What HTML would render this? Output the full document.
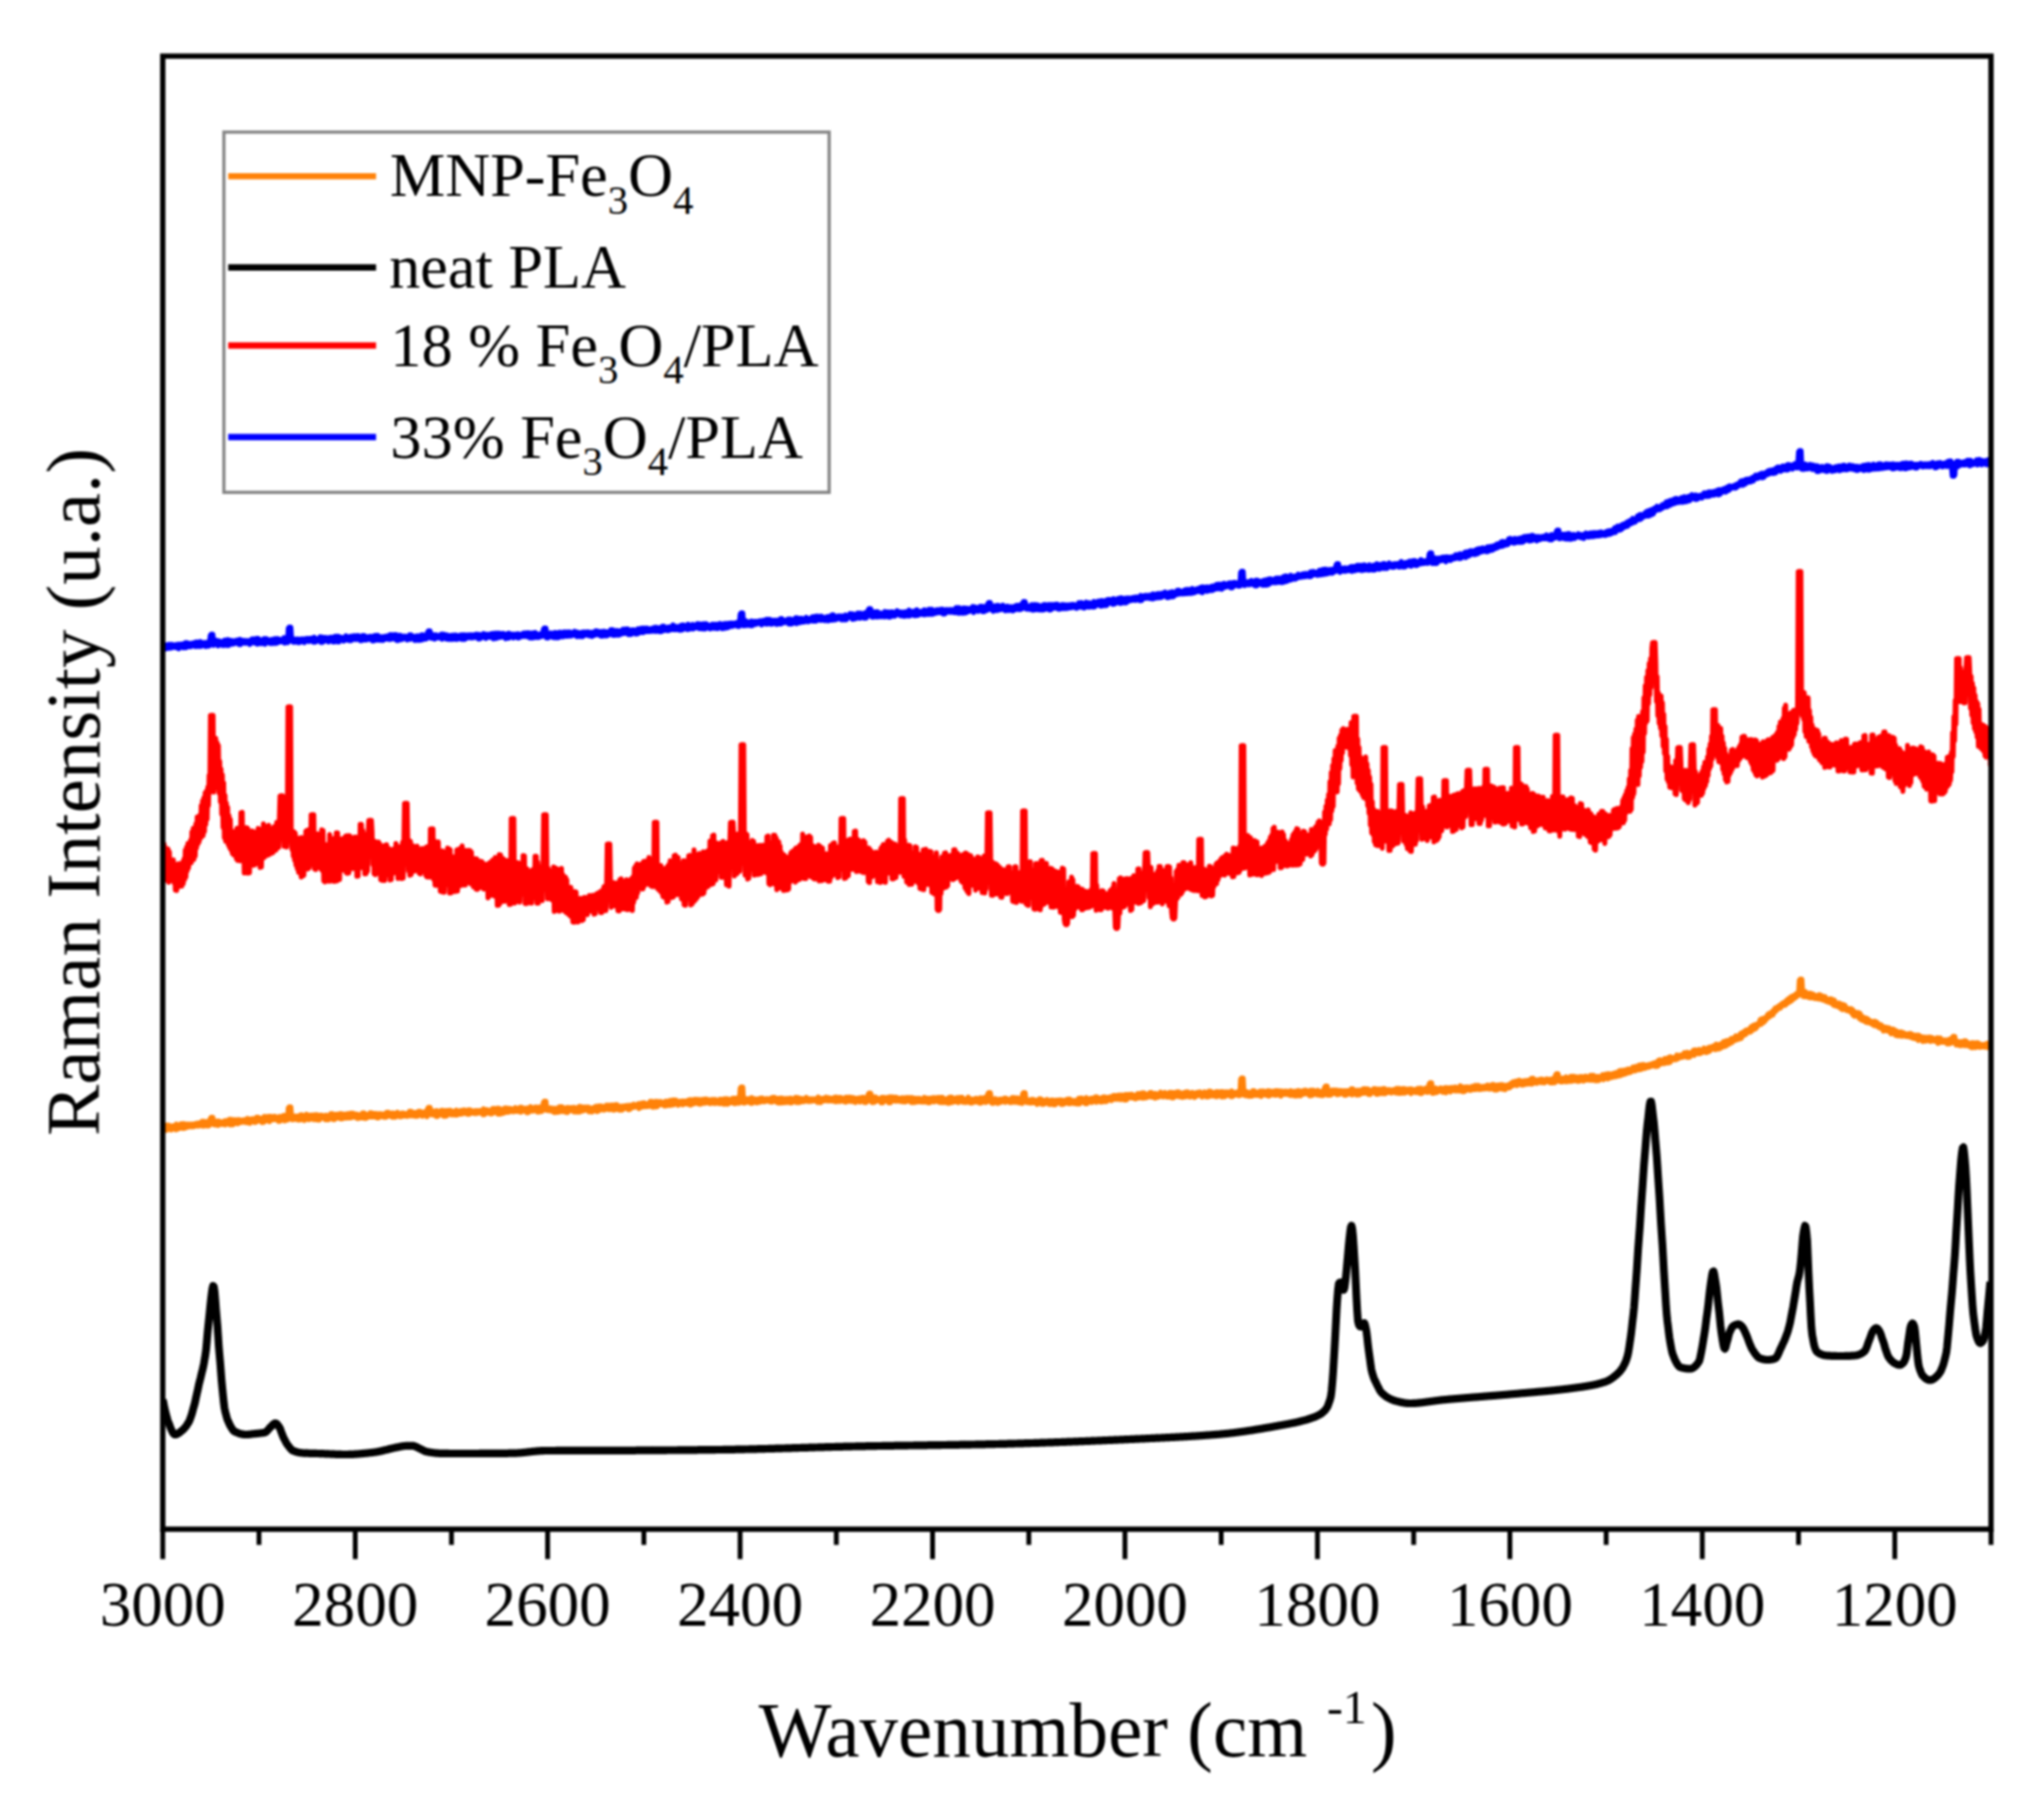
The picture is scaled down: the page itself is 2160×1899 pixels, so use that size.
<!DOCTYPE html>
<html lang="en">
<head>
<meta charset="utf-8">
<title>Raman spectra</title>
<style>
html,body{margin:0;padding:0;background:#fff;}
body{width:2160px;height:1899px;overflow:hidden;}
svg{display:block;font-family:"Liberation Serif",serif;fill:#000;}
.soft{filter:blur(1.1px);}
.curve{fill:none;stroke-linejoin:round;stroke-linecap:butt;}
.axis line{stroke:#000;stroke-width:5.1;}
.ticklab text{font-size:66.6px;}
.leg text{font-size:65.8px;}
.sub{font-size:43px;}
</style>
</head>
<body>
<svg width="2160" height="1899" viewBox="0 0 2160 1899">
<rect x="0" y="0" width="2160" height="1899" fill="#fff"/>
<g class="soft">
<!-- curves -->
<clipPath id="plot"><rect x="171.0" y="59.3" width="1934.0" height="1556.7"/></clipPath>
<g clip-path="url(#plot)">
<polyline class="curve" stroke="#0000ff" stroke-width="5.6" points="172.0,681.4 172.8,686.0 173.6,681.2 174.4,685.8 175.2,681.7 176.0,685.3 176.8,681.5 177.6,684.9 178.4,681.0 179.2,684.8 180.0,681.3 180.8,684.7 181.6,681.1 182.4,684.1 183.2,681.8 184.0,683.9 184.8,681.7 185.6,684.1 186.4,681.3 187.2,683.9 188.0,681.1 188.8,685.5 189.6,680.9 190.4,683.2 191.2,681.1 192.0,683.0 192.8,680.6 193.6,684.4 194.4,680.5 195.2,684.2 196.0,679.4 196.8,684.3 197.6,679.3 198.4,683.1 199.2,680.7 200.0,683.0 200.8,680.2 201.6,683.3 202.4,680.0 203.2,682.3 204.0,679.5 204.8,682.2 205.6,679.3 206.4,683.1 207.2,678.7 208.0,683.0 208.8,678.6 209.6,683.0 210.4,678.5 211.2,682.9 212.0,678.2 212.8,682.8 213.6,679.5 214.4,682.0 215.2,679.4 216.0,681.9 216.8,679.1 217.6,683.1 218.4,679.0 219.2,682.7 220.0,678.7 220.8,682.6 221.6,678.6 222.4,671.5 223.2,670.5 224.0,671.5 224.8,670.5 225.6,681.9 226.4,677.2 227.2,680.8 228.0,676.5 228.8,680.7 229.6,677.3 230.4,682.4 231.2,677.2 232.0,681.4 232.8,678.5 233.6,681.4 234.4,678.0 235.2,682.0 236.0,677.9 236.8,681.9 237.6,676.6 238.4,680.3 239.2,676.5 240.0,682.0 240.8,676.1 241.6,682.0 242.4,676.9 243.2,679.8 244.0,676.9 244.8,680.6 245.6,677.4 246.4,680.5 247.2,677.3 248.0,679.6 248.8,677.3 249.6,679.6 250.4,676.5 251.2,679.6 252.0,676.5 252.8,680.9 253.6,675.8 254.4,680.9 255.2,677.1 256.0,679.3 256.8,677.0 257.6,679.2 258.4,677.2 259.2,679.7 260.0,677.2 260.8,679.3 261.6,677.4 262.4,679.2 263.2,677.2 264.0,680.8 264.8,677.1 265.6,679.0 266.4,675.4 267.2,678.9 268.0,675.3 268.8,679.3 269.6,675.9 270.4,679.3 271.2,674.8 272.0,680.6 272.8,674.8 273.6,680.0 274.4,676.9 275.2,680.0 276.0,676.3 276.8,680.0 277.6,676.3 278.4,679.9 279.2,675.1 280.0,680.7 280.8,675.1 281.6,678.4 282.4,675.4 283.2,678.3 284.0,676.6 284.8,679.6 285.6,676.6 286.4,679.8 287.2,675.9 288.0,679.8 288.8,675.9 289.6,679.7 290.4,675.2 291.2,679.7 292.0,675.1 292.8,679.5 293.6,675.0 294.4,678.1 295.2,675.6 296.0,678.1 296.8,676.1 297.6,678.0 298.4,676.1 299.2,678.0 300.0,674.1 300.8,679.5 301.6,674.0 302.4,679.0 303.2,675.3 304.0,679.0 304.8,664.0 305.6,663.0 306.4,664.0 307.2,663.0 308.0,675.0 308.8,677.6 309.6,675.0 310.4,678.6 311.2,675.9 312.0,678.5 312.8,675.5 313.6,677.6 314.4,675.5 315.2,679.0 316.0,675.7 316.8,678.9 317.6,675.5 318.4,677.9 319.2,675.4 320.0,677.8 320.8,675.3 321.6,678.9 322.4,675.3 323.2,677.2 324.0,674.8 324.8,677.2 325.6,674.9 326.4,677.9 327.2,674.9 328.0,677.1 328.8,674.7 329.6,677.0 330.4,674.7 331.2,678.5 332.0,673.5 332.8,678.5 333.6,675.1 334.4,677.8 335.2,675.1 336.0,677.0 336.8,674.9 337.6,677.0 338.4,673.2 339.2,678.8 340.0,673.2 340.8,678.7 341.6,673.9 342.4,677.8 343.2,673.8 344.0,676.9 344.8,674.0 345.6,676.9 346.4,674.3 347.2,678.2 348.0,674.2 348.8,676.9 349.6,673.6 350.4,676.8 351.2,673.5 352.0,678.2 352.8,674.2 353.6,678.2 354.4,672.5 355.2,676.5 356.0,672.5 356.8,678.2 357.6,672.5 358.4,678.1 359.2,673.7 360.0,675.9 360.8,673.7 361.6,675.9 362.4,674.2 363.2,677.3 364.0,674.1 364.8,676.2 365.6,672.1 366.4,676.1 367.2,673.5 368.0,676.4 368.8,673.5 369.6,676.8 370.4,672.6 371.2,676.8 372.0,672.6 372.8,675.5 373.6,672.0 374.4,675.5 375.2,672.1 376.0,675.7 376.8,672.1 377.6,675.5 378.4,671.8 379.2,675.4 380.0,672.8 380.8,676.8 381.6,672.8 382.4,676.8 383.2,671.8 384.0,675.5 384.8,671.8 385.6,676.1 386.4,672.7 387.2,676.1 388.0,673.1 388.8,675.7 389.6,673.1 390.4,675.4 391.2,672.6 392.0,675.4 392.8,672.6 393.6,677.1 394.4,672.9 395.2,677.1 396.0,671.8 396.8,675.9 397.6,671.7 398.4,676.3 399.2,671.5 400.0,676.2 400.8,673.1 401.6,676.4 402.4,673.1 403.2,676.3 404.0,673.0 404.8,676.6 405.6,673.0 406.4,675.2 407.2,672.5 408.0,675.2 408.8,672.3 409.6,674.9 410.4,672.3 411.2,675.6 412.0,671.0 412.8,675.6 413.6,670.9 414.4,674.9 415.2,671.0 416.0,674.9 416.8,670.9 417.6,674.7 418.4,670.8 419.2,676.7 420.0,671.5 420.8,676.7 421.6,671.6 422.4,675.8 423.2,671.6 424.0,675.8 424.8,672.5 425.6,675.3 426.4,672.5 427.2,674.7 428.0,672.3 428.8,674.7 429.6,672.9 430.4,676.1 431.2,672.9 432.0,675.5 432.8,671.0 433.6,675.4 434.4,671.0 435.2,674.6 436.0,672.3 436.8,674.6 437.6,672.7 438.4,676.6 439.2,672.6 440.0,676.5 440.8,672.2 441.6,676.5 442.4,672.2 443.2,676.4 444.0,672.1 444.8,676.3 445.6,671.1 446.4,676.0 447.2,671.1 448.0,675.2 448.8,672.6 449.6,675.2 450.4,672.2 451.2,674.6 452.0,668.0 452.8,667.0 453.6,668.0 454.4,667.0 455.2,670.5 456.0,674.3 456.8,670.6 457.6,674.2 458.4,671.2 459.2,675.2 460.0,671.1 460.8,674.0 461.6,671.3 462.4,674.0 463.2,672.0 464.0,673.9 464.8,672.0 465.6,673.9 466.4,670.3 467.2,675.3 468.0,670.3 468.8,674.4 469.6,670.6 470.4,674.4 471.2,671.2 472.0,675.2 472.8,671.2 473.6,675.4 474.4,671.9 475.2,675.4 476.0,671.9 476.8,675.5 477.6,671.7 478.4,675.5 479.2,671.4 480.0,674.8 480.8,671.3 481.6,675.4 482.4,671.4 483.2,675.4 484.0,671.9 484.8,674.9 485.6,671.8 486.4,674.8 487.2,671.2 488.0,675.5 488.8,671.1 489.6,675.4 490.4,671.0 491.2,675.4 492.0,671.3 492.8,673.4 493.6,671.3 494.4,673.8 495.2,671.1 496.0,673.7 496.8,671.0 497.6,674.0 498.4,671.1 499.2,673.9 500.0,671.0 500.8,673.6 501.6,671.0 502.4,673.4 503.2,670.3 504.0,673.4 504.8,670.6 505.6,675.1 506.4,670.6 507.2,675.0 508.0,671.2 508.8,673.1 509.6,671.2 510.4,673.3 511.2,669.7 512.0,673.2 512.8,670.4 513.6,674.6 514.4,670.4 515.2,673.3 516.0,670.5 516.8,673.2 517.6,670.5 518.4,673.3 519.2,669.8 520.0,673.2 520.8,669.6 521.6,675.0 522.4,669.6 523.2,674.4 524.0,669.3 524.8,674.4 525.6,669.4 526.4,673.5 527.2,669.3 528.0,673.5 528.8,669.7 529.6,672.8 530.4,669.7 531.2,673.0 532.0,669.5 532.8,673.0 533.6,670.8 534.4,674.8 535.2,670.7 536.0,674.2 536.8,669.5 537.6,674.2 538.4,669.4 539.2,672.5 540.0,670.5 540.8,672.5 541.6,670.4 542.4,673.9 543.2,670.4 544.0,673.0 544.8,670.6 545.6,673.0 546.4,670.0 547.2,673.8 548.0,670.0 548.8,673.8 549.6,670.7 550.4,672.7 551.2,670.6 552.0,672.4 552.8,669.3 553.6,672.4 554.4,669.0 555.2,672.2 556.0,669.0 556.8,672.6 557.6,668.9 558.4,672.6 559.2,668.9 560.0,674.0 560.8,670.3 561.6,674.0 562.4,669.2 563.2,674.0 564.0,669.1 564.8,673.4 565.6,668.6 566.4,673.4 567.2,670.3 568.0,673.5 568.8,670.3 569.6,673.5 570.4,670.0 571.2,672.2 572.0,670.0 572.8,672.4 573.6,669.8 574.4,665.0 575.2,664.0 576.0,665.0 576.8,664.0 577.6,674.0 578.4,669.9 579.2,674.0 580.0,669.9 580.8,672.5 581.6,669.0 582.4,672.4 583.2,669.4 584.0,673.3 584.8,669.4 585.6,673.7 586.4,668.6 587.2,673.6 588.0,668.9 588.8,673.8 589.6,668.9 590.4,673.7 591.2,668.4 592.0,671.9 592.8,668.4 593.6,672.7 594.4,669.4 595.2,672.7 596.0,668.2 596.8,672.0 597.6,668.2 598.4,672.1 599.2,668.1 600.0,672.1 600.8,668.0 601.6,672.0 602.4,668.0 603.2,672.0 604.0,669.4 604.8,671.5 605.6,669.4 606.4,671.0 607.2,667.3 608.0,671.0 608.8,668.2 609.6,672.6 610.4,668.2 611.2,672.5 612.0,668.8 612.8,672.3 613.6,668.8 614.4,672.6 615.2,668.4 616.0,672.6 616.8,668.1 617.6,670.9 618.4,668.1 619.2,671.0 620.0,668.0 620.8,670.9 621.6,667.9 622.4,671.7 623.2,668.5 624.0,671.6 624.8,668.4 625.6,672.5 626.4,668.3 627.2,671.2 628.0,668.1 628.8,671.1 629.6,666.9 630.4,670.5 631.2,666.9 632.0,670.4 632.8,667.7 633.6,671.2 634.4,667.6 635.2,672.1 636.0,668.3 636.8,672.1 637.6,667.4 638.4,671.7 639.2,667.4 640.0,671.8 640.8,667.8 641.6,671.7 642.4,667.8 643.2,670.3 644.0,668.0 644.8,670.3 645.6,665.7 646.4,669.9 647.2,665.6 648.0,671.3 648.8,667.3 649.6,671.2 650.4,666.6 651.2,670.9 652.0,666.5 652.8,670.8 653.6,666.9 654.4,670.9 655.2,666.8 656.0,669.6 656.8,667.3 657.6,669.6 658.4,665.2 659.2,669.2 660.0,665.1 660.8,669.1 661.6,664.9 662.4,669.0 663.2,664.8 664.0,670.4 664.8,666.6 665.6,670.3 666.4,666.0 667.2,670.3 668.0,665.9 668.8,668.8 669.6,665.8 670.4,668.6 671.2,666.1 672.0,669.8 672.8,666.0 673.6,669.7 674.4,664.7 675.2,668.3 676.0,664.6 676.8,668.3 677.6,664.1 678.4,668.1 679.2,664.1 680.0,668.3 680.8,663.9 681.6,667.4 682.4,664.0 683.2,667.2 684.0,663.9 684.8,667.2 685.6,665.1 686.4,667.1 687.2,664.7 688.0,666.9 688.8,664.5 689.6,666.8 690.4,663.8 691.2,666.7 692.0,663.2 692.8,667.1 693.6,663.0 694.4,667.0 695.2,663.7 696.0,666.0 696.8,663.5 697.6,667.4 698.4,663.2 699.2,667.2 700.0,662.1 700.8,665.6 701.6,661.9 702.4,666.1 703.2,663.6 704.0,665.9 704.8,663.4 705.6,666.3 706.4,662.9 707.2,666.1 708.0,662.7 708.8,664.8 709.6,662.5 710.4,665.2 711.2,660.6 712.0,665.1 712.8,662.4 713.6,665.3 714.4,662.2 715.2,665.2 716.0,662.4 716.8,665.0 717.6,662.3 718.4,665.8 719.2,661.4 720.0,665.7 720.8,660.7 721.6,665.3 722.4,660.6 723.2,663.6 724.0,661.6 724.8,663.5 725.6,661.5 726.4,665.1 727.2,659.8 728.0,665.0 728.8,661.3 729.6,664.2 730.4,661.2 731.2,664.4 732.0,660.0 732.8,664.4 733.6,661.1 734.4,663.1 735.2,661.1 736.0,663.1 736.8,659.3 737.6,663.7 738.4,659.3 739.2,664.2 740.0,660.9 740.8,664.2 741.6,659.6 742.4,664.5 743.2,659.6 744.0,664.4 744.8,659.3 745.6,664.4 746.4,659.2 747.2,663.0 748.0,660.6 748.8,662.9 749.6,660.9 750.4,664.4 751.2,660.9 752.0,663.7 752.8,659.8 753.6,663.6 754.4,660.0 755.2,663.8 756.0,659.9 756.8,663.8 757.6,659.9 758.4,664.2 759.2,659.8 760.0,663.0 760.8,659.0 761.6,662.9 762.4,659.7 763.2,664.2 764.0,659.6 764.8,663.9 765.6,659.3 766.4,663.7 767.2,659.2 768.0,663.3 768.8,659.0 769.6,663.1 770.4,658.8 771.2,661.8 772.0,658.6 772.8,661.9 773.6,658.5 774.4,661.7 775.2,658.8 776.0,660.7 776.8,658.6 777.6,660.5 778.4,658.1 779.2,661.7 780.0,657.9 780.8,661.9 781.6,657.8 782.4,649.0 783.2,648.0 784.0,649.0 784.8,648.0 785.6,661.1 786.4,656.2 787.2,661.0 788.0,656.1 788.8,660.8 789.6,657.6 790.4,660.7 791.2,657.3 792.0,659.2 792.8,657.2 793.6,661.1 794.4,656.4 795.2,661.1 796.0,656.9 796.8,659.8 797.6,656.8 798.4,659.7 799.2,656.9 800.0,659.2 800.8,656.8 801.6,658.7 802.4,656.4 803.2,658.7 804.0,656.1 804.8,660.2 805.6,656.0 806.4,659.1 807.2,655.5 808.0,659.0 808.8,655.4 809.6,659.3 810.4,654.5 811.2,659.3 812.0,654.8 812.8,658.5 813.6,654.7 814.4,659.4 815.2,655.8 816.0,659.3 816.8,655.7 817.6,658.7 818.4,655.6 819.2,658.7 820.0,655.6 820.8,659.7 821.6,655.6 822.4,659.2 823.2,655.9 824.0,659.1 824.8,654.0 825.6,659.2 826.4,653.9 827.2,658.0 828.0,655.9 828.8,657.9 829.6,655.8 830.4,657.5 831.2,655.5 832.0,657.4 832.8,654.4 833.6,659.2 834.4,654.3 835.2,659.3 836.0,654.4 836.8,659.2 837.6,655.0 838.4,658.3 839.2,654.9 840.0,658.2 840.8,653.1 841.6,658.9 842.4,653.0 843.2,658.1 844.0,654.3 844.8,658.0 845.6,653.7 846.4,657.6 847.2,653.6 848.0,657.1 848.8,654.6 849.6,657.0 850.4,654.5 851.2,656.7 852.0,652.5 852.8,656.6 853.6,654.2 854.4,656.8 855.2,654.1 856.0,656.0 856.8,653.4 857.6,655.9 858.4,652.0 859.2,656.2 860.0,651.8 860.8,656.1 861.6,651.5 862.4,656.2 863.2,651.4 864.0,655.1 864.8,651.4 865.6,655.0 866.4,651.5 867.2,655.5 868.0,651.3 868.8,655.1 869.6,652.7 870.4,655.0 871.2,652.5 872.0,655.7 872.8,652.7 873.6,655.5 874.4,651.8 875.2,655.9 876.0,651.6 876.8,655.2 877.6,652.3 878.4,655.1 879.2,650.0 880.0,655.1 880.8,649.9 881.6,654.9 882.4,651.9 883.2,654.7 884.0,651.8 884.8,653.7 885.6,651.1 886.4,653.6 887.2,651.2 888.0,653.7 888.8,651.1 889.6,654.8 890.4,651.2 891.2,654.6 892.0,651.1 892.8,654.8 893.6,650.0 894.4,654.7 895.2,650.8 896.0,652.6 896.8,650.6 897.6,652.3 898.4,648.6 899.2,652.1 900.0,649.1 900.8,654.2 901.6,648.9 902.4,654.1 903.2,649.6 904.0,653.7 904.8,649.5 905.6,652.9 906.4,648.2 907.2,652.7 908.0,648.2 908.8,653.2 909.6,648.1 910.4,652.5 911.2,649.1 912.0,652.4 912.8,649.0 913.6,653.1 914.4,647.6 915.2,653.0 916.0,647.3 916.8,651.3 917.6,644.5 918.4,643.5 919.2,644.5 920.0,643.5 920.8,648.5 921.6,652.0 922.4,648.4 923.2,651.9 924.0,646.9 924.8,650.8 925.6,646.8 926.4,651.8 927.2,646.6 928.0,651.8 928.8,648.0 929.6,650.6 930.4,648.0 931.2,651.6 932.0,648.4 932.8,651.5 933.6,648.3 934.4,651.7 935.2,646.4 936.0,651.6 936.8,646.9 937.6,650.5 938.4,646.8 939.2,652.0 940.0,647.7 940.8,651.9 941.6,646.9 942.4,650.8 943.2,646.8 944.0,650.8 944.8,647.4 945.6,651.0 946.4,647.3 947.2,649.4 948.0,645.6 948.8,649.3 949.6,647.1 950.4,649.3 951.2,647.0 952.0,650.6 952.8,647.2 953.6,650.5 954.4,647.1 955.2,651.1 956.0,647.3 956.8,651.0 957.6,646.7 958.4,650.1 959.2,646.6 960.0,650.8 960.8,644.9 961.6,650.7 962.4,646.7 963.2,648.7 964.0,646.7 964.8,648.6 965.6,646.1 966.4,650.4 967.2,646.0 968.0,650.3 968.8,644.5 969.6,650.3 970.4,646.7 971.2,649.5 972.0,646.6 972.8,648.9 973.6,646.1 974.4,648.8 975.2,646.0 976.0,649.5 976.8,644.6 977.6,649.4 978.4,646.2 979.2,648.2 980.0,646.1 980.8,649.1 981.6,644.0 982.4,649.0 983.2,644.2 984.0,649.0 984.8,644.1 985.6,648.9 986.4,645.7 987.2,648.4 988.0,645.6 988.8,647.7 989.6,644.5 990.4,647.6 991.2,644.5 992.0,647.1 992.8,644.4 993.6,647.3 994.4,644.0 995.2,647.2 996.0,643.9 996.8,648.7 997.6,644.7 998.4,648.6 999.2,644.5 1000.0,647.0 1000.8,644.4 1001.6,646.7 1002.4,644.6 1003.2,646.6 1004.0,644.4 1004.8,646.8 1005.6,644.3 1006.4,646.7 1007.2,644.4 1008.0,647.2 1008.8,644.3 1009.6,647.3 1010.4,642.4 1011.2,647.2 1012.0,642.4 1012.8,647.9 1013.6,642.3 1014.4,647.7 1015.2,643.6 1016.0,647.6 1016.8,643.5 1017.6,647.8 1018.4,642.6 1019.2,647.7 1020.0,643.0 1020.8,647.4 1021.6,642.9 1022.4,646.2 1023.2,643.3 1024.0,646.1 1024.8,643.0 1025.6,645.4 1026.4,642.9 1027.2,645.3 1028.0,641.2 1028.8,647.2 1029.6,641.2 1030.4,645.2 1031.2,642.7 1032.0,645.2 1032.8,642.1 1033.6,646.0 1034.4,642.0 1035.2,645.1 1036.0,640.9 1036.8,645.0 1037.6,640.8 1038.4,646.3 1039.2,642.4 1040.0,646.2 1040.8,641.0 1041.6,644.6 1042.4,641.0 1043.2,645.0 1044.0,638.0 1044.8,637.0 1045.6,638.0 1046.4,637.0 1047.2,641.0 1048.0,644.4 1048.8,640.7 1049.6,645.9 1050.4,640.6 1051.2,645.1 1052.0,640.4 1052.8,645.1 1053.6,640.0 1054.4,645.0 1055.2,639.9 1056.0,644.2 1056.8,640.6 1057.6,644.1 1058.4,640.5 1059.2,643.8 1060.0,639.7 1060.8,643.7 1061.6,641.4 1062.4,645.3 1063.2,641.4 1064.0,645.0 1064.8,640.7 1065.6,644.9 1066.4,641.4 1067.2,644.8 1068.0,641.3 1068.8,644.7 1069.6,641.5 1070.4,645.4 1071.2,641.4 1072.0,644.1 1072.8,640.6 1073.6,644.1 1074.4,639.9 1075.2,643.2 1076.0,639.8 1076.8,644.1 1077.6,639.6 1078.4,644.1 1079.2,639.6 1080.0,643.3 1080.8,637.0 1081.6,636.0 1082.4,637.0 1083.2,636.0 1084.0,639.0 1084.8,643.6 1085.6,640.7 1086.4,643.5 1087.2,640.6 1088.0,643.8 1088.8,640.6 1089.6,643.7 1090.4,639.2 1091.2,644.7 1092.0,639.2 1092.8,644.4 1093.6,639.0 1094.4,644.3 1095.2,639.4 1096.0,643.3 1096.8,639.4 1097.6,644.3 1098.4,640.4 1099.2,644.3 1100.0,640.4 1100.8,644.4 1101.6,640.1 1102.4,644.4 1103.2,639.1 1104.0,644.1 1104.8,639.1 1105.6,643.5 1106.4,640.3 1107.2,643.5 1108.0,639.1 1108.8,644.4 1109.6,639.1 1110.4,644.4 1111.2,639.1 1112.0,643.3 1112.8,639.1 1113.6,642.5 1114.4,639.9 1115.2,642.5 1116.0,638.7 1116.8,642.7 1117.6,638.7 1118.4,643.6 1119.2,640.0 1120.0,643.6 1120.8,640.0 1121.6,642.9 1122.4,639.0 1123.2,642.8 1124.0,639.3 1124.8,642.9 1125.6,639.3 1126.4,642.8 1127.2,639.9 1128.0,642.8 1128.8,639.4 1129.6,642.3 1130.4,639.3 1131.2,642.2 1132.0,639.0 1132.8,641.9 1133.6,638.9 1134.4,641.7 1135.2,639.0 1136.0,641.6 1136.8,639.7 1137.6,642.7 1138.4,639.5 1139.2,641.7 1140.0,637.2 1140.8,641.5 1141.6,637.0 1142.4,641.6 1143.2,636.9 1144.0,641.4 1144.8,638.9 1145.6,642.5 1146.4,638.7 1147.2,641.5 1148.0,636.4 1148.8,641.2 1149.6,637.3 1150.4,641.5 1151.2,637.1 1152.0,641.3 1152.8,637.7 1153.6,641.0 1154.4,637.5 1155.2,641.4 1156.0,635.7 1156.8,641.2 1157.6,636.5 1158.4,638.9 1159.2,636.3 1160.0,639.3 1160.8,635.4 1161.6,639.1 1162.4,635.3 1163.2,640.4 1164.0,634.7 1164.8,640.2 1165.6,635.3 1166.4,638.7 1167.2,635.1 1168.0,639.8 1168.8,635.9 1169.6,639.6 1170.4,633.9 1171.2,637.5 1172.0,633.7 1172.8,637.2 1173.6,633.8 1174.4,636.8 1175.2,633.6 1176.0,638.5 1176.8,632.8 1177.6,638.3 1178.4,634.2 1179.2,636.8 1180.0,634.0 1180.8,636.9 1181.6,632.5 1182.4,636.6 1183.2,632.3 1184.0,637.6 1184.8,631.8 1185.6,637.3 1186.4,632.9 1187.2,635.3 1188.0,632.7 1188.8,637.0 1189.6,632.4 1190.4,636.8 1191.2,632.3 1192.0,635.1 1192.8,632.1 1193.6,634.8 1194.4,632.4 1195.2,634.3 1196.0,632.2 1196.8,634.1 1197.6,631.7 1198.4,633.9 1199.2,631.3 1200.0,634.3 1200.8,631.0 1201.6,633.9 1202.4,631.3 1203.2,633.7 1204.0,631.1 1204.8,634.6 1205.6,629.4 1206.4,634.4 1207.2,630.0 1208.0,632.3 1208.8,629.8 1209.6,632.1 1210.4,629.3 1211.2,631.9 1212.0,629.7 1212.8,631.9 1213.6,629.5 1214.4,631.7 1215.2,629.2 1216.0,632.5 1216.8,629.0 1217.6,632.7 1218.4,627.8 1219.2,632.6 1220.0,628.3 1220.8,631.6 1221.6,628.1 1222.4,631.7 1223.2,627.6 1224.0,631.5 1224.8,627.4 1225.6,631.4 1226.4,627.6 1227.2,631.2 1228.0,627.1 1228.8,629.7 1229.6,626.9 1230.4,629.9 1231.2,625.8 1232.0,629.7 1232.8,627.2 1233.6,631.4 1234.4,627.0 1235.2,631.2 1236.0,626.2 1236.8,629.2 1237.6,626.0 1238.4,630.6 1239.2,625.4 1240.0,630.4 1240.8,626.5 1241.6,629.0 1242.4,626.3 1243.2,628.2 1244.0,624.0 1244.8,628.0 1245.6,623.8 1246.4,627.5 1247.2,624.8 1248.0,627.3 1248.8,625.2 1249.6,627.4 1250.4,625.0 1251.2,627.4 1252.0,623.5 1252.8,627.2 1253.6,623.2 1254.4,627.2 1255.2,623.0 1256.0,627.0 1256.8,623.2 1257.6,626.8 1258.4,623.0 1259.2,626.8 1260.0,622.0 1260.8,626.6 1261.6,623.7 1262.4,626.2 1263.2,623.5 1264.0,625.1 1264.8,622.4 1265.6,624.9 1266.4,622.1 1267.2,625.0 1268.0,621.3 1268.8,624.7 1269.6,620.5 1270.4,626.3 1271.2,620.3 1272.0,623.8 1272.8,620.8 1273.6,623.6 1274.4,620.6 1275.2,624.8 1276.0,620.4 1276.8,624.5 1277.6,620.6 1278.4,623.6 1279.2,620.3 1280.0,623.9 1280.8,619.6 1281.6,623.7 1282.4,619.4 1283.2,622.5 1284.0,619.1 1284.8,622.3 1285.6,617.9 1286.4,622.0 1287.2,617.6 1288.0,622.1 1288.8,617.6 1289.6,621.8 1290.4,617.6 1291.2,622.6 1292.0,617.3 1292.8,620.9 1293.6,616.6 1294.4,620.6 1295.2,618.3 1296.0,620.0 1296.8,618.1 1297.6,619.7 1298.4,616.3 1299.2,619.4 1300.0,616.0 1300.8,621.1 1301.6,616.6 1302.4,620.9 1303.2,615.7 1304.0,619.2 1304.8,615.5 1305.6,618.7 1306.4,616.4 1307.2,618.5 1308.0,616.2 1308.8,619.3 1309.6,615.6 1310.4,619.2 1311.2,605.0 1312.0,604.0 1312.8,605.0 1313.6,604.0 1314.4,616.0 1315.2,618.7 1316.0,615.4 1316.8,617.6 1317.6,615.3 1318.4,617.5 1319.2,614.8 1320.0,617.9 1320.8,614.7 1321.6,617.5 1322.4,613.6 1323.2,617.4 1324.0,614.9 1324.8,616.9 1325.6,614.9 1326.4,619.0 1327.2,613.4 1328.0,618.9 1328.8,613.3 1329.6,617.5 1330.4,614.6 1331.2,617.4 1332.0,614.4 1332.8,616.6 1333.6,614.3 1334.4,618.3 1335.2,613.6 1336.0,618.1 1336.8,613.2 1337.6,618.3 1338.4,613.0 1339.2,618.1 1340.0,612.3 1340.8,617.5 1341.6,612.1 1342.4,615.9 1343.2,611.9 1344.0,615.7 1344.8,613.2 1345.6,615.3 1346.4,612.9 1347.2,615.7 1348.0,611.4 1348.8,615.4 1349.6,611.1 1350.4,615.3 1351.2,611.1 1352.0,615.0 1352.8,611.4 1353.6,615.5 1354.4,611.1 1355.2,615.4 1356.0,609.8 1356.8,615.1 1357.6,609.1 1358.4,614.6 1359.2,608.8 1360.0,614.3 1360.8,609.7 1361.6,612.6 1362.4,609.4 1363.2,612.9 1364.0,608.0 1364.8,612.6 1365.6,609.6 1366.4,611.3 1367.2,609.3 1368.0,611.9 1368.8,608.9 1369.6,611.6 1370.4,608.6 1371.2,610.4 1372.0,606.9 1372.8,610.1 1373.6,607.8 1374.4,609.8 1375.2,607.5 1376.0,609.6 1376.8,606.5 1377.6,609.3 1378.4,606.5 1379.2,609.3 1380.0,606.2 1380.8,609.0 1381.6,606.6 1382.4,608.8 1383.2,606.3 1384.0,609.4 1384.8,604.6 1385.6,609.1 1386.4,604.4 1387.2,607.5 1388.0,604.1 1388.8,607.2 1389.6,605.2 1390.4,607.0 1391.2,604.9 1392.0,607.9 1392.8,604.4 1393.6,607.6 1394.4,602.8 1395.2,607.4 1396.0,602.6 1396.8,607.2 1397.6,602.0 1398.4,607.0 1399.2,601.8 1400.0,606.7 1400.8,601.6 1401.6,606.5 1402.4,602.3 1403.2,606.1 1404.0,602.1 1404.8,605.6 1405.6,602.2 1406.4,605.4 1407.2,601.8 1408.0,605.6 1408.8,601.6 1409.6,604.0 1410.4,601.9 1411.2,603.8 1412.0,597.0 1412.8,596.0 1413.6,597.0 1414.4,596.0 1415.2,601.3 1416.0,604.7 1416.8,601.1 1417.6,603.2 1418.4,601.0 1419.2,603.0 1420.0,600.4 1420.8,603.6 1421.6,600.3 1422.4,603.5 1423.2,600.7 1424.0,602.7 1424.8,600.6 1425.6,602.9 1426.4,599.6 1427.2,602.8 1428.0,598.9 1428.8,603.7 1429.6,598.8 1430.4,603.1 1431.2,598.8 1432.0,603.0 1432.8,598.6 1433.6,602.3 1434.4,597.6 1435.2,602.2 1436.0,597.7 1436.8,601.7 1437.6,597.6 1438.4,602.8 1439.2,598.2 1440.0,602.7 1440.8,597.3 1441.6,602.2 1442.4,597.2 1443.2,602.1 1444.0,598.3 1444.8,601.4 1445.6,598.1 1446.4,602.4 1447.2,597.1 1448.0,602.3 1448.8,598.2 1449.6,601.6 1450.4,598.1 1451.2,602.3 1452.0,597.4 1452.8,602.2 1453.6,597.3 1454.4,601.2 1455.2,595.9 1456.0,601.0 1456.8,596.8 1457.6,601.5 1458.4,596.7 1459.2,600.5 1460.0,596.8 1460.8,600.3 1461.6,595.9 1462.4,600.6 1463.2,595.7 1464.0,600.4 1464.8,596.7 1465.6,600.6 1466.4,596.6 1467.2,598.7 1468.0,595.1 1468.8,598.6 1469.6,596.8 1470.4,599.2 1471.2,596.6 1472.0,599.3 1472.8,596.1 1473.6,599.2 1474.4,595.9 1475.2,597.9 1476.0,595.9 1476.8,597.7 1477.6,595.6 1478.4,599.2 1479.2,595.4 1480.0,598.8 1480.8,593.5 1481.6,598.7 1482.4,595.5 1483.2,599.1 1484.0,595.3 1484.8,599.0 1485.6,594.7 1486.4,597.3 1487.2,594.6 1488.0,597.4 1488.8,593.7 1489.6,597.2 1490.4,593.2 1491.2,598.3 1492.0,593.1 1492.8,596.8 1493.6,592.7 1494.4,596.6 1495.2,592.5 1496.0,597.5 1496.8,593.4 1497.6,597.3 1498.4,593.5 1499.2,596.1 1500.0,593.3 1500.8,595.7 1501.6,591.6 1502.4,595.6 1503.2,593.1 1504.0,595.2 1504.8,593.0 1505.6,595.1 1506.4,592.9 1507.2,594.7 1508.0,592.7 1508.8,595.0 1509.6,592.2 1510.4,585.5 1511.2,584.5 1512.0,585.5 1512.8,584.5 1513.6,595.4 1514.4,589.8 1515.2,595.2 1516.0,589.6 1516.8,595.4 1517.6,590.0 1518.4,595.2 1519.2,590.2 1520.0,592.9 1520.8,589.9 1521.6,592.6 1522.4,589.8 1523.2,592.3 1524.0,589.1 1524.8,592.0 1525.6,588.9 1526.4,591.8 1527.2,588.8 1528.0,593.6 1528.8,588.6 1529.6,591.4 1530.4,589.0 1531.2,591.1 1532.0,589.2 1532.8,592.2 1533.6,588.9 1534.4,591.0 1535.2,588.4 1536.0,590.6 1536.8,588.1 1537.6,590.1 1538.4,586.4 1539.2,589.8 1540.0,586.4 1540.8,589.5 1541.6,586.1 1542.4,590.2 1543.2,585.3 1544.0,589.8 1544.8,586.6 1545.6,588.0 1546.4,586.2 1547.2,587.6 1548.0,583.8 1548.8,589.1 1549.6,583.4 1550.4,587.9 1551.2,584.3 1552.0,587.5 1552.8,582.5 1553.6,586.3 1554.4,582.0 1555.2,585.8 1556.0,582.5 1556.8,585.4 1557.6,582.1 1558.4,586.0 1559.2,581.7 1560.0,585.5 1560.8,580.6 1561.6,585.0 1562.4,580.1 1563.2,583.8 1564.0,580.2 1564.8,583.3 1565.6,579.6 1566.4,582.9 1567.2,579.2 1568.0,582.5 1568.8,579.9 1569.6,582.3 1570.4,579.4 1571.2,583.0 1572.0,578.0 1572.8,582.6 1573.6,578.1 1574.4,581.1 1575.2,577.7 1576.0,581.5 1576.8,577.7 1577.6,581.0 1578.4,577.2 1579.2,579.9 1580.0,576.6 1580.8,579.4 1581.6,575.4 1582.4,578.7 1583.2,574.8 1584.0,577.9 1584.8,574.7 1585.6,577.3 1586.4,572.9 1587.2,577.2 1588.0,572.3 1588.8,576.7 1589.6,573.2 1590.4,575.6 1591.2,572.7 1592.0,575.7 1592.8,572.3 1593.6,575.2 1594.4,569.5 1595.2,573.4 1596.0,569.0 1596.8,573.2 1597.6,570.4 1598.4,572.8 1599.2,570.0 1600.0,573.8 1600.8,569.2 1601.6,573.5 1602.4,569.6 1603.2,572.0 1604.0,569.3 1604.8,573.0 1605.6,569.1 1606.4,572.8 1607.2,568.6 1608.0,572.9 1608.8,568.4 1609.6,572.7 1610.4,567.2 1611.2,571.6 1612.0,567.1 1612.8,570.4 1613.6,568.6 1614.4,570.3 1615.2,566.7 1616.0,571.6 1616.8,566.5 1617.6,571.3 1618.4,566.0 1619.2,571.1 1620.0,565.9 1620.8,570.1 1621.6,566.9 1622.4,570.0 1623.2,567.3 1624.0,571.4 1624.8,567.2 1625.6,570.3 1626.4,567.4 1627.2,570.2 1628.0,567.4 1628.8,569.2 1629.6,567.3 1630.4,569.1 1631.2,566.9 1632.0,569.1 1632.8,566.8 1633.6,569.2 1634.4,565.4 1635.2,569.1 1636.0,567.2 1636.8,569.9 1637.6,567.1 1638.4,570.4 1639.2,565.3 1640.0,570.3 1640.8,565.2 1641.6,568.6 1642.4,565.4 1643.2,568.5 1644.0,566.7 1644.8,561.5 1645.6,560.5 1646.4,561.5 1647.2,560.5 1648.0,569.3 1648.8,564.8 1649.6,568.7 1650.4,564.7 1651.2,568.6 1652.0,564.8 1652.8,568.6 1653.6,564.7 1654.4,569.5 1655.2,565.5 1656.0,569.4 1656.8,564.1 1657.6,569.6 1658.4,564.0 1659.2,569.7 1660.0,565.5 1660.8,569.6 1661.6,565.4 1662.4,569.0 1663.2,564.9 1664.0,568.9 1664.8,565.5 1665.6,567.2 1666.4,565.4 1667.2,567.3 1668.0,564.2 1668.8,567.2 1669.6,565.3 1670.4,568.1 1671.2,565.2 1672.0,568.0 1672.8,565.0 1673.6,568.9 1674.4,564.9 1675.2,566.8 1676.0,563.4 1676.8,566.7 1677.6,564.0 1678.4,567.5 1679.2,563.9 1680.0,567.1 1680.8,563.4 1681.6,567.0 1682.4,563.3 1683.2,566.9 1684.0,563.0 1684.8,566.7 1685.6,563.2 1686.4,566.3 1687.2,563.0 1688.0,566.2 1688.8,563.8 1689.6,566.0 1690.4,562.5 1691.2,565.8 1692.0,562.3 1692.8,565.6 1693.6,563.4 1694.4,565.1 1695.2,563.1 1696.0,565.7 1696.8,562.4 1697.6,565.3 1698.4,561.6 1699.2,564.5 1700.0,561.0 1700.8,564.6 1701.6,561.1 1702.4,564.0 1703.2,560.5 1704.0,563.2 1704.8,559.8 1705.6,562.5 1706.4,557.9 1707.2,562.6 1708.0,557.2 1708.8,560.3 1709.6,556.2 1710.4,559.5 1711.2,556.3 1712.0,560.1 1712.8,555.5 1713.6,559.3 1714.4,554.7 1715.2,557.2 1716.0,553.9 1716.8,557.1 1717.6,553.5 1718.4,556.3 1719.2,552.0 1720.0,556.0 1720.8,551.3 1721.6,554.2 1722.4,550.4 1723.2,553.5 1724.0,549.7 1724.8,552.8 1725.6,547.9 1726.4,552.1 1727.2,549.2 1728.0,551.7 1728.8,548.4 1729.6,549.8 1730.4,545.6 1731.2,549.0 1732.0,544.6 1732.8,549.0 1733.6,543.7 1734.4,548.2 1735.2,544.6 1736.0,546.5 1736.8,543.8 1737.6,545.8 1738.4,542.0 1739.2,545.0 1740.0,540.9 1740.8,545.1 1741.6,540.0 1742.4,545.2 1743.2,539.7 1744.0,544.4 1744.8,538.9 1745.6,543.7 1746.4,538.9 1747.2,542.9 1748.0,537.4 1748.8,540.2 1749.6,536.6 1750.4,539.3 1751.2,535.2 1752.0,538.5 1752.8,536.2 1753.6,538.6 1754.4,535.5 1755.2,537.8 1756.0,534.0 1756.8,536.9 1757.6,533.2 1758.4,536.0 1759.2,533.3 1760.0,535.2 1760.8,530.7 1761.6,535.5 1762.4,530.0 1763.2,534.6 1764.0,529.5 1764.8,533.9 1765.6,528.9 1766.4,532.9 1767.2,529.9 1768.0,532.3 1768.8,527.8 1769.6,531.9 1770.4,527.2 1771.2,531.3 1772.0,526.9 1772.8,530.9 1773.6,527.8 1774.4,530.7 1775.2,527.4 1776.0,530.4 1776.8,526.2 1777.6,530.7 1778.4,525.8 1779.2,530.4 1780.0,525.1 1780.8,530.1 1781.6,525.7 1782.4,529.9 1783.2,525.4 1784.0,529.3 1784.8,524.7 1785.6,529.0 1786.4,524.4 1787.2,527.0 1788.0,522.9 1788.8,526.7 1789.6,523.6 1790.4,527.1 1791.2,523.3 1792.0,527.7 1792.8,523.4 1793.6,527.5 1794.4,524.0 1795.2,526.0 1796.0,523.8 1796.8,525.8 1797.6,523.4 1798.4,526.2 1799.2,523.1 1800.0,524.8 1800.8,521.1 1801.6,524.5 1802.4,521.1 1803.2,524.4 1804.0,520.8 1804.8,524.5 1805.6,520.2 1806.4,524.2 1807.2,519.9 1808.0,523.2 1808.8,520.2 1809.6,522.8 1810.4,519.8 1811.2,523.1 1812.0,519.4 1812.8,522.2 1813.6,519.0 1814.4,521.7 1815.2,518.0 1816.0,522.8 1816.8,517.5 1817.6,522.3 1818.4,518.0 1819.2,520.4 1820.0,517.4 1820.8,519.9 1821.6,516.5 1822.4,519.4 1823.2,516.0 1824.0,519.8 1824.8,515.4 1825.6,518.6 1826.4,514.3 1827.2,518.0 1828.0,513.7 1828.8,516.4 1829.6,514.1 1830.4,515.7 1831.2,513.8 1832.0,515.4 1832.8,513.1 1833.6,515.7 1834.4,512.4 1835.2,515.1 1836.0,511.7 1836.8,513.5 1837.6,511.1 1838.4,512.9 1839.2,508.8 1840.0,512.4 1840.8,508.2 1841.6,512.7 1842.4,508.0 1843.2,512.0 1844.0,507.3 1844.8,511.1 1845.6,506.6 1846.4,509.9 1847.2,506.8 1848.0,509.2 1848.8,506.1 1849.6,509.2 1850.4,506.1 1851.2,508.6 1852.0,504.7 1852.8,508.1 1853.6,504.0 1854.4,506.2 1855.2,502.3 1856.0,505.5 1856.8,502.6 1857.6,505.3 1858.4,501.9 1859.2,504.6 1860.0,501.0 1860.8,504.0 1861.6,500.3 1862.4,504.8 1863.2,500.4 1864.0,504.2 1864.8,500.2 1865.6,501.7 1866.4,499.6 1867.2,501.7 1868.0,498.0 1868.8,501.1 1869.6,497.4 1870.4,500.3 1871.2,497.2 1872.0,499.7 1872.8,496.9 1873.6,500.2 1874.4,496.3 1875.2,499.9 1876.0,495.9 1876.8,499.4 1877.6,494.3 1878.4,497.1 1879.2,493.7 1880.0,496.5 1880.8,494.1 1881.6,497.9 1882.4,493.6 1883.2,497.0 1884.0,492.6 1884.8,496.5 1885.6,492.9 1886.4,495.1 1887.2,492.6 1888.0,496.6 1888.8,491.2 1889.6,496.4 1890.4,491.1 1891.2,494.7 1892.0,491.9 1892.8,494.5 1893.6,491.5 1894.4,495.6 1895.2,491.4 1896.0,493.9 1896.8,490.1 1897.6,493.8 1898.4,490.6 1899.2,494.5 1900.0,490.5 1900.8,477.5 1901.6,476.5 1902.4,477.5 1903.2,476.5 1904.0,495.7 1904.8,491.6 1905.6,495.8 1906.4,490.4 1907.2,495.8 1908.0,490.6 1908.8,495.2 1909.6,492.0 1910.4,495.4 1911.2,492.2 1912.0,494.6 1912.8,490.9 1913.6,494.9 1914.4,491.4 1915.2,495.9 1916.0,491.6 1916.8,496.0 1917.6,492.5 1918.4,496.2 1919.2,492.3 1920.0,498.1 1920.8,492.5 1921.6,498.3 1922.4,493.4 1923.2,497.5 1924.0,493.6 1924.8,497.0 1925.6,493.1 1926.4,497.0 1927.2,494.5 1928.0,496.9 1928.8,494.5 1929.6,497.9 1930.4,492.4 1931.2,497.9 1932.0,492.4 1932.8,496.3 1933.6,492.9 1934.4,496.3 1935.2,494.4 1936.0,497.9 1936.8,494.4 1937.6,497.5 1938.4,494.1 1939.2,497.4 1940.0,493.3 1940.8,496.8 1941.6,493.3 1942.4,496.7 1943.2,492.7 1944.0,497.4 1944.8,492.6 1945.6,496.5 1946.4,494.0 1947.2,496.4 1948.0,491.9 1948.8,495.9 1949.6,491.9 1950.4,496.3 1951.2,493.4 1952.0,496.3 1952.8,493.3 1953.6,495.5 1954.4,491.5 1955.2,495.4 1956.0,492.2 1956.8,495.4 1957.6,492.1 1958.4,496.0 1959.2,492.7 1960.0,496.0 1960.8,493.0 1961.6,496.9 1962.4,492.9 1963.2,496.9 1964.0,493.3 1964.8,495.3 1965.6,493.3 1966.4,495.9 1967.2,493.2 1968.0,495.8 1968.8,492.0 1969.6,497.1 1970.4,491.9 1971.2,496.6 1972.0,491.5 1972.8,496.5 1973.6,491.4 1974.4,496.7 1975.2,491.0 1976.0,496.6 1976.8,492.3 1977.6,495.9 1978.4,492.3 1979.2,495.6 1980.0,490.7 1980.8,495.6 1981.6,492.3 1982.4,495.5 1983.2,492.2 1984.0,495.4 1984.8,490.5 1985.6,495.4 1986.4,490.4 1987.2,495.0 1988.0,490.4 1988.8,494.9 1989.6,492.2 1990.4,494.6 1991.2,492.2 1992.0,494.3 1992.8,490.4 1993.6,494.2 1994.4,490.4 1995.2,493.9 1996.0,490.7 1996.8,493.8 1997.6,490.7 1998.4,494.3 1999.2,490.6 2000.0,495.3 2000.8,490.2 2001.6,495.2 2002.4,490.9 2003.2,494.6 2004.0,490.8 2004.8,494.5 2005.6,490.9 2006.4,493.6 2007.2,490.8 2008.0,495.1 2008.8,491.1 2009.6,495.0 2010.4,489.7 2011.2,493.2 2012.0,489.7 2012.8,495.2 2013.6,489.5 2014.4,495.2 2015.2,489.4 2016.0,494.3 2016.8,491.2 2017.6,494.3 2018.4,489.7 2019.2,494.0 2020.0,489.6 2020.8,493.6 2021.6,490.8 2022.4,493.5 2023.2,490.9 2024.0,494.5 2024.8,490.8 2025.6,494.5 2026.4,490.8 2027.2,492.6 2028.0,490.7 2028.8,492.6 2029.6,489.8 2030.4,492.5 2031.2,490.4 2032.0,493.4 2032.8,490.4 2033.6,492.8 2034.4,490.4 2035.2,492.8 2036.0,490.3 2036.8,492.9 2037.6,490.5 2038.4,492.9 2039.2,490.0 2040.0,493.1 2040.8,490.0 2041.6,492.1 2042.4,488.8 2043.2,492.0 2044.0,490.4 2044.8,494.2 2045.6,490.3 2046.4,494.1 2047.2,489.3 2048.0,493.2 2048.8,489.3 2049.6,491.9 2050.4,488.9 2051.2,491.8 2052.0,490.0 2052.8,493.2 2053.6,489.9 2054.4,492.6 2055.2,489.4 2056.0,492.5 2056.8,489.4 2057.6,492.8 2058.4,487.7 2059.2,492.7 2060.0,487.4 2060.8,492.8 2061.6,487.3 2062.4,493.4 2063.2,503.0 2064.0,502.0 2064.8,503.0 2065.6,502.0 2066.4,489.2 2067.2,491.1 2068.0,487.7 2068.8,493.2 2069.6,487.6 2070.4,491.7 2071.2,488.3 2072.0,491.6 2072.8,488.8 2073.6,490.9 2074.4,488.7 2075.2,491.2 2076.0,488.0 2076.8,491.1 2077.6,487.9 2078.4,491.0 2079.2,486.6 2080.0,490.9 2080.8,486.7 2081.6,492.2 2082.4,486.6 2083.2,491.1 2084.0,487.7 2084.8,491.0 2085.6,488.3 2086.4,489.9 2087.2,488.2 2088.0,489.9 2088.8,486.1 2089.6,491.2 2090.4,486.0 2091.2,490.5 2092.0,485.7 2092.8,490.4 2093.6,486.9 2094.4,491.1 2095.2,486.8 2096.0,489.3 2096.8,487.3 2097.6,489.2 2098.4,487.2 2099.2,491.0 2100.0,486.4 2100.8,490.9 2101.6,485.9 2102.4,490.9 2103.2,485.8"/>
<polyline class="curve" stroke="#ff0000" stroke-width="5.2" stroke-linejoin="miter" points="172.0,891.1 172.7,919.7 173.4,891.8 174.1,920.7 174.8,895.6 175.5,929.0 176.2,897.2 176.9,930.5 177.6,897.2 178.3,932.3 179.0,900.1 179.7,925.7 180.4,908.7 181.1,928.0 181.8,911.6 182.5,930.8 183.2,908.6 183.9,932.6 184.6,916.0 185.3,940.6 186.0,917.3 186.7,941.2 187.4,913.3 188.1,937.7 188.8,912.6 189.5,936.8 190.2,915.9 190.9,931.6 191.6,913.8 192.3,936.5 193.0,910.8 193.7,934.0 194.4,907.8 195.1,929.7 195.8,898.3 196.5,926.7 197.2,895.1 197.9,920.5 198.6,891.4 199.3,917.3 200.0,890.9 200.7,910.9 201.4,887.5 202.1,912.0 202.8,879.0 203.5,908.9 204.2,875.4 204.9,908.2 205.6,874.6 206.3,904.7 207.0,870.7 207.7,896.1 208.4,863.3 209.1,892.2 209.8,865.8 210.5,889.8 211.2,861.4 211.9,885.7 212.6,851.3 213.3,884.3 214.0,846.4 214.7,883.0 215.4,843.0 216.1,878.7 216.8,837.8 217.5,871.3 218.2,835.9 218.9,865.8 219.6,831.9 220.3,851.5 221.0,819.4 221.7,837.6 222.4,756.0 223.1,757.0 223.8,756.0 224.5,757.0 225.2,756.0 225.9,836.9 226.6,788.8 227.3,827.6 228.0,780.2 228.7,831.1 229.4,784.5 230.1,832.9 230.8,787.5 231.5,837.9 232.2,804.4 232.9,847.2 233.6,812.6 234.3,860.3 235.0,818.7 235.7,874.3 236.4,827.3 237.1,885.3 237.8,840.3 238.5,889.0 239.2,848.6 239.9,889.4 240.6,853.0 241.3,892.7 242.0,861.8 242.7,895.6 243.4,865.9 244.1,898.0 244.8,878.2 245.5,901.8 246.2,879.1 246.9,903.4 247.6,878.9 248.3,903.3 249.0,879.1 249.7,907.4 250.4,875.3 251.1,909.1 251.8,875.0 252.5,908.3 253.2,877.0 253.9,909.6 254.6,858.9 255.3,909.0 256.0,858.3 256.7,909.6 257.4,875.4 258.1,922.5 258.8,875.5 259.5,922.5 260.2,874.6 260.9,917.6 261.6,875.1 262.3,922.6 263.0,878.2 263.7,922.3 264.4,879.0 265.1,909.3 265.8,878.1 266.5,909.3 267.2,878.3 267.9,914.3 268.6,879.2 269.3,914.0 270.0,882.2 270.7,911.6 271.4,882.9 272.1,912.4 272.8,875.3 273.5,912.1 274.2,876.0 274.9,916.6 275.6,881.7 276.3,916.1 277.0,881.9 277.7,906.9 278.4,870.6 279.1,906.3 279.8,883.9 280.5,905.0 281.2,883.1 281.9,904.0 282.6,873.2 283.3,903.7 284.0,872.1 284.7,903.0 285.4,877.1 286.1,901.8 286.8,876.0 287.5,901.7 288.2,877.0 288.9,900.6 289.6,873.5 290.3,899.0 291.0,873.0 291.7,898.4 292.4,869.2 293.1,896.1 293.8,869.3 294.5,895.7 295.2,865.9 295.9,841.0 296.6,842.0 297.3,841.0 298.0,842.0 298.7,841.0 299.4,874.0 300.1,894.4 300.8,871.9 301.5,894.2 302.2,875.1 302.9,895.2 303.6,875.5 304.3,747.0 305.0,748.0 305.7,747.0 306.4,748.0 307.1,747.0 307.8,877.7 308.5,897.6 309.2,879.1 309.9,904.6 310.6,878.8 311.3,909.0 312.0,880.3 312.7,914.0 313.4,885.1 314.1,917.7 314.8,886.5 315.5,921.8 316.2,887.2 316.9,922.5 317.6,885.4 318.3,926.8 319.0,885.1 319.7,926.0 320.4,886.2 321.1,925.0 321.8,885.5 322.5,914.9 323.2,878.4 323.9,913.8 324.6,877.4 325.3,918.3 326.0,876.8 326.7,917.2 327.4,876.7 328.1,914.0 328.8,861.0 329.5,862.0 330.2,861.0 330.9,862.0 331.6,861.0 332.3,917.9 333.0,881.8 333.7,919.0 334.4,882.4 335.1,910.5 335.8,881.0 336.5,912.1 337.2,882.8 337.9,916.6 338.6,883.8 339.3,918.4 340.0,876.8 340.7,919.9 341.4,877.5 342.1,930.7 342.8,892.0 343.5,932.0 344.2,892.6 344.9,927.5 345.6,892.9 346.3,927.7 347.0,892.9 347.7,931.1 348.4,881.9 349.1,931.1 349.8,890.4 350.5,927.0 351.2,890.2 351.9,926.8 352.6,886.0 353.3,931.4 354.0,885.8 354.7,931.2 355.4,880.2 356.1,930.9 356.8,880.0 357.5,929.8 358.2,886.1 358.9,929.5 359.6,889.5 360.3,919.4 361.0,889.2 361.7,919.0 362.4,886.1 363.1,919.4 363.8,885.8 364.5,919.0 365.2,883.5 365.9,922.1 366.6,883.2 367.3,922.9 368.0,883.3 368.7,922.5 369.4,883.0 370.1,917.6 370.8,886.4 371.5,917.2 372.2,885.4 372.9,918.0 373.6,885.2 374.3,917.7 375.0,884.7 375.7,915.2 376.4,884.6 377.1,926.0 377.8,885.8 378.5,925.8 379.2,885.8 379.9,914.9 380.6,871.0 381.3,914.7 382.0,871.0 382.7,916.9 383.4,877.7 384.1,916.7 384.8,881.9 385.5,923.5 386.2,881.8 386.9,923.3 387.6,882.1 388.3,920.7 389.0,882.1 389.7,867.0 390.4,868.0 391.1,867.0 391.8,868.0 392.5,867.0 393.2,878.9 393.9,913.5 394.6,888.1 395.3,923.1 396.0,890.2 396.7,924.3 397.4,889.6 398.1,918.1 398.8,892.2 399.5,919.7 400.2,889.9 400.9,923.1 401.6,892.1 402.3,929.5 403.0,897.8 403.7,930.1 404.4,898.5 405.1,930.5 405.8,893.9 406.5,930.4 407.2,893.0 407.9,922.7 408.6,892.7 409.3,922.5 410.0,897.2 410.7,924.6 411.4,896.8 412.1,929.9 412.8,900.5 413.5,929.6 414.2,900.0 414.9,923.0 415.6,897.4 416.3,922.6 417.0,896.9 417.7,921.2 418.4,891.4 419.1,920.7 419.8,896.0 420.5,928.3 421.2,895.6 421.9,927.9 422.6,894.5 423.3,921.4 424.0,894.2 424.7,928.5 425.4,890.1 426.1,928.0 426.8,889.9 427.5,849.0 428.2,850.0 428.9,849.0 429.6,850.0 430.3,849.0 431.0,893.3 431.7,920.4 432.4,888.0 433.1,924.9 433.8,889.0 434.5,924.3 435.2,893.0 435.9,921.4 436.6,893.9 437.3,920.7 438.0,900.1 438.7,920.4 439.4,900.5 440.1,917.3 440.8,894.2 441.5,917.3 442.2,899.8 442.9,922.6 443.6,899.7 444.3,923.6 445.0,897.1 445.7,921.4 446.4,896.7 447.1,918.9 447.8,898.0 448.5,920.2 449.2,897.7 449.9,925.1 450.6,895.0 451.3,926.6 452.0,894.7 452.7,926.0 453.4,895.5 454.1,927.0 454.8,876.0 455.5,877.0 456.2,876.0 456.9,877.0 457.6,876.0 458.3,929.3 459.0,888.3 459.7,935.2 460.4,894.7 461.1,935.7 461.8,895.1 462.5,933.5 463.2,889.6 463.9,934.0 464.6,899.9 465.3,941.7 466.0,900.5 466.7,942.1 467.4,899.2 468.1,942.6 468.8,899.8 469.5,942.9 470.2,900.7 470.9,935.2 471.6,901.3 472.3,933.3 473.0,896.2 473.7,933.5 474.4,896.8 475.1,943.6 475.8,897.8 476.5,943.7 477.2,905.1 477.9,935.3 478.6,905.4 479.3,935.4 480.0,906.9 480.7,942.2 481.4,907.1 482.1,941.8 482.8,898.2 483.5,941.6 484.2,898.5 484.9,936.4 485.6,896.8 486.3,936.2 487.0,897.1 487.7,934.8 488.4,893.8 489.1,934.6 489.8,908.4 490.5,935.4 491.2,908.5 491.9,935.1 492.6,898.7 493.3,931.4 494.0,899.0 494.7,932.4 495.4,898.6 496.1,932.2 496.8,898.9 497.5,933.9 498.2,900.3 498.9,933.8 499.6,908.5 500.3,937.2 501.0,908.7 501.7,937.2 502.4,907.3 503.1,939.5 503.8,907.6 504.5,940.0 505.2,909.9 505.9,938.4 506.6,910.4 507.3,936.5 508.0,910.1 508.7,937.9 509.4,910.7 510.1,937.9 510.8,913.0 511.5,939.6 512.2,913.0 512.9,937.4 513.6,913.8 514.3,939.0 515.0,913.0 515.7,948.8 516.4,913.6 517.1,945.1 517.8,911.3 518.5,946.3 519.2,911.7 519.9,944.5 520.6,908.9 521.3,945.0 522.0,909.1 522.7,947.0 523.4,906.2 524.1,947.0 524.8,917.7 525.5,956.7 526.2,917.7 526.9,956.6 527.6,903.1 528.3,955.0 529.0,903.3 529.7,952.2 530.4,907.2 531.1,952.0 531.8,907.3 532.5,952.5 533.2,916.1 533.9,952.3 534.6,909.3 535.3,943.2 536.0,909.4 536.7,943.1 537.4,909.6 538.1,955.8 538.8,909.7 539.5,955.6 540.2,865.0 540.9,866.0 541.6,865.0 542.3,866.0 543.0,865.0 543.7,954.3 544.4,914.2 545.1,946.1 545.8,911.8 546.5,946.3 547.2,911.6 547.9,953.0 548.6,912.0 549.3,953.3 550.0,920.9 550.7,945.4 551.4,921.2 552.1,944.4 552.8,904.1 553.5,944.7 554.2,904.3 554.9,954.7 555.6,918.1 556.3,954.9 557.0,918.1 557.7,949.2 558.4,920.4 559.1,949.3 559.8,921.7 560.5,954.2 561.2,921.7 561.9,954.3 562.6,919.0 563.3,949.2 564.0,918.9 564.7,946.0 565.4,904.9 566.1,946.0 566.8,904.8 567.5,954.4 568.2,911.1 568.9,954.5 569.6,919.2 570.3,949.5 571.0,919.2 571.7,949.6 572.4,915.4 573.1,951.6 573.8,915.3 574.5,861.0 575.2,862.0 575.9,861.0 576.6,862.0 577.3,861.0 578.0,917.2 578.7,949.8 579.4,917.5 580.1,948.0 580.8,920.3 581.5,948.6 582.2,920.6 582.9,950.8 583.6,921.3 584.3,951.5 585.0,916.0 585.7,963.2 586.4,916.8 587.1,955.9 587.8,917.6 588.5,956.7 589.2,918.4 589.9,962.2 590.6,922.7 591.3,962.9 592.0,923.9 592.7,960.5 593.4,917.6 594.1,961.6 594.8,924.4 595.5,961.6 596.2,926.9 596.9,962.9 597.6,926.8 598.3,964.2 599.0,929.6 599.7,965.1 600.4,937.0 601.1,966.3 601.8,939.4 602.5,967.9 603.2,937.5 603.9,968.8 604.6,945.7 605.3,974.3 606.0,947.1 606.7,974.6 607.4,942.1 608.1,974.2 608.8,942.7 609.5,974.0 610.2,949.9 610.9,974.4 611.6,950.2 612.3,969.1 613.0,949.3 613.7,968.5 614.4,949.5 615.1,972.9 615.8,950.1 616.5,971.9 617.2,948.3 617.9,964.7 618.6,948.4 619.3,964.0 620.0,950.8 620.7,966.6 621.4,950.8 622.1,963.3 622.8,946.4 623.5,962.8 624.2,946.5 624.9,962.8 625.6,946.4 626.3,962.4 627.0,946.0 627.7,966.1 628.4,948.6 629.1,965.7 629.8,945.1 630.5,960.9 631.2,944.0 631.9,960.4 632.6,943.7 633.3,958.2 634.0,942.5 634.7,964.5 635.4,941.6 636.1,964.3 636.8,940.4 637.5,960.1 638.2,936.8 638.9,959.8 639.6,936.5 640.3,962.5 641.0,935.8 641.7,892.0 642.4,893.0 643.1,892.0 643.8,893.0 644.5,892.0 645.2,933.7 645.9,958.9 646.6,933.7 647.3,956.0 648.0,932.8 648.7,955.9 649.4,932.8 650.1,957.5 650.8,936.8 651.5,957.5 652.2,933.2 652.9,962.5 653.6,932.9 654.3,962.6 655.0,929.7 655.7,955.8 656.4,928.7 657.1,960.3 657.8,937.6 658.5,960.5 659.2,936.7 659.9,960.5 660.6,931.1 661.3,960.6 662.0,929.7 662.7,961.2 663.4,932.6 664.1,961.3 664.8,930.8 665.5,960.7 666.2,929.6 666.9,960.7 667.6,928.4 668.3,962.2 669.0,926.5 669.7,953.4 670.4,917.3 671.1,949.3 671.8,915.1 672.5,948.3 673.2,912.8 673.9,943.8 674.6,918.8 675.3,936.6 676.0,917.3 676.7,935.4 677.4,913.0 678.1,939.3 678.8,912.7 679.5,939.5 680.2,910.3 680.9,936.5 681.6,910.1 682.3,933.3 683.0,909.8 683.7,933.7 684.4,909.7 685.1,934.4 685.8,906.1 686.5,934.9 687.2,908.2 687.9,936.3 688.6,908.1 689.3,936.9 690.0,911.8 690.7,937.0 691.4,869.0 692.1,870.0 692.8,869.0 693.5,870.0 694.2,869.0 694.9,939.0 695.6,917.5 696.3,940.4 697.0,919.2 697.7,941.9 698.4,914.6 699.1,943.5 699.8,917.6 700.5,947.3 701.2,919.1 701.9,948.3 702.6,917.9 703.3,946.3 704.0,918.1 704.7,953.3 705.4,915.5 706.1,952.7 706.8,913.5 707.5,945.5 708.2,909.5 708.9,944.1 709.6,914.3 710.3,948.5 711.0,912.0 711.7,947.6 712.4,904.4 713.1,942.8 713.8,903.6 714.5,942.8 715.2,906.4 715.9,945.5 716.6,906.0 717.3,941.4 718.0,914.1 718.7,941.9 719.4,914.1 720.1,949.7 720.8,912.1 721.5,950.5 722.2,909.6 722.9,956.0 723.6,909.5 724.3,956.7 725.0,914.7 725.7,948.4 726.4,914.6 727.1,949.8 727.8,904.4 728.5,949.8 729.2,903.9 729.9,956.3 730.6,908.1 731.3,955.5 732.0,907.4 732.7,953.2 733.4,898.1 734.1,951.9 734.8,910.3 735.5,950.1 736.2,909.3 736.9,948.5 737.6,902.8 738.3,946.5 739.0,901.8 739.7,943.8 740.4,906.2 741.1,942.3 741.8,905.3 742.5,945.0 743.2,900.0 743.9,943.7 744.6,902.8 745.3,939.0 746.0,901.9 746.7,937.4 747.4,899.3 748.1,936.9 748.8,898.5 749.5,935.4 750.2,888.9 750.9,933.7 751.6,888.2 752.3,934.5 753.0,883.1 753.7,933.8 754.4,882.3 755.1,930.0 755.8,890.3 756.5,930.0 757.2,892.0 757.9,921.1 758.6,891.2 759.3,921.1 760.0,895.4 760.7,921.1 761.4,894.7 762.1,926.9 762.8,890.0 763.5,927.1 764.2,889.2 764.9,925.1 765.6,892.9 766.3,925.3 767.0,892.4 767.7,934.9 768.4,890.6 769.1,935.3 769.8,892.1 770.5,936.5 771.2,891.8 771.9,869.0 772.6,870.0 773.3,869.0 774.0,870.0 774.7,869.0 775.4,881.4 776.1,925.7 776.8,881.5 777.5,923.7 778.2,886.4 778.9,923.3 779.6,881.4 780.3,921.2 781.0,881.6 781.7,920.8 782.4,889.6 783.1,787.0 783.8,788.0 784.5,787.0 785.2,788.0 785.9,787.0 786.6,892.1 787.3,924.8 788.0,880.5 788.7,924.1 789.4,881.8 790.1,929.0 790.8,892.6 791.5,927.9 792.2,890.6 792.9,918.3 793.6,891.6 794.3,917.8 795.0,888.2 795.7,918.6 796.4,889.1 797.1,924.8 797.8,895.2 798.5,924.5 799.2,895.3 799.9,923.9 800.6,893.7 801.3,924.2 802.0,893.5 802.7,922.8 803.4,893.4 804.1,923.4 804.8,893.5 805.5,918.5 806.2,893.0 806.9,919.1 807.6,893.3 808.3,921.8 809.0,892.8 809.7,922.0 810.4,884.2 811.1,922.8 811.8,883.4 812.5,933.7 813.2,890.4 813.9,935.0 814.6,892.4 815.3,931.9 816.0,892.2 816.7,932.9 817.4,882.5 818.1,933.7 818.8,882.5 819.5,934.6 820.2,885.6 820.9,940.1 821.6,888.7 822.3,937.1 823.0,889.5 823.7,938.4 824.4,894.0 825.1,937.2 825.8,900.7 826.5,938.2 827.2,903.0 827.9,941.0 828.6,903.4 829.3,940.9 830.0,906.4 830.7,932.4 831.4,905.6 832.1,940.5 832.8,908.8 833.5,939.4 834.2,907.5 834.9,932.2 835.6,901.6 836.3,930.8 837.0,899.9 837.7,929.5 838.4,899.4 839.1,927.9 839.8,897.8 840.5,932.2 841.2,896.0 841.9,930.7 842.6,896.5 843.3,923.4 844.0,894.9 844.7,929.4 845.4,893.1 846.1,928.3 846.8,892.0 847.5,922.1 848.2,881.3 848.9,921.7 849.6,886.7 850.3,928.4 851.0,886.7 851.7,928.4 852.4,884.6 853.1,918.9 853.8,885.3 854.5,919.4 855.2,883.3 855.9,925.9 856.6,884.5 857.3,926.5 858.0,893.0 858.7,927.1 859.4,894.3 860.1,928.4 860.8,894.6 861.5,929.0 862.2,899.0 862.9,921.7 863.6,900.1 864.3,922.3 865.0,893.2 865.7,930.9 866.4,894.2 867.1,930.4 867.8,895.8 868.5,930.6 869.2,896.2 869.9,924.9 870.6,903.6 871.3,924.8 872.0,903.5 872.7,930.0 873.4,902.2 874.1,929.8 874.8,902.6 875.5,931.5 876.2,902.1 876.9,931.1 877.6,893.5 878.3,927.0 879.0,892.9 879.7,925.1 880.4,891.2 881.1,924.5 881.8,890.5 882.5,920.4 883.2,895.5 883.9,919.8 884.6,895.5 885.3,927.4 886.0,894.8 886.7,926.8 887.4,896.5 888.1,918.7 888.8,865.0 889.5,866.0 890.2,865.0 890.9,866.0 891.6,865.0 892.3,928.3 893.0,889.0 893.7,928.0 894.4,888.4 895.1,925.9 895.8,888.3 896.5,925.5 897.2,887.3 897.9,917.5 898.6,886.7 899.3,917.1 900.0,888.5 900.7,918.6 901.4,888.0 902.1,916.6 902.8,878.5 903.5,916.3 904.2,878.1 904.9,921.0 905.6,887.5 906.3,920.8 907.0,887.3 907.7,916.8 908.4,888.5 909.1,916.7 909.8,889.8 910.5,921.1 911.2,890.4 911.9,921.8 912.6,888.3 913.3,922.1 914.0,889.9 914.7,918.7 915.4,895.9 916.1,920.1 916.8,897.9 917.5,931.5 918.2,896.2 918.9,932.7 919.6,897.9 920.3,925.4 921.0,899.8 921.7,926.6 922.4,902.1 923.1,924.5 923.8,903.2 924.5,925.2 925.2,900.5 925.9,925.1 926.6,900.5 927.3,931.6 928.0,904.4 928.7,931.2 929.4,903.3 930.1,932.7 930.8,896.7 931.5,932.0 932.2,894.5 932.9,929.2 933.6,892.4 934.3,928.3 935.0,895.2 935.7,932.5 936.4,893.5 937.1,921.4 937.8,889.0 938.5,920.7 939.2,887.9 939.9,922.7 940.6,890.2 941.3,922.6 942.0,890.2 942.7,928.6 943.4,892.9 944.1,928.8 944.8,891.9 945.5,926.9 946.2,892.2 946.9,927.3 947.6,896.0 948.3,919.9 949.0,896.4 949.7,921.5 950.4,897.0 951.1,921.9 951.8,844.0 952.5,845.0 953.2,844.0 953.9,845.0 954.6,844.0 955.3,925.9 956.0,887.7 956.7,926.5 957.4,897.7 958.1,931.9 958.8,898.2 959.5,932.6 960.2,893.0 960.9,934.7 961.6,893.5 962.3,933.5 963.0,901.6 963.7,934.3 964.4,902.2 965.1,927.2 965.8,902.2 966.5,927.9 967.2,894.8 967.9,931.3 968.6,895.3 969.3,931.9 970.0,902.2 970.7,933.5 971.4,902.7 972.1,938.6 972.8,904.4 973.5,939.1 974.2,905.0 974.9,939.6 975.6,898.0 976.3,940.1 977.0,898.6 977.7,934.2 978.4,897.3 979.1,934.8 979.8,902.6 980.5,933.7 981.2,903.1 981.9,934.2 982.6,899.5 983.3,935.5 984.0,900.0 984.7,943.0 985.4,905.3 986.1,943.4 986.8,905.6 987.5,944.6 988.2,908.3 988.9,944.8 989.6,901.2 990.3,961.0 991.0,962.0 991.7,961.0 992.4,962.0 993.1,961.0 993.8,909.6 994.5,944.2 995.2,905.5 995.9,933.1 996.6,905.1 997.3,938.5 998.0,901.7 998.7,937.3 999.4,901.2 1000.1,937.5 1000.8,906.3 1001.5,936.0 1002.2,904.7 1002.9,928.4 1003.6,904.0 1004.3,927.1 1005.0,903.9 1005.7,928.9 1006.4,903.3 1007.1,929.7 1007.8,898.1 1008.5,928.7 1009.2,897.8 1009.9,927.8 1010.6,901.7 1011.3,927.5 1012.0,901.6 1012.7,925.4 1013.4,903.7 1014.1,926.0 1014.8,905.4 1015.5,930.9 1016.2,906.0 1016.9,932.5 1017.6,903.2 1018.3,929.7 1019.0,904.0 1019.7,937.9 1020.4,901.3 1021.1,940.1 1021.8,902.0 1022.5,942.4 1023.2,907.5 1023.9,944.3 1024.6,903.8 1025.3,934.0 1026.0,904.4 1026.7,935.1 1027.4,907.4 1028.1,935.7 1028.8,907.8 1029.5,935.9 1030.2,911.9 1030.9,940.8 1031.6,912.2 1032.3,935.6 1033.0,905.6 1033.7,935.7 1034.4,905.8 1035.1,938.6 1035.8,907.0 1036.5,938.6 1037.2,910.5 1037.9,943.2 1038.6,910.7 1039.3,943.2 1040.0,904.5 1040.7,943.6 1041.4,904.7 1042.1,939.7 1042.8,914.5 1043.5,859.0 1044.2,860.0 1044.9,859.0 1045.6,860.0 1046.3,859.0 1047.0,912.3 1047.7,945.9 1048.4,910.5 1049.1,946.1 1049.8,911.8 1050.5,942.6 1051.2,913.1 1051.9,943.0 1052.6,912.9 1053.3,944.8 1054.0,914.2 1054.7,939.6 1055.4,915.7 1056.1,940.2 1056.8,916.8 1057.5,948.0 1058.2,922.9 1058.9,948.3 1059.6,919.0 1060.3,941.6 1061.0,919.2 1061.7,941.9 1062.4,924.8 1063.1,944.2 1063.8,924.8 1064.5,944.5 1065.2,916.1 1065.9,943.3 1066.6,915.8 1067.3,942.5 1068.0,922.7 1068.7,942.7 1069.4,922.5 1070.1,952.3 1070.8,922.1 1071.5,952.8 1072.2,916.2 1072.9,953.1 1073.6,915.8 1074.3,953.6 1075.0,923.3 1075.7,951.9 1076.4,923.1 1077.1,945.1 1077.8,921.8 1078.5,945.4 1079.2,921.7 1079.9,952.4 1080.6,857.0 1081.3,858.0 1082.0,857.0 1082.7,858.0 1083.4,857.0 1084.1,954.7 1084.8,914.2 1085.5,956.2 1086.2,914.1 1086.9,956.8 1087.6,910.9 1088.3,949.3 1089.0,910.7 1089.7,948.9 1090.4,919.8 1091.1,949.3 1091.8,919.8 1092.5,960.3 1093.2,920.5 1093.9,960.9 1094.6,912.6 1095.3,955.6 1096.0,912.5 1096.7,956.1 1097.4,913.2 1098.1,960.8 1098.8,913.1 1099.5,961.4 1100.2,909.3 1100.9,956.8 1101.6,909.2 1102.3,954.9 1103.0,919.9 1103.7,955.3 1104.4,920.0 1105.1,951.8 1105.8,912.3 1106.5,952.2 1107.2,922.1 1107.9,953.5 1108.6,922.4 1109.3,954.0 1110.0,917.5 1110.7,958.5 1111.4,917.9 1112.1,958.2 1112.8,919.7 1113.5,958.7 1114.2,920.2 1114.9,956.6 1115.6,920.9 1116.3,957.1 1117.0,921.5 1117.7,958.0 1118.4,921.3 1119.1,958.5 1119.8,926.4 1120.5,963.9 1121.2,927.1 1121.9,964.3 1122.6,917.3 1123.3,963.1 1124.0,918.1 1124.7,971.9 1125.4,976.0 1126.1,977.0 1126.8,976.0 1127.5,977.0 1128.2,976.0 1128.9,964.8 1129.6,931.9 1130.3,968.1 1131.0,933.6 1131.7,967.2 1132.4,926.8 1133.1,968.6 1133.8,929.6 1134.5,967.3 1135.2,937.3 1135.9,961.0 1136.6,938.9 1137.3,958.8 1138.0,936.5 1138.7,958.5 1139.4,937.1 1140.1,958.3 1140.8,940.8 1141.5,958.2 1142.2,939.7 1142.9,961.4 1143.6,939.6 1144.3,961.3 1145.0,941.7 1145.7,960.0 1146.4,941.6 1147.1,959.5 1147.8,942.1 1148.5,959.4 1149.2,942.0 1149.9,958.9 1150.6,942.1 1151.3,958.8 1152.0,942.0 1152.7,957.5 1153.4,939.9 1154.1,957.5 1154.8,902.0 1155.5,903.0 1156.2,902.0 1156.9,903.0 1157.6,902.0 1158.3,962.0 1159.0,935.4 1159.7,956.6 1160.4,941.8 1161.1,956.6 1161.8,942.2 1162.5,961.5 1163.2,943.3 1163.9,961.4 1164.6,941.2 1165.3,958.0 1166.0,941.7 1166.7,958.0 1167.4,944.5 1168.1,958.8 1168.8,944.6 1169.5,958.9 1170.2,944.7 1170.9,960.0 1171.6,944.4 1172.3,957.1 1173.0,941.3 1173.7,957.4 1174.4,940.3 1175.1,959.3 1175.8,938.3 1176.5,959.8 1177.2,933.6 1177.9,958.9 1178.6,980.0 1179.3,981.0 1180.0,980.0 1180.7,981.0 1181.4,980.0 1182.1,964.7 1182.8,928.7 1183.5,965.0 1184.2,927.6 1184.9,959.2 1185.6,932.8 1186.3,958.8 1187.0,932.0 1187.7,958.4 1188.4,928.9 1189.1,957.5 1189.8,929.0 1190.5,955.3 1191.2,928.3 1191.9,954.2 1192.6,931.7 1193.3,954.8 1194.0,930.9 1194.7,962.1 1195.4,928.0 1196.1,961.2 1196.8,927.5 1197.5,953.0 1198.2,925.3 1198.9,952.6 1199.6,926.4 1200.3,953.5 1201.0,926.1 1201.7,953.3 1202.4,918.3 1203.1,954.6 1203.8,918.1 1204.5,954.5 1205.2,923.2 1205.9,953.7 1206.6,923.0 1207.3,952.1 1208.0,922.8 1208.7,951.9 1209.4,922.6 1210.1,901.0 1210.8,902.0 1211.5,901.0 1212.2,902.0 1212.9,901.0 1213.6,919.1 1214.3,948.5 1215.0,917.2 1215.7,958.2 1216.4,916.7 1217.1,955.4 1217.8,924.9 1218.5,955.0 1219.2,924.4 1219.9,946.1 1220.6,923.8 1221.3,945.7 1222.0,923.5 1222.7,953.5 1223.4,920.4 1224.1,953.3 1224.8,915.5 1225.5,945.9 1226.2,915.6 1226.9,946.3 1227.6,919.4 1228.3,955.2 1229.0,919.8 1229.7,950.8 1230.4,920.1 1231.1,951.8 1231.8,920.7 1232.5,952.1 1233.2,915.9 1233.9,953.2 1234.6,915.6 1235.3,956.9 1236.0,916.1 1236.7,957.8 1237.4,927.6 1238.1,963.5 1238.8,970.0 1239.5,971.0 1240.2,970.0 1240.9,971.0 1241.6,970.0 1242.3,953.2 1243.0,920.9 1243.7,949.6 1244.4,918.9 1245.1,947.9 1245.8,914.3 1246.5,943.6 1247.2,917.5 1247.9,945.1 1248.6,916.1 1249.3,943.3 1250.0,911.5 1250.7,940.5 1251.4,911.5 1252.1,938.7 1252.8,914.0 1253.5,939.0 1254.2,914.1 1254.9,935.8 1255.6,913.9 1256.3,936.3 1257.0,913.9 1257.7,939.5 1258.4,911.6 1259.1,940.1 1259.8,917.2 1260.5,940.6 1261.2,917.3 1261.9,941.1 1262.6,916.9 1263.3,939.9 1264.0,917.0 1264.7,941.2 1265.4,916.1 1266.1,941.5 1266.8,887.0 1267.5,888.0 1268.2,887.0 1268.9,888.0 1269.6,887.0 1270.3,946.1 1271.0,918.6 1271.7,946.0 1272.4,918.3 1273.1,947.9 1273.8,919.0 1274.5,947.7 1275.2,921.5 1275.9,945.9 1276.6,922.1 1277.3,945.8 1278.0,915.4 1278.7,945.5 1279.4,915.9 1280.1,946.8 1280.8,917.5 1281.5,946.3 1282.2,919.5 1282.9,937.0 1283.6,918.4 1284.3,934.1 1285.0,913.0 1285.7,933.8 1286.4,911.5 1287.1,929.8 1287.8,911.1 1288.5,926.4 1289.2,909.4 1289.9,923.6 1290.6,907.4 1291.3,922.8 1292.0,906.1 1292.7,924.5 1293.4,908.8 1294.1,924.8 1294.8,904.0 1295.5,922.6 1296.2,902.7 1296.9,922.9 1297.6,904.9 1298.3,921.9 1299.0,903.8 1299.7,923.2 1300.4,904.6 1301.1,923.1 1301.8,903.7 1302.5,926.7 1303.2,896.2 1303.9,926.5 1304.6,897.5 1305.3,920.0 1306.0,896.6 1306.7,919.6 1307.4,900.3 1308.1,922.3 1308.8,899.5 1309.5,921.9 1310.2,893.8 1310.9,919.0 1311.6,788.0 1312.3,789.0 1313.0,788.0 1313.7,789.0 1314.4,788.0 1315.1,917.4 1315.8,893.4 1316.5,916.8 1317.2,884.3 1317.9,916.3 1318.6,882.9 1319.3,915.7 1320.0,885.8 1320.7,924.6 1321.4,885.1 1322.1,923.9 1322.8,889.6 1323.5,923.9 1324.2,890.0 1324.9,914.0 1325.6,888.1 1326.3,914.6 1327.0,890.1 1327.7,924.2 1328.4,889.6 1329.1,924.4 1329.8,896.0 1330.5,921.0 1331.2,897.5 1331.9,921.3 1332.6,896.3 1333.3,925.3 1334.0,896.0 1334.7,919.9 1335.4,895.8 1336.1,919.2 1336.8,894.2 1337.5,923.0 1338.2,894.4 1338.9,922.2 1339.6,890.8 1340.3,922.2 1341.0,888.5 1341.7,921.2 1342.4,884.9 1343.1,911.8 1343.8,882.7 1344.5,910.6 1345.2,875.5 1345.9,918.9 1346.6,874.0 1347.3,910.9 1348.0,879.7 1348.7,910.5 1349.4,879.7 1350.1,907.9 1350.8,879.3 1351.5,908.0 1352.2,884.4 1352.9,917.0 1353.6,886.2 1354.3,916.8 1355.0,879.0 1355.7,915.0 1356.4,881.9 1357.1,908.9 1357.8,887.8 1358.5,909.3 1359.2,889.8 1359.9,915.2 1360.6,893.4 1361.3,915.0 1362.0,893.8 1362.7,908.8 1363.4,891.2 1364.1,908.0 1364.8,886.8 1365.5,914.3 1366.2,882.6 1366.9,914.1 1367.6,880.6 1368.3,905.1 1369.0,878.4 1369.7,914.1 1370.4,875.7 1371.1,913.7 1371.8,876.4 1372.5,913.8 1373.2,880.1 1373.9,913.0 1374.6,883.7 1375.3,909.1 1376.0,884.5 1376.7,908.4 1377.4,878.4 1378.1,903.5 1378.8,878.9 1379.5,902.9 1380.2,883.0 1380.9,902.6 1381.6,882.5 1382.3,899.9 1383.0,882.9 1383.7,898.7 1384.4,881.9 1385.1,904.7 1385.8,876.5 1386.5,903.4 1387.2,879.2 1387.9,900.1 1388.6,877.9 1389.3,899.3 1390.0,874.1 1390.7,897.1 1391.4,872.7 1392.1,892.9 1392.8,868.9 1393.5,892.7 1394.2,867.3 1394.9,893.9 1395.6,868.5 1396.3,912.0 1397.0,913.0 1397.7,912.0 1398.4,913.0 1399.1,912.0 1399.8,858.0 1400.5,881.6 1401.2,852.1 1401.9,876.3 1402.6,845.6 1403.3,868.6 1404.0,839.5 1404.7,870.6 1405.4,826.0 1406.1,866.2 1406.8,816.3 1407.5,856.6 1408.2,808.9 1408.9,852.1 1409.6,801.8 1410.3,834.0 1411.0,793.1 1411.7,828.1 1412.4,792.9 1413.1,836.8 1413.8,788.4 1414.5,828.2 1415.2,780.1 1415.9,812.1 1416.6,777.2 1417.3,803.7 1418.0,771.7 1418.7,795.8 1419.4,769.8 1420.1,790.0 1420.8,770.8 1421.5,789.3 1422.2,771.2 1422.9,789.3 1423.6,770.7 1424.3,789.6 1425.0,771.7 1425.7,790.8 1426.4,771.4 1427.1,798.1 1427.8,763.5 1428.5,808.0 1429.2,762.8 1429.9,821.0 1430.6,757.0 1431.3,758.0 1432.0,757.0 1432.7,758.0 1433.4,757.0 1434.1,827.2 1434.8,780.9 1435.5,833.4 1436.2,789.9 1436.9,835.1 1437.6,799.8 1438.3,836.7 1439.0,801.5 1439.7,840.0 1440.4,802.9 1441.1,842.8 1441.8,804.5 1442.5,839.9 1443.2,799.8 1443.9,844.5 1444.6,807.1 1445.3,851.3 1446.0,814.0 1446.7,859.1 1447.4,821.2 1448.1,871.7 1448.8,828.6 1449.5,880.0 1450.2,847.1 1450.9,881.7 1451.6,855.0 1452.3,889.2 1453.0,860.6 1453.7,892.6 1454.4,863.2 1455.1,893.2 1455.8,857.4 1456.5,893.7 1457.2,863.2 1457.9,892.7 1458.6,863.3 1459.3,892.7 1460.0,862.5 1460.7,896.3 1461.4,790.0 1462.1,791.0 1462.8,790.0 1463.5,791.0 1464.2,790.0 1464.9,888.9 1465.6,861.2 1466.3,888.9 1467.0,861.2 1467.7,898.6 1468.4,857.1 1469.1,898.6 1469.8,856.9 1470.5,893.7 1471.2,857.1 1471.9,893.8 1472.6,865.3 1473.3,891.5 1474.0,865.2 1474.7,891.7 1475.4,857.7 1476.1,891.3 1476.8,857.7 1477.5,890.9 1478.2,858.6 1478.9,829.0 1479.6,830.0 1480.3,829.0 1481.0,830.0 1481.7,829.0 1482.4,863.8 1483.1,888.8 1483.8,864.9 1484.5,889.3 1485.2,861.6 1485.9,892.3 1486.6,862.3 1487.3,896.6 1488.0,867.2 1488.7,896.9 1489.4,866.2 1490.1,899.3 1490.8,858.8 1491.5,899.8 1492.2,866.0 1492.9,889.1 1493.6,865.0 1494.3,889.0 1495.0,859.5 1495.7,892.1 1496.4,858.9 1497.1,888.3 1497.8,860.5 1498.5,823.0 1499.2,824.0 1499.9,823.0 1500.6,824.0 1501.3,823.0 1502.0,856.2 1502.7,886.9 1503.4,852.6 1504.1,886.5 1504.8,861.3 1505.5,886.0 1506.2,861.1 1506.9,885.6 1507.6,857.3 1508.3,888.2 1509.0,857.0 1509.7,882.9 1510.4,851.5 1511.1,882.4 1511.8,851.2 1512.5,884.5 1513.2,858.0 1513.9,883.7 1514.6,842.5 1515.3,889.6 1516.0,842.1 1516.7,888.4 1517.4,856.3 1518.1,888.2 1518.8,855.5 1519.5,886.8 1520.2,846.1 1520.9,884.3 1521.6,845.5 1522.3,878.6 1523.0,847.0 1523.7,877.6 1524.4,846.4 1525.1,873.2 1525.8,825.0 1526.5,826.0 1527.2,825.0 1527.9,826.0 1528.6,825.0 1529.3,873.9 1530.0,841.9 1530.7,871.3 1531.4,841.4 1532.1,872.2 1532.8,848.6 1533.5,871.8 1534.2,848.2 1534.9,878.6 1535.6,840.7 1536.3,878.3 1537.0,840.2 1537.7,876.8 1538.4,842.5 1539.1,876.4 1539.8,839.1 1540.5,871.3 1541.2,838.5 1541.9,870.7 1542.6,843.8 1543.3,872.2 1544.0,842.8 1544.7,874.8 1545.4,836.7 1546.1,873.8 1546.8,835.6 1547.5,863.8 1548.2,842.3 1548.9,863.0 1549.6,834.9 1550.3,814.0 1551.0,815.0 1551.7,814.0 1552.4,815.0 1553.1,814.0 1553.8,840.3 1554.5,871.4 1555.2,836.4 1555.9,871.5 1556.6,836.3 1557.3,862.3 1558.0,833.6 1558.7,862.5 1559.4,833.5 1560.1,865.1 1560.8,840.2 1561.5,865.3 1562.2,833.3 1562.9,870.1 1563.6,833.2 1564.3,870.3 1565.0,838.0 1565.7,866.6 1566.4,838.0 1567.1,861.8 1567.8,831.7 1568.5,861.9 1569.2,813.0 1569.9,814.0 1570.6,813.0 1571.3,814.0 1572.0,813.0 1572.7,872.7 1573.4,835.8 1574.1,872.7 1574.8,830.3 1575.5,864.5 1576.2,830.6 1576.9,864.4 1577.6,831.5 1578.3,861.8 1579.0,831.8 1579.7,868.7 1580.4,841.5 1581.1,868.6 1581.8,841.6 1582.5,867.1 1583.2,833.5 1583.9,867.0 1584.6,832.8 1585.3,869.0 1586.0,832.9 1586.7,869.0 1587.4,832.3 1588.1,870.7 1588.8,832.4 1589.5,870.8 1590.2,839.3 1590.9,870.2 1591.6,839.4 1592.3,864.8 1593.0,838.4 1593.7,864.9 1594.4,838.5 1595.1,867.9 1595.8,838.1 1596.5,868.1 1597.2,832.9 1597.9,872.7 1598.6,832.9 1599.3,872.9 1600.0,835.5 1600.7,874.0 1601.4,790.0 1602.1,791.0 1602.8,790.0 1603.5,791.0 1604.2,790.0 1604.9,866.1 1605.6,830.4 1606.3,865.8 1607.0,828.0 1607.7,870.7 1608.4,829.4 1609.1,870.8 1609.8,835.9 1610.5,865.9 1611.2,836.5 1611.9,867.0 1612.6,831.0 1613.3,869.4 1614.0,833.7 1614.7,869.0 1615.4,841.9 1616.1,870.6 1616.8,844.0 1617.5,874.6 1618.2,838.9 1618.9,874.7 1619.6,838.4 1620.3,878.7 1621.0,839.3 1621.7,878.2 1622.4,841.2 1623.1,873.4 1623.8,841.9 1624.5,872.9 1625.2,841.1 1625.9,872.0 1626.6,841.6 1627.3,869.4 1628.0,847.8 1628.7,869.2 1629.4,847.9 1630.1,871.3 1630.8,842.3 1631.5,871.3 1632.2,849.6 1632.9,875.0 1633.6,849.6 1634.3,875.1 1635.0,846.2 1635.7,868.8 1636.4,846.1 1637.1,878.0 1637.8,850.0 1638.5,878.2 1639.2,849.9 1639.9,876.4 1640.6,841.7 1641.3,876.7 1642.0,841.6 1642.7,877.1 1643.4,777.0 1644.1,778.0 1644.8,777.0 1645.5,778.0 1646.2,777.0 1646.9,878.4 1647.6,843.7 1648.3,883.7 1649.0,843.9 1649.7,870.6 1650.4,842.0 1651.1,871.0 1651.8,842.2 1652.5,875.9 1653.2,851.4 1653.9,876.3 1654.6,845.4 1655.3,872.3 1656.0,845.6 1656.7,872.7 1657.4,844.8 1658.1,875.5 1658.8,845.2 1659.5,875.9 1660.2,843.2 1660.9,876.5 1661.6,843.6 1662.3,876.4 1663.0,851.1 1663.7,876.8 1664.4,851.5 1665.1,874.8 1665.8,852.8 1666.5,875.2 1667.2,854.9 1667.9,883.6 1668.6,855.4 1669.3,884.1 1670.0,849.0 1670.7,879.1 1671.4,849.6 1672.1,880.0 1672.8,855.7 1673.5,880.5 1674.2,856.3 1674.9,881.6 1675.6,859.0 1676.3,882.1 1677.0,859.7 1677.7,884.0 1678.4,855.8 1679.1,884.6 1679.8,859.1 1680.5,889.8 1681.2,859.8 1681.9,890.5 1682.6,862.3 1683.3,887.1 1684.0,863.4 1684.7,897.1 1685.4,863.5 1686.1,898.4 1686.8,864.5 1687.5,888.2 1688.2,865.5 1688.9,889.0 1689.6,860.4 1690.3,887.6 1691.0,860.4 1691.7,887.2 1692.4,857.4 1693.1,887.3 1693.8,857.4 1694.5,885.9 1695.2,860.3 1695.9,891.3 1696.6,860.2 1697.3,885.1 1698.0,864.2 1698.7,883.1 1699.4,863.7 1700.1,884.2 1700.8,861.6 1701.5,882.5 1702.2,863.2 1702.9,876.4 1703.6,862.6 1704.3,875.4 1705.0,856.2 1705.7,874.6 1706.4,855.1 1707.1,875.5 1707.8,855.7 1708.5,874.5 1709.2,854.1 1709.9,874.9 1710.6,855.7 1711.3,873.6 1712.0,854.0 1712.7,867.8 1713.4,852.5 1714.1,865.7 1714.8,845.8 1715.5,869.6 1716.2,842.9 1716.9,867.0 1717.6,839.8 1718.3,858.8 1719.0,835.7 1719.7,855.5 1720.4,832.2 1721.1,852.2 1721.8,823.1 1722.5,857.5 1723.2,814.2 1723.9,855.5 1724.6,791.1 1725.3,842.5 1726.0,779.4 1726.7,838.4 1727.4,775.7 1728.1,825.9 1728.8,770.3 1729.5,820.0 1730.2,761.1 1730.9,829.0 1731.6,757.2 1732.3,819.8 1733.0,762.6 1733.7,810.7 1734.4,756.6 1735.1,804.7 1735.8,751.9 1736.5,794.6 1737.2,737.3 1737.9,774.9 1738.6,724.7 1739.3,763.8 1740.0,715.7 1740.7,761.6 1741.4,708.5 1742.1,743.4 1742.8,701.1 1743.5,734.3 1744.2,696.0 1744.9,726.5 1745.6,685.1 1746.3,679.0 1747.0,680.0 1747.7,679.0 1748.4,680.0 1749.1,679.0 1749.8,701.0 1750.5,741.1 1751.2,714.9 1751.9,756.3 1752.6,732.1 1753.3,764.1 1754.0,740.6 1754.7,769.4 1755.4,735.4 1756.1,777.4 1756.8,742.7 1757.5,788.5 1758.2,754.7 1758.9,796.3 1759.6,767.6 1760.3,814.5 1761.0,781.0 1761.7,823.3 1762.4,799.0 1763.1,826.4 1763.8,809.4 1764.5,832.0 1765.2,810.4 1765.9,832.4 1766.6,810.5 1767.3,832.2 1768.0,812.0 1768.7,833.0 1769.4,811.8 1770.1,839.0 1770.8,803.8 1771.5,839.6 1772.2,811.5 1772.9,790.0 1773.6,791.0 1774.3,790.0 1775.0,791.0 1775.7,790.0 1776.4,807.2 1777.1,835.3 1777.8,815.9 1778.5,836.0 1779.2,817.2 1779.9,844.3 1780.6,814.2 1781.3,845.1 1782.0,814.1 1782.7,846.3 1783.4,818.3 1784.1,848.1 1784.8,814.3 1785.5,844.6 1786.2,814.1 1786.9,787.0 1787.6,788.0 1788.3,787.0 1789.0,788.0 1789.7,787.0 1790.4,813.0 1791.1,850.8 1791.8,815.5 1792.5,849.2 1793.2,819.5 1793.9,848.1 1794.6,821.2 1795.3,841.0 1796.0,821.8 1796.7,839.9 1797.4,817.5 1798.1,840.5 1798.8,814.9 1799.5,837.9 1800.2,810.4 1800.9,833.0 1801.6,805.7 1802.3,830.1 1803.0,805.6 1803.7,826.0 1804.4,799.9 1805.1,819.8 1805.8,791.7 1806.5,812.6 1807.2,786.0 1807.9,809.8 1808.6,778.0 1809.3,802.3 1810.0,750.0 1810.7,751.0 1811.4,750.0 1812.1,751.0 1812.8,750.0 1813.5,797.4 1814.2,766.4 1814.9,800.4 1815.6,766.7 1816.3,804.9 1817.0,769.6 1817.7,802.6 1818.4,769.6 1819.1,806.2 1819.8,777.8 1820.5,813.0 1821.2,785.1 1821.9,817.7 1822.6,790.6 1823.3,823.8 1824.0,796.7 1824.7,826.4 1825.4,800.0 1826.1,826.0 1826.8,799.6 1827.5,818.8 1828.2,800.2 1828.9,816.4 1829.6,792.7 1830.3,813.5 1831.0,791.9 1831.7,810.7 1832.4,796.0 1833.1,809.3 1833.8,794.7 1834.5,807.5 1835.2,793.5 1835.9,809.1 1836.6,791.3 1837.3,803.8 1838.0,789.0 1838.7,801.9 1839.4,786.5 1840.1,800.2 1840.8,778.8 1841.5,799.0 1842.2,778.2 1842.9,796.4 1843.6,778.0 1844.3,796.8 1845.0,782.3 1845.7,800.5 1846.4,783.1 1847.1,799.5 1847.8,781.7 1848.5,801.7 1849.2,782.8 1849.9,805.1 1850.6,781.3 1851.3,807.6 1852.0,782.4 1852.7,813.3 1853.4,787.6 1854.1,815.6 1854.8,781.9 1855.5,818.8 1856.2,782.5 1856.9,820.0 1857.6,789.4 1858.3,818.2 1859.0,789.3 1859.7,818.5 1860.4,786.4 1861.1,818.1 1861.8,786.1 1862.5,821.1 1863.2,783.8 1863.9,820.4 1864.6,790.6 1865.3,820.0 1866.0,789.9 1866.7,819.0 1867.4,782.5 1868.1,817.3 1868.8,781.6 1869.5,816.1 1870.2,786.3 1870.9,816.7 1871.6,785.2 1872.3,815.5 1873.0,779.7 1873.7,814.1 1874.4,778.5 1875.1,803.6 1875.8,777.5 1876.5,802.3 1877.2,775.8 1877.9,803.5 1878.6,773.5 1879.3,801.8 1880.0,767.7 1880.7,799.9 1881.4,763.2 1882.1,799.0 1882.8,763.7 1883.5,796.8 1884.2,759.3 1884.9,801.6 1885.6,748.2 1886.3,799.6 1887.0,745.2 1887.7,789.5 1888.4,756.3 1889.1,787.6 1889.8,755.0 1890.5,791.8 1891.2,755.6 1891.9,789.5 1892.6,753.1 1893.3,787.1 1894.0,754.3 1894.7,779.2 1895.4,750.5 1896.1,776.5 1896.8,750.7 1897.5,771.2 1898.2,753.1 1898.9,764.4 1899.6,741.9 1900.3,604.0 1901.0,605.0 1901.7,604.0 1902.4,605.0 1903.1,604.0 1903.8,732.8 1904.5,756.5 1905.2,732.4 1905.9,760.0 1906.6,731.9 1907.3,773.0 1908.0,736.7 1908.7,778.3 1909.4,737.5 1910.1,777.6 1910.8,737.3 1911.5,783.1 1912.2,750.7 1912.9,783.8 1913.6,757.9 1914.3,789.0 1915.0,766.1 1915.7,793.5 1916.4,770.1 1917.1,796.8 1917.8,770.6 1918.5,798.8 1919.2,774.6 1919.9,798.4 1920.6,771.8 1921.3,800.1 1922.0,775.3 1922.7,802.9 1923.4,783.0 1924.1,803.9 1924.8,787.2 1925.5,806.1 1926.2,787.6 1926.9,806.5 1927.6,780.1 1928.3,811.0 1929.0,780.2 1929.7,809.8 1930.4,784.3 1931.1,810.1 1931.8,784.4 1932.5,810.3 1933.2,788.2 1933.9,810.6 1934.6,786.5 1935.3,806.1 1936.0,786.6 1936.7,806.4 1937.4,789.0 1938.1,808.4 1938.8,789.1 1939.5,808.6 1940.2,785.0 1940.9,806.3 1941.6,785.1 1942.3,814.6 1943.0,789.6 1943.7,814.8 1944.4,789.6 1945.1,812.3 1945.8,782.7 1946.5,812.5 1947.2,785.9 1947.9,814.6 1948.6,785.9 1949.3,814.7 1950.0,781.0 1950.7,809.9 1951.4,781.0 1952.1,811.2 1952.8,790.0 1953.5,811.3 1954.2,790.0 1954.9,815.7 1955.6,789.9 1956.3,815.8 1957.0,789.9 1957.7,815.8 1958.4,789.7 1959.1,815.9 1959.8,786.3 1960.5,809.6 1961.2,786.2 1961.9,809.6 1962.6,787.1 1963.3,808.1 1964.0,786.9 1964.7,809.0 1965.4,784.8 1966.1,809.0 1966.8,784.6 1967.5,813.6 1968.2,785.6 1968.9,813.7 1969.6,777.6 1970.3,813.4 1971.0,777.2 1971.7,813.5 1972.4,787.0 1973.1,810.7 1973.8,786.7 1974.5,810.7 1975.2,786.3 1975.9,809.4 1976.6,786.1 1977.3,817.0 1978.0,776.8 1978.7,817.1 1979.4,776.5 1980.1,809.3 1980.8,781.4 1981.5,809.3 1982.2,784.0 1982.9,809.4 1983.6,783.9 1984.3,809.5 1985.0,779.0 1985.7,806.7 1986.4,778.8 1987.1,808.8 1987.8,777.9 1988.5,809.0 1989.2,777.6 1989.9,810.8 1990.6,773.7 1991.3,811.1 1992.0,773.4 1992.7,812.4 1993.4,777.6 1994.1,812.9 1994.8,777.4 1995.5,820.9 1996.2,777.3 1996.9,821.6 1997.6,779.2 1998.3,818.3 1999.0,779.3 1999.7,813.9 2000.4,779.2 2001.1,814.7 2001.8,780.1 2002.5,824.9 2003.2,787.4 2003.9,827.9 2004.6,793.5 2005.3,821.6 2006.0,797.8 2006.7,825.0 2007.4,791.1 2008.1,831.1 2008.8,793.7 2009.5,832.2 2010.2,796.2 2010.9,836.3 2011.6,795.9 2012.3,830.0 2013.0,797.5 2013.7,828.1 2014.4,796.5 2015.1,822.8 2015.8,787.7 2016.5,820.3 2017.2,795.1 2017.9,830.2 2018.6,793.9 2019.3,827.2 2020.0,791.0 2020.7,814.8 2021.4,790.3 2022.1,818.5 2022.8,791.2 2023.5,817.9 2024.2,791.2 2024.9,811.2 2025.6,793.6 2026.3,812.5 2027.0,794.3 2027.7,818.2 2028.4,791.6 2029.1,821.0 2029.8,789.1 2030.5,822.4 2031.2,789.9 2031.9,825.4 2032.6,793.7 2033.3,830.8 2034.0,794.7 2034.7,831.9 2035.4,795.3 2036.1,834.0 2036.8,796.2 2037.5,831.2 2038.2,794.7 2038.9,832.0 2039.6,798.6 2040.3,846.1 2041.0,799.8 2041.7,846.7 2042.4,797.5 2043.1,845.6 2043.8,798.9 2044.5,846.1 2045.2,806.8 2045.9,837.1 2046.6,807.8 2047.3,836.8 2048.0,806.6 2048.7,837.1 2049.4,807.0 2050.1,838.9 2050.8,806.8 2051.5,838.7 2052.2,814.0 2052.9,839.1 2053.6,813.6 2054.3,838.2 2055.0,807.8 2055.7,836.5 2056.4,807.1 2057.1,832.3 2057.8,800.4 2058.5,830.5 2059.2,799.5 2059.9,829.0 2060.6,805.5 2061.3,824.7 2062.0,795.4 2062.7,815.6 2063.4,774.3 2064.1,799.5 2064.8,757.4 2065.5,782.7 2066.2,740.1 2066.9,765.1 2067.6,696.0 2068.3,697.0 2069.0,696.0 2069.7,697.0 2070.4,696.0 2071.1,741.5 2071.8,705.6 2072.5,740.1 2073.2,709.4 2073.9,740.1 2074.6,718.3 2075.3,742.8 2076.0,716.2 2076.7,742.6 2077.4,709.4 2078.1,695.0 2078.8,696.0 2079.5,695.0 2080.2,696.0 2080.9,695.0 2081.6,710.4 2082.3,748.2 2083.0,714.6 2083.7,755.8 2084.4,722.0 2085.1,763.8 2085.8,726.9 2086.5,769.6 2087.2,734.5 2087.9,773.3 2088.6,741.1 2089.3,778.8 2090.0,743.3 2090.7,788.7 2091.4,749.3 2092.1,788.1 2092.8,764.6 2093.5,790.9 2094.2,767.4 2094.9,792.2 2095.6,766.0 2096.3,794.0 2097.0,768.2 2097.7,798.8 2098.4,767.8 2099.1,800.1 2099.8,774.8 2100.5,798.2 2101.2,775.9 2101.9,798.9 2102.6,770.3 2103.3,809.5"/>
<polyline class="curve" stroke="#ff8209" stroke-width="5.6" points="172.0,1190.3 172.8,1193.2 173.6,1190.1 174.4,1193.0 175.2,1189.2 176.0,1194.4 176.8,1189.0 177.6,1193.0 178.4,1189.2 179.2,1192.9 180.0,1190.4 180.8,1193.9 181.6,1190.2 182.4,1192.1 183.2,1189.9 184.0,1191.9 184.8,1189.7 185.6,1193.7 186.4,1188.1 187.2,1193.5 188.0,1189.9 188.8,1191.6 189.6,1189.7 190.4,1192.1 191.2,1187.8 192.0,1191.9 192.8,1187.7 193.6,1192.3 194.4,1187.6 195.2,1192.1 196.0,1188.3 196.8,1191.6 197.6,1188.1 198.4,1190.7 199.2,1188.3 200.0,1190.6 200.8,1188.2 201.6,1190.4 202.4,1188.1 203.2,1190.5 204.0,1188.0 204.8,1190.3 205.6,1187.8 206.4,1189.8 207.2,1187.3 208.0,1189.7 208.8,1187.0 209.6,1189.8 210.4,1186.8 211.2,1189.5 212.0,1186.6 212.8,1189.3 213.6,1185.2 214.4,1189.9 215.2,1185.1 216.0,1189.7 216.8,1185.5 217.6,1189.3 218.4,1185.4 219.2,1189.7 220.0,1185.7 220.8,1189.6 221.6,1184.5 222.4,1182.0 223.2,1181.0 224.0,1182.0 224.8,1181.0 225.6,1188.1 226.4,1186.1 227.2,1188.5 228.0,1186.0 228.8,1188.3 229.6,1184.9 230.4,1189.2 231.2,1184.8 232.0,1187.9 232.8,1185.8 233.6,1187.8 234.4,1185.7 235.2,1188.0 236.0,1185.6 236.8,1187.8 237.6,1184.5 238.4,1188.6 239.2,1184.4 240.0,1187.6 240.8,1184.3 241.6,1187.4 242.4,1183.0 243.2,1188.6 244.0,1182.9 244.8,1188.5 245.6,1183.5 246.4,1188.4 247.2,1183.4 248.0,1186.7 248.8,1183.5 249.6,1186.6 250.4,1183.5 251.2,1187.5 252.0,1183.3 252.8,1186.2 253.6,1183.7 254.4,1186.0 255.2,1184.0 256.0,1185.7 256.8,1183.8 257.6,1185.6 258.4,1183.4 259.2,1186.0 260.0,1183.3 260.8,1186.3 261.6,1182.0 262.4,1186.2 263.2,1183.0 264.0,1187.0 264.8,1182.9 265.6,1184.9 266.4,1182.4 267.2,1184.8 268.0,1182.3 268.8,1185.9 269.6,1182.8 270.4,1185.8 271.2,1180.9 272.0,1185.1 272.8,1180.8 273.6,1184.3 274.4,1182.2 275.2,1184.1 276.0,1181.9 276.8,1186.1 277.6,1181.8 278.4,1186.0 279.2,1180.1 280.0,1185.1 280.8,1180.0 281.6,1183.7 282.4,1180.9 283.2,1183.6 284.0,1179.9 284.8,1185.3 285.6,1179.8 286.4,1183.3 287.2,1180.2 288.0,1183.2 288.8,1180.1 289.6,1183.1 290.4,1179.8 291.2,1183.0 292.0,1181.1 292.8,1183.3 293.6,1181.0 294.4,1184.8 295.2,1180.0 296.0,1184.7 296.8,1180.0 297.6,1182.6 298.4,1179.9 299.2,1182.5 300.0,1178.9 300.8,1184.4 301.6,1178.8 302.4,1183.5 303.2,1180.0 304.0,1183.4 304.8,1171.0 305.6,1170.0 306.4,1171.0 307.2,1170.0 308.0,1180.4 308.8,1183.1 309.6,1180.3 310.4,1182.8 311.2,1179.7 312.0,1182.7 312.8,1179.7 313.6,1182.9 314.4,1179.7 315.2,1183.3 316.0,1180.0 316.8,1183.3 317.6,1178.3 318.4,1183.1 319.2,1178.3 320.0,1183.0 320.8,1179.4 321.6,1183.9 322.4,1179.3 323.2,1181.7 324.0,1177.7 324.8,1181.7 325.6,1178.7 326.4,1183.2 327.2,1178.7 328.0,1182.1 328.8,1178.6 329.6,1182.1 330.4,1178.5 331.2,1183.0 332.0,1178.4 332.8,1182.9 333.6,1178.3 334.4,1183.2 335.2,1178.2 336.0,1183.5 336.8,1179.4 337.6,1183.4 338.4,1178.7 339.2,1181.5 340.0,1178.7 340.8,1181.5 341.6,1179.1 342.4,1181.9 343.2,1179.1 344.0,1183.1 344.8,1178.7 345.6,1183.1 346.4,1179.2 347.2,1183.1 348.0,1179.2 348.8,1181.5 349.6,1177.1 350.4,1181.5 351.2,1177.0 352.0,1182.9 352.8,1178.9 353.6,1182.9 354.4,1177.8 355.2,1181.4 356.0,1177.7 356.8,1181.3 357.6,1178.6 358.4,1181.3 359.2,1177.1 360.0,1182.2 360.8,1177.1 361.6,1182.2 362.4,1177.6 363.2,1181.4 364.0,1177.6 364.8,1181.3 365.6,1178.7 366.4,1181.3 367.2,1177.0 368.0,1181.1 368.8,1177.0 369.6,1181.2 370.4,1176.6 371.2,1181.1 372.0,1176.6 372.8,1180.5 373.6,1176.7 374.4,1180.4 375.2,1177.5 376.0,1180.3 376.8,1177.5 377.6,1181.8 378.4,1178.4 379.2,1181.7 380.0,1178.2 380.8,1181.2 381.6,1178.2 382.4,1181.1 383.2,1176.3 384.0,1181.4 384.8,1176.3 385.6,1181.7 386.4,1177.2 387.2,1181.6 388.0,1178.0 388.8,1180.2 389.6,1178.0 390.4,1180.1 391.2,1176.2 392.0,1180.1 392.8,1176.2 393.6,1180.1 394.4,1176.8 395.2,1180.1 396.0,1176.9 396.8,1180.1 397.6,1176.9 398.4,1181.1 399.2,1177.3 400.0,1181.1 400.8,1177.1 401.6,1180.1 402.4,1177.1 403.2,1180.0 404.0,1177.4 404.8,1179.9 405.6,1177.3 406.4,1180.6 407.2,1177.6 408.0,1180.5 408.8,1175.7 409.6,1179.4 410.4,1175.6 411.2,1179.2 412.0,1176.6 412.8,1179.2 413.6,1176.6 414.4,1180.5 415.2,1176.3 416.0,1180.4 416.8,1176.8 417.6,1180.5 418.4,1176.8 419.2,1179.3 420.0,1175.6 420.8,1179.3 421.6,1177.2 422.4,1180.0 423.2,1177.1 424.0,1180.0 424.8,1176.4 425.6,1178.7 426.4,1176.4 427.2,1179.3 428.0,1176.9 428.8,1179.2 429.6,1176.8 430.4,1179.6 431.2,1176.7 432.0,1178.8 432.8,1174.6 433.6,1178.8 434.4,1174.5 435.2,1178.9 436.0,1175.4 436.8,1178.9 437.6,1175.9 438.4,1179.4 439.2,1175.8 440.0,1179.3 440.8,1175.5 441.6,1179.3 442.4,1174.5 443.2,1178.3 444.0,1174.5 444.8,1178.2 445.6,1175.8 446.4,1179.4 447.2,1175.7 448.0,1178.0 448.8,1175.1 449.6,1177.9 450.4,1174.8 451.2,1180.0 452.0,1171.5 452.8,1170.5 453.6,1171.5 454.4,1170.5 455.2,1175.4 456.0,1178.0 456.8,1175.0 457.6,1177.9 458.4,1174.3 459.2,1177.8 460.0,1174.3 460.8,1179.7 461.6,1173.8 462.4,1179.7 463.2,1175.6 464.0,1177.8 464.8,1175.5 465.6,1177.7 466.4,1173.6 467.2,1178.4 468.0,1173.5 468.8,1179.4 469.6,1175.5 470.4,1179.4 471.2,1173.9 472.0,1179.2 472.8,1173.8 473.6,1177.0 474.4,1173.6 475.2,1177.0 476.0,1173.6 476.8,1177.9 477.6,1175.1 478.4,1177.8 479.2,1174.5 480.0,1178.0 480.8,1174.4 481.6,1178.2 482.4,1173.3 483.2,1178.1 484.0,1175.0 484.8,1177.2 485.6,1175.0 486.4,1177.1 487.2,1173.7 488.0,1177.1 488.8,1173.6 489.6,1176.5 490.4,1173.1 491.2,1176.4 492.0,1173.8 492.8,1176.4 493.6,1173.7 494.4,1177.3 495.2,1173.1 496.0,1177.3 496.8,1173.1 497.6,1176.3 498.4,1174.2 499.2,1176.2 500.0,1174.2 500.8,1176.3 501.6,1174.1 502.4,1176.6 503.2,1173.8 504.0,1176.5 504.8,1174.1 505.6,1176.0 506.4,1174.0 507.2,1175.9 508.0,1173.6 508.8,1175.8 509.6,1173.6 510.4,1177.8 511.2,1171.9 512.0,1177.7 512.8,1172.9 513.6,1176.4 514.4,1172.8 515.2,1175.8 516.0,1173.3 516.8,1175.8 517.6,1173.3 518.4,1176.9 519.2,1173.4 520.0,1176.8 520.8,1171.6 521.6,1175.3 522.4,1171.5 523.2,1175.6 524.0,1172.8 524.8,1175.6 525.6,1171.3 526.4,1177.3 527.2,1171.3 528.0,1177.2 528.8,1172.5 529.6,1177.0 530.4,1172.4 531.2,1176.2 532.0,1172.3 532.8,1176.1 533.6,1171.2 534.4,1174.9 535.2,1171.1 536.0,1175.2 536.8,1171.5 537.6,1175.1 538.4,1171.4 539.2,1174.6 540.0,1171.8 540.8,1174.5 541.6,1172.1 542.4,1174.7 543.2,1172.0 544.0,1174.3 544.8,1170.7 545.6,1174.2 546.4,1171.8 547.2,1174.3 548.0,1171.8 548.8,1174.2 549.6,1170.3 550.4,1175.2 551.2,1170.3 552.0,1174.0 552.8,1172.2 553.6,1173.9 554.4,1171.4 555.2,1173.9 556.0,1171.3 556.8,1175.7 557.6,1171.0 558.4,1175.6 559.2,1171.0 560.0,1174.1 560.8,1169.7 561.6,1174.0 562.4,1171.5 563.2,1174.0 564.0,1171.4 564.8,1173.5 565.6,1170.0 566.4,1173.4 567.2,1170.3 568.0,1175.0 568.8,1170.3 569.6,1175.0 570.4,1170.1 571.2,1174.6 572.0,1170.1 572.8,1174.3 573.6,1170.3 574.4,1165.0 575.2,1164.0 576.0,1165.0 576.8,1164.0 577.6,1173.3 578.4,1171.1 579.2,1173.3 580.0,1171.1 580.8,1173.6 581.6,1170.9 582.4,1173.6 583.2,1171.4 584.0,1174.4 584.8,1171.4 585.6,1175.4 586.4,1171.6 587.2,1175.5 588.0,1171.4 588.8,1175.1 589.6,1171.4 590.4,1175.1 591.2,1169.7 592.0,1174.6 592.8,1169.7 593.6,1174.3 594.4,1169.9 595.2,1174.4 596.0,1171.7 596.8,1173.4 597.6,1171.7 598.4,1175.4 599.2,1170.6 600.0,1175.4 600.8,1170.6 601.6,1173.5 602.4,1170.9 603.2,1173.5 604.0,1170.6 604.8,1173.5 605.6,1170.6 606.4,1174.8 607.2,1170.4 608.0,1174.8 608.8,1171.2 609.6,1175.0 610.4,1171.2 611.2,1175.0 612.0,1169.5 612.8,1174.9 613.6,1169.4 614.4,1174.0 615.2,1170.7 616.0,1173.9 616.8,1170.2 617.6,1173.3 618.4,1170.2 619.2,1173.0 620.0,1170.1 620.8,1173.0 621.6,1170.0 622.4,1174.7 623.2,1171.0 624.0,1174.7 624.8,1171.1 625.6,1175.0 626.4,1171.0 627.2,1173.0 628.0,1170.3 628.8,1172.9 629.6,1169.3 630.4,1174.4 631.2,1169.2 632.0,1174.3 632.8,1169.0 633.6,1173.0 634.4,1168.9 635.2,1172.7 636.0,1169.0 636.8,1172.6 637.6,1170.3 638.4,1173.0 639.2,1170.2 640.0,1171.9 640.8,1168.2 641.6,1171.8 642.4,1168.1 643.2,1172.5 644.0,1168.4 644.8,1172.4 645.6,1168.0 646.4,1171.8 647.2,1167.9 648.0,1172.9 648.8,1168.8 649.6,1172.8 650.4,1167.6 651.2,1172.2 652.0,1167.5 652.8,1172.0 653.6,1169.4 654.4,1172.9 655.2,1169.3 656.0,1172.9 656.8,1169.2 657.6,1172.8 658.4,1169.1 659.2,1171.2 660.0,1169.0 660.8,1171.0 661.6,1168.5 662.4,1170.9 663.2,1168.4 664.0,1172.4 664.8,1168.3 665.6,1172.3 666.4,1168.2 667.2,1170.9 668.0,1168.1 668.8,1169.9 669.6,1167.0 670.4,1169.8 671.2,1167.9 672.0,1169.5 672.8,1167.8 673.6,1169.3 674.4,1166.5 675.2,1171.4 676.0,1166.3 676.8,1170.1 677.6,1167.0 678.4,1169.9 679.2,1165.7 680.0,1168.6 680.8,1165.5 681.6,1169.4 682.4,1166.7 683.2,1169.2 684.0,1166.6 684.8,1169.0 685.6,1165.9 686.4,1168.9 687.2,1164.2 688.0,1168.6 688.8,1164.1 689.6,1169.9 690.4,1165.0 691.2,1169.7 692.0,1164.2 692.8,1169.6 693.6,1164.1 694.4,1169.5 695.2,1164.4 696.0,1167.4 696.8,1164.3 697.6,1167.3 698.4,1164.3 699.2,1167.2 700.0,1165.1 700.8,1167.6 701.6,1165.0 702.4,1168.6 703.2,1164.0 704.0,1168.5 704.8,1163.9 705.6,1167.9 706.4,1164.9 707.2,1167.8 708.0,1163.1 708.8,1168.0 709.6,1163.1 710.4,1167.5 711.2,1162.5 712.0,1167.4 712.8,1162.7 713.6,1166.5 714.4,1162.7 715.2,1166.4 716.0,1164.4 716.8,1167.8 717.6,1164.4 718.4,1166.0 719.2,1163.8 720.0,1165.9 720.8,1163.8 721.6,1167.3 722.4,1163.7 723.2,1166.1 724.0,1164.0 724.8,1166.0 725.6,1164.0 726.4,1166.6 727.2,1162.8 728.0,1166.5 728.8,1162.3 729.6,1167.8 730.4,1162.3 731.2,1166.6 732.0,1163.4 732.8,1166.5 733.6,1162.0 734.4,1165.5 735.2,1161.9 736.0,1165.5 736.8,1162.1 737.6,1166.2 738.4,1162.1 739.2,1166.7 740.0,1163.6 740.8,1166.6 741.6,1162.1 742.4,1165.3 743.2,1162.0 744.0,1165.6 744.8,1161.7 745.6,1165.6 746.4,1161.6 747.2,1165.2 748.0,1163.3 748.8,1165.1 749.6,1162.4 750.4,1166.1 751.2,1162.3 752.0,1165.7 752.8,1162.1 753.6,1165.6 754.4,1162.2 755.2,1165.9 756.0,1162.1 756.8,1165.8 757.6,1163.2 758.4,1165.3 759.2,1163.1 760.0,1166.1 760.8,1161.8 761.6,1166.1 762.4,1161.9 763.2,1164.9 764.0,1161.8 764.8,1166.7 765.6,1161.2 766.4,1166.6 767.2,1161.2 768.0,1166.7 768.8,1161.2 769.6,1166.6 770.4,1162.3 771.2,1165.3 772.0,1162.2 772.8,1165.2 773.6,1161.2 774.4,1165.1 775.2,1160.7 776.0,1166.1 776.8,1160.7 777.6,1166.1 778.4,1160.6 779.2,1164.6 780.0,1160.5 780.8,1165.8 781.6,1162.2 782.4,1150.0 783.2,1149.0 784.0,1150.0 784.8,1149.0 785.6,1165.4 786.4,1161.0 787.2,1165.4 788.0,1161.0 788.8,1164.4 789.6,1161.9 790.4,1164.4 791.2,1161.1 792.0,1165.0 792.8,1161.1 793.6,1165.8 794.4,1160.0 795.2,1165.8 796.0,1161.4 796.8,1163.7 797.6,1161.4 798.4,1163.7 799.2,1161.6 800.0,1165.3 800.8,1161.6 801.6,1164.6 802.4,1161.1 803.2,1164.6 804.0,1160.6 804.8,1164.1 805.6,1160.5 806.4,1164.0 807.2,1161.7 808.0,1164.0 808.8,1161.7 809.6,1163.5 810.4,1161.1 811.2,1163.4 812.0,1161.6 812.8,1163.7 813.6,1161.5 814.4,1164.5 815.2,1160.3 816.0,1164.5 816.8,1159.9 817.6,1163.4 818.4,1159.8 819.2,1163.3 820.0,1161.0 820.8,1164.6 821.6,1160.9 822.4,1165.4 823.2,1160.9 824.0,1165.4 824.8,1160.5 825.6,1165.4 826.4,1160.5 827.2,1165.1 828.0,1161.2 828.8,1165.1 829.6,1161.2 830.4,1164.9 831.2,1161.1 832.0,1164.8 832.8,1161.0 833.6,1163.3 834.4,1161.0 835.2,1165.3 836.0,1160.7 836.8,1165.3 837.6,1161.4 838.4,1163.4 839.2,1161.4 840.0,1163.4 840.8,1159.9 841.6,1165.0 842.4,1159.9 843.2,1165.0 844.0,1160.3 844.8,1165.0 845.6,1161.0 846.4,1164.3 847.2,1161.0 848.0,1164.1 848.8,1161.4 849.6,1164.0 850.4,1161.4 851.2,1163.3 852.0,1159.8 852.8,1163.3 853.6,1161.3 854.4,1164.0 855.2,1161.3 856.0,1163.5 856.8,1161.3 857.6,1163.5 858.4,1161.3 859.2,1163.2 860.0,1161.3 860.8,1163.2 861.6,1161.4 862.4,1163.2 863.2,1161.3 864.0,1164.8 864.8,1159.4 865.6,1164.8 866.4,1161.0 867.2,1165.1 868.0,1161.0 868.8,1163.2 869.6,1160.9 870.4,1163.2 871.2,1160.9 872.0,1163.0 872.8,1159.6 873.6,1163.0 874.4,1160.2 875.2,1163.4 876.0,1160.2 876.8,1163.2 877.6,1161.2 878.4,1163.2 879.2,1160.6 880.0,1163.3 880.8,1160.6 881.6,1163.3 882.4,1159.5 883.2,1164.2 884.0,1159.5 884.8,1163.8 885.6,1160.8 886.4,1163.8 887.2,1159.9 888.0,1163.8 888.8,1159.9 889.6,1163.3 890.4,1161.3 891.2,1163.3 892.0,1161.3 892.8,1164.4 893.6,1159.9 894.4,1164.4 895.2,1159.7 896.0,1163.5 896.8,1159.7 897.6,1163.7 898.4,1159.6 899.2,1163.7 900.0,1160.0 900.8,1163.8 901.6,1160.0 902.4,1163.8 903.2,1160.8 904.0,1165.0 904.8,1160.8 905.6,1163.4 906.4,1161.3 907.2,1163.4 908.0,1160.4 908.8,1164.5 909.6,1160.4 910.4,1163.5 911.2,1159.8 912.0,1163.5 912.8,1159.8 913.6,1165.0 914.4,1161.1 915.2,1165.0 916.0,1161.0 916.8,1163.7 917.6,1156.5 918.4,1155.5 919.2,1156.5 920.0,1155.5 920.8,1159.8 921.6,1165.0 922.4,1159.8 923.2,1165.0 924.0,1159.4 924.8,1164.4 925.6,1159.4 926.4,1163.1 927.2,1161.3 928.0,1163.1 928.8,1161.2 929.6,1163.2 930.4,1161.2 931.2,1165.3 932.0,1159.7 932.8,1165.3 933.6,1159.7 934.4,1163.1 935.2,1160.2 936.0,1163.1 936.8,1160.0 937.6,1163.6 938.4,1160.0 939.2,1165.3 940.0,1159.2 940.8,1165.3 941.6,1159.4 942.4,1163.1 943.2,1159.4 944.0,1163.1 944.8,1159.7 945.6,1163.3 946.4,1159.7 947.2,1163.4 948.0,1159.9 948.8,1163.4 949.6,1160.9 950.4,1163.2 951.2,1160.9 952.0,1164.0 952.8,1160.3 953.6,1164.0 954.4,1160.3 955.2,1164.3 956.0,1161.3 956.8,1164.3 957.6,1160.0 958.4,1163.7 959.2,1160.0 960.0,1163.3 960.8,1160.0 961.6,1163.3 962.4,1160.1 963.2,1165.0 964.0,1160.1 964.8,1165.0 965.6,1160.8 966.4,1165.0 967.2,1160.8 968.0,1164.3 968.8,1161.0 969.6,1164.3 970.4,1160.9 971.2,1163.4 972.0,1160.9 972.8,1164.3 973.6,1161.6 974.4,1164.3 975.2,1161.7 976.0,1164.5 976.8,1159.8 977.6,1164.5 978.4,1160.7 979.2,1164.1 980.0,1160.7 980.8,1165.2 981.6,1161.0 982.4,1165.2 983.2,1160.7 984.0,1164.0 984.8,1160.7 985.6,1164.0 986.4,1160.2 987.2,1164.3 988.0,1160.2 988.8,1163.5 989.6,1161.1 990.4,1163.5 991.2,1159.9 992.0,1164.4 992.8,1159.9 993.6,1165.0 994.4,1159.7 995.2,1165.0 996.0,1159.7 996.8,1164.9 997.6,1161.1 998.4,1164.9 999.2,1161.6 1000.0,1163.8 1000.8,1161.6 1001.6,1165.7 1002.4,1160.2 1003.2,1165.7 1004.0,1159.5 1004.8,1164.9 1005.6,1159.5 1006.4,1164.9 1007.2,1161.6 1008.0,1164.2 1008.8,1161.6 1009.6,1164.1 1010.4,1160.3 1011.2,1164.2 1012.0,1160.0 1012.8,1165.1 1013.6,1160.0 1014.4,1163.7 1015.2,1159.8 1016.0,1163.7 1016.8,1159.8 1017.6,1164.7 1018.4,1161.7 1019.2,1164.7 1020.0,1161.8 1020.8,1165.0 1021.6,1161.8 1022.4,1164.4 1023.2,1159.6 1024.0,1164.4 1024.8,1161.7 1025.6,1165.4 1026.4,1161.7 1027.2,1165.4 1028.0,1161.7 1028.8,1164.4 1029.6,1161.7 1030.4,1164.4 1031.2,1160.8 1032.0,1164.4 1032.8,1161.1 1033.6,1164.0 1034.4,1161.1 1035.2,1165.6 1036.0,1160.4 1036.8,1165.6 1037.6,1160.4 1038.4,1164.1 1039.2,1161.7 1040.0,1164.1 1040.8,1159.9 1041.6,1165.0 1042.4,1159.9 1043.2,1164.3 1044.0,1156.0 1044.8,1155.0 1045.6,1156.0 1046.4,1155.0 1047.2,1160.4 1048.0,1165.7 1048.8,1162.0 1049.6,1165.8 1050.4,1162.0 1051.2,1163.7 1052.0,1161.2 1052.8,1163.7 1053.6,1162.1 1054.4,1166.0 1055.2,1162.1 1056.0,1164.9 1056.8,1161.6 1057.6,1164.9 1058.4,1161.7 1059.2,1163.9 1060.0,1161.7 1060.8,1163.9 1061.6,1160.7 1062.4,1164.8 1063.2,1160.7 1064.0,1163.9 1064.8,1161.4 1065.6,1163.9 1066.4,1162.2 1067.2,1165.0 1068.0,1162.3 1068.8,1165.0 1069.6,1160.1 1070.4,1164.2 1071.2,1160.1 1072.0,1164.6 1072.8,1160.4 1073.6,1164.7 1074.4,1160.4 1075.2,1164.6 1076.0,1160.4 1076.8,1165.3 1077.6,1162.1 1078.4,1165.3 1079.2,1162.2 1080.0,1166.0 1080.8,1156.0 1081.6,1155.0 1082.4,1156.0 1083.2,1155.0 1084.0,1162.3 1084.8,1164.8 1085.6,1162.6 1086.4,1164.9 1087.2,1162.7 1088.0,1165.5 1088.8,1162.8 1089.6,1165.5 1090.4,1161.9 1091.2,1164.5 1092.0,1162.0 1092.8,1165.2 1093.6,1162.8 1094.4,1165.3 1095.2,1162.8 1096.0,1166.9 1096.8,1162.9 1097.6,1164.9 1098.4,1161.3 1099.2,1165.0 1100.0,1161.4 1100.8,1166.8 1101.6,1162.4 1102.4,1166.9 1103.2,1163.1 1104.0,1166.3 1104.8,1163.2 1105.6,1165.5 1106.4,1162.1 1107.2,1165.6 1108.0,1163.1 1108.8,1166.8 1109.6,1163.2 1110.4,1166.9 1111.2,1162.7 1112.0,1165.7 1112.8,1162.7 1113.6,1167.3 1114.4,1163.3 1115.2,1167.3 1116.0,1162.8 1116.8,1165.5 1117.6,1162.8 1118.4,1165.5 1119.2,1162.5 1120.0,1165.5 1120.8,1162.5 1121.6,1167.0 1122.4,1162.8 1123.2,1167.0 1124.0,1163.1 1124.8,1166.2 1125.6,1163.1 1126.4,1165.5 1127.2,1162.0 1128.0,1165.5 1128.8,1161.7 1129.6,1166.2 1130.4,1161.6 1131.2,1166.1 1132.0,1163.2 1132.8,1165.5 1133.6,1163.2 1134.4,1166.0 1135.2,1163.1 1136.0,1165.9 1136.8,1163.1 1137.6,1166.3 1138.4,1163.0 1139.2,1166.5 1140.0,1160.7 1140.8,1166.4 1141.6,1160.6 1142.4,1164.4 1143.2,1160.6 1144.0,1164.3 1144.8,1162.2 1145.6,1165.3 1146.4,1162.1 1147.2,1166.2 1148.0,1160.1 1148.8,1166.1 1149.6,1161.8 1150.4,1164.5 1151.2,1161.7 1152.0,1164.3 1152.8,1160.9 1153.6,1165.0 1154.4,1160.7 1155.2,1163.3 1156.0,1160.6 1156.8,1163.2 1157.6,1159.3 1158.4,1164.8 1159.2,1159.2 1160.0,1163.9 1160.8,1161.0 1161.6,1163.7 1162.4,1160.9 1163.2,1164.4 1164.0,1160.3 1164.8,1164.3 1165.6,1159.5 1166.4,1163.9 1167.2,1159.3 1168.0,1164.0 1168.8,1160.3 1169.6,1163.8 1170.4,1159.9 1171.2,1161.8 1172.0,1159.8 1172.8,1161.7 1173.6,1159.1 1174.4,1163.0 1175.2,1159.0 1176.0,1161.7 1176.8,1157.8 1177.6,1161.5 1178.4,1158.0 1179.2,1161.5 1180.0,1157.8 1180.8,1161.5 1181.6,1157.5 1182.4,1161.4 1183.2,1157.4 1184.0,1161.8 1184.8,1157.4 1185.6,1161.7 1186.4,1157.4 1187.2,1161.6 1188.0,1157.3 1188.8,1162.3 1189.6,1156.7 1190.4,1162.2 1191.2,1157.0 1192.0,1160.0 1192.8,1156.9 1193.6,1159.8 1194.4,1156.6 1195.2,1160.0 1196.0,1156.5 1196.8,1160.2 1197.6,1157.4 1198.4,1160.0 1199.2,1157.5 1200.0,1161.1 1200.8,1157.4 1201.6,1160.2 1202.4,1155.9 1203.2,1160.1 1204.0,1155.8 1204.8,1159.9 1205.6,1157.1 1206.4,1159.8 1207.2,1155.2 1208.0,1160.4 1208.8,1155.1 1209.6,1160.0 1210.4,1155.9 1211.2,1160.0 1212.0,1156.5 1212.8,1159.0 1213.6,1156.4 1214.4,1159.0 1215.2,1154.8 1216.0,1158.6 1216.8,1154.7 1217.6,1159.3 1218.4,1156.6 1219.2,1159.2 1220.0,1155.8 1220.8,1160.3 1221.6,1155.7 1222.4,1159.4 1223.2,1156.5 1224.0,1159.4 1224.8,1156.5 1225.6,1158.2 1226.4,1154.3 1227.2,1158.2 1228.0,1155.4 1228.8,1158.9 1229.6,1155.3 1230.4,1158.7 1231.2,1154.7 1232.0,1158.7 1232.8,1155.9 1233.6,1159.1 1234.4,1155.9 1235.2,1159.1 1236.0,1154.6 1236.8,1159.0 1237.6,1154.5 1238.4,1160.0 1239.2,1154.8 1240.0,1160.0 1240.8,1154.9 1241.6,1158.3 1242.4,1154.9 1243.2,1158.5 1244.0,1154.0 1244.8,1158.4 1245.6,1154.0 1246.4,1158.9 1247.2,1155.3 1248.0,1158.9 1248.8,1155.3 1249.6,1159.6 1250.4,1155.3 1251.2,1159.1 1252.0,1154.6 1252.8,1159.0 1253.6,1154.1 1254.4,1158.4 1255.2,1154.1 1256.0,1158.4 1256.8,1155.3 1257.6,1159.2 1258.4,1155.3 1259.2,1158.4 1260.0,1154.5 1260.8,1158.3 1261.6,1155.5 1262.4,1159.6 1263.2,1155.5 1264.0,1157.8 1264.8,1154.7 1265.6,1157.8 1266.4,1154.7 1267.2,1157.5 1268.0,1154.1 1268.8,1157.4 1269.6,1155.6 1270.4,1159.1 1271.2,1155.6 1272.0,1157.7 1272.8,1154.1 1273.6,1157.7 1274.4,1155.6 1275.2,1159.0 1276.0,1155.5 1276.8,1159.0 1277.6,1153.4 1278.4,1158.3 1279.2,1153.3 1280.0,1158.0 1280.8,1154.6 1281.6,1158.0 1282.4,1154.7 1283.2,1157.1 1284.0,1154.7 1284.8,1158.7 1285.6,1153.9 1286.4,1158.7 1287.2,1153.9 1288.0,1157.0 1288.8,1154.4 1289.6,1157.0 1290.4,1153.8 1291.2,1159.1 1292.0,1153.8 1292.8,1158.8 1293.6,1155.2 1294.4,1158.8 1295.2,1154.2 1296.0,1157.3 1296.8,1154.1 1297.6,1157.3 1298.4,1154.1 1299.2,1156.9 1300.0,1154.1 1300.8,1158.7 1301.6,1153.1 1302.4,1158.7 1303.2,1155.1 1304.0,1157.6 1304.8,1155.1 1305.6,1156.8 1306.4,1154.3 1307.2,1156.8 1308.0,1154.2 1308.8,1157.6 1309.6,1153.8 1310.4,1157.6 1311.2,1140.5 1312.0,1139.5 1312.8,1140.5 1313.6,1139.5 1314.4,1154.9 1315.2,1157.3 1316.0,1153.8 1316.8,1157.8 1317.6,1153.8 1318.4,1157.8 1319.2,1154.6 1320.0,1158.5 1320.8,1154.6 1321.6,1158.2 1322.4,1154.6 1323.2,1158.2 1324.0,1152.9 1324.8,1156.7 1325.6,1152.9 1326.4,1157.3 1327.2,1154.5 1328.0,1157.3 1328.8,1154.5 1329.6,1157.3 1330.4,1153.9 1331.2,1157.3 1332.0,1153.2 1332.8,1158.6 1333.6,1153.2 1334.4,1156.4 1335.2,1153.2 1336.0,1156.4 1336.8,1153.6 1337.6,1157.2 1338.4,1153.6 1339.2,1157.2 1340.0,1152.9 1340.8,1158.3 1341.6,1152.9 1342.4,1156.9 1343.2,1153.8 1344.0,1156.9 1344.8,1153.4 1345.6,1156.6 1346.4,1153.3 1347.2,1157.2 1348.0,1152.8 1348.8,1157.2 1349.6,1152.8 1350.4,1156.7 1351.2,1153.1 1352.0,1156.6 1352.8,1153.2 1353.6,1158.2 1354.4,1153.2 1355.2,1156.2 1356.0,1153.7 1356.8,1156.1 1357.6,1153.4 1358.4,1156.3 1359.2,1153.3 1360.0,1156.3 1360.8,1153.7 1361.6,1156.1 1362.4,1153.7 1363.2,1157.4 1364.0,1152.8 1364.8,1157.4 1365.6,1153.7 1366.4,1156.4 1367.2,1153.6 1368.0,1157.9 1368.8,1153.4 1369.6,1157.9 1370.4,1153.4 1371.2,1157.8 1372.0,1152.6 1372.8,1157.8 1373.6,1153.3 1374.4,1157.9 1375.2,1153.2 1376.0,1156.1 1376.8,1153.6 1377.6,1156.1 1378.4,1152.3 1379.2,1155.7 1380.0,1152.3 1380.8,1155.7 1381.6,1153.4 1382.4,1156.3 1383.2,1153.4 1384.0,1157.8 1384.8,1152.2 1385.6,1157.8 1386.4,1152.3 1387.2,1157.2 1388.0,1152.3 1388.8,1155.6 1389.6,1153.1 1390.4,1155.6 1391.2,1153.1 1392.0,1156.9 1392.8,1152.4 1393.6,1156.9 1394.4,1153.8 1395.2,1157.5 1396.0,1153.8 1396.8,1157.6 1397.6,1153.1 1398.4,1157.6 1399.2,1151.9 1400.0,1149.0 1400.8,1148.0 1401.6,1149.0 1402.4,1148.0 1403.2,1157.2 1404.0,1152.5 1404.8,1157.1 1405.6,1152.6 1406.4,1157.1 1407.2,1152.3 1408.0,1155.8 1408.8,1152.2 1409.6,1155.3 1410.4,1152.2 1411.2,1155.3 1412.0,1152.1 1412.8,1156.6 1413.6,1152.4 1414.4,1156.6 1415.2,1152.7 1416.0,1155.2 1416.8,1152.7 1417.6,1155.7 1418.4,1153.2 1419.2,1155.7 1420.0,1152.9 1420.8,1157.2 1421.6,1152.9 1422.4,1157.2 1423.2,1152.8 1424.0,1156.0 1424.8,1152.8 1425.6,1155.8 1426.4,1152.5 1427.2,1155.8 1428.0,1150.9 1428.8,1156.9 1429.6,1150.9 1430.4,1155.2 1431.2,1152.5 1432.0,1155.2 1432.8,1152.5 1433.6,1157.0 1434.4,1152.3 1435.2,1156.9 1436.0,1152.4 1436.8,1156.7 1437.6,1152.4 1438.4,1155.2 1439.2,1151.8 1440.0,1155.2 1440.8,1150.8 1441.6,1155.1 1442.4,1150.7 1443.2,1155.0 1444.0,1150.9 1444.8,1154.6 1445.6,1150.9 1446.4,1156.5 1447.2,1152.1 1448.0,1156.4 1448.8,1152.3 1449.6,1154.6 1450.4,1152.3 1451.2,1154.3 1452.0,1150.7 1452.8,1154.3 1453.6,1150.7 1454.4,1156.2 1455.2,1151.7 1456.0,1156.2 1456.8,1151.2 1457.6,1155.4 1458.4,1151.2 1459.2,1155.5 1460.0,1152.5 1460.8,1155.5 1461.6,1150.6 1462.4,1155.6 1463.2,1150.6 1464.0,1155.6 1464.8,1151.9 1465.6,1154.1 1466.4,1151.9 1467.2,1154.1 1468.0,1151.5 1468.8,1154.1 1469.6,1152.1 1470.4,1154.9 1471.2,1152.1 1472.0,1154.0 1472.8,1151.6 1473.6,1153.9 1474.4,1151.5 1475.2,1154.8 1476.0,1150.4 1476.8,1154.8 1477.6,1150.4 1478.4,1155.3 1479.2,1150.4 1480.0,1155.1 1480.8,1151.3 1481.6,1155.1 1482.4,1150.5 1483.2,1154.9 1484.0,1150.5 1484.8,1154.9 1485.6,1151.2 1486.4,1153.7 1487.2,1151.2 1488.0,1154.0 1488.8,1151.4 1489.6,1153.9 1490.4,1150.9 1491.2,1155.6 1492.0,1150.9 1492.8,1153.7 1493.6,1151.6 1494.4,1153.6 1495.2,1151.6 1496.0,1154.5 1496.8,1151.3 1497.6,1154.4 1498.4,1150.3 1499.2,1153.4 1500.0,1150.3 1500.8,1155.5 1501.6,1150.1 1502.4,1155.4 1503.2,1151.6 1504.0,1153.5 1504.8,1151.6 1505.6,1153.5 1506.4,1150.1 1507.2,1153.9 1508.0,1150.0 1508.8,1154.2 1509.6,1149.7 1510.4,1145.5 1511.2,1144.5 1512.0,1145.5 1512.8,1144.5 1513.6,1155.1 1514.4,1151.3 1515.2,1155.1 1516.0,1151.3 1516.8,1154.4 1517.6,1149.9 1518.4,1154.4 1519.2,1150.9 1520.0,1153.4 1520.8,1150.8 1521.6,1152.8 1522.4,1149.8 1523.2,1152.8 1524.0,1150.4 1524.8,1154.1 1525.6,1150.3 1526.4,1154.0 1527.2,1149.6 1528.0,1154.7 1528.8,1149.5 1529.6,1152.4 1530.4,1150.3 1531.2,1152.3 1532.0,1149.7 1532.8,1153.8 1533.6,1149.6 1534.4,1152.3 1535.2,1149.4 1536.0,1152.2 1536.8,1149.3 1537.6,1152.7 1538.4,1148.9 1539.2,1152.6 1540.0,1149.8 1540.8,1152.6 1541.6,1149.7 1542.4,1152.7 1543.2,1147.6 1544.0,1152.6 1544.8,1149.3 1545.6,1153.5 1546.4,1149.1 1547.2,1153.4 1548.0,1149.0 1548.8,1152.5 1549.6,1148.9 1550.4,1151.6 1551.2,1148.9 1552.0,1151.5 1552.8,1149.1 1553.6,1152.2 1554.4,1149.0 1555.2,1151.5 1556.0,1148.2 1556.8,1151.4 1557.6,1148.2 1558.4,1151.2 1559.2,1147.2 1560.0,1151.1 1560.8,1147.3 1561.6,1151.0 1562.4,1147.2 1563.2,1151.2 1564.0,1148.4 1564.8,1151.1 1565.6,1148.4 1566.4,1150.6 1567.2,1148.4 1568.0,1150.6 1568.8,1148.0 1569.6,1150.5 1570.4,1148.0 1571.2,1150.3 1572.0,1146.8 1572.8,1150.2 1573.6,1147.5 1574.4,1150.8 1575.2,1147.5 1576.0,1150.4 1576.8,1146.3 1577.6,1150.4 1578.4,1146.2 1579.2,1151.7 1580.0,1146.9 1580.8,1151.7 1581.6,1147.0 1582.4,1151.6 1583.2,1146.9 1584.0,1150.3 1584.8,1146.5 1585.6,1150.2 1586.4,1146.4 1587.2,1150.8 1588.0,1146.4 1588.8,1150.7 1589.6,1147.3 1590.4,1151.4 1591.2,1147.2 1592.0,1149.9 1592.8,1147.2 1593.6,1149.7 1594.4,1146.4 1595.2,1149.5 1596.0,1145.6 1596.8,1148.2 1597.6,1144.3 1598.4,1147.1 1599.2,1143.3 1600.0,1146.8 1600.8,1143.5 1601.6,1146.4 1602.4,1142.6 1603.2,1147.1 1604.0,1142.4 1604.8,1144.9 1605.6,1141.7 1606.4,1144.7 1607.2,1142.6 1608.0,1146.5 1608.8,1142.5 1609.6,1146.4 1610.4,1142.3 1611.2,1145.4 1612.0,1142.2 1612.8,1145.6 1613.6,1142.0 1614.4,1145.5 1615.2,1141.7 1616.0,1144.9 1616.8,1141.5 1617.6,1145.5 1618.4,1139.7 1619.2,1145.4 1620.0,1139.6 1620.8,1143.9 1621.6,1141.7 1622.4,1143.8 1623.2,1141.4 1624.0,1144.7 1624.8,1141.3 1625.6,1143.5 1626.4,1141.3 1627.2,1143.5 1628.0,1140.5 1628.8,1143.9 1629.6,1140.5 1630.4,1143.9 1631.2,1141.3 1632.0,1144.2 1632.8,1141.2 1633.6,1143.0 1634.4,1140.3 1635.2,1143.0 1636.0,1140.8 1636.8,1142.7 1637.6,1140.7 1638.4,1144.2 1639.2,1140.5 1640.0,1144.1 1640.8,1140.4 1641.6,1144.1 1642.4,1139.0 1643.2,1144.0 1644.0,1136.0 1644.8,1135.0 1645.6,1136.0 1646.4,1135.0 1647.2,1139.2 1648.0,1142.5 1648.8,1139.6 1649.6,1143.2 1650.4,1139.5 1651.2,1143.1 1652.0,1139.4 1652.8,1141.8 1653.6,1139.3 1654.4,1143.0 1655.2,1138.2 1656.0,1142.9 1656.8,1139.7 1657.6,1142.6 1658.4,1139.6 1659.2,1142.6 1660.0,1137.7 1660.8,1142.6 1661.6,1137.6 1662.4,1142.1 1663.2,1137.6 1664.0,1142.0 1664.8,1138.2 1665.6,1141.4 1666.4,1138.1 1667.2,1142.6 1668.0,1139.4 1668.8,1142.5 1669.6,1138.0 1670.4,1141.7 1671.2,1137.9 1672.0,1141.7 1672.8,1138.0 1673.6,1142.3 1674.4,1137.9 1675.2,1141.3 1676.0,1137.4 1676.8,1141.2 1677.6,1138.6 1678.4,1140.6 1679.2,1138.5 1680.0,1141.4 1680.8,1136.6 1681.6,1141.3 1682.4,1136.5 1683.2,1141.4 1684.0,1136.6 1684.8,1141.3 1685.6,1138.3 1686.4,1142.0 1687.2,1138.2 1688.0,1141.8 1688.8,1137.7 1689.6,1141.7 1690.4,1138.0 1691.2,1139.6 1692.0,1137.9 1692.8,1139.5 1693.6,1135.9 1694.4,1140.9 1695.2,1135.8 1696.0,1139.5 1696.8,1135.4 1697.6,1139.3 1698.4,1135.0 1699.2,1140.1 1700.0,1134.7 1700.8,1139.1 1701.6,1135.4 1702.4,1138.7 1703.2,1135.1 1704.0,1138.2 1704.8,1134.5 1705.6,1137.8 1706.4,1134.0 1707.2,1137.7 1708.0,1133.6 1708.8,1137.3 1709.6,1133.3 1710.4,1136.8 1711.2,1131.8 1712.0,1136.7 1712.8,1131.2 1713.6,1136.1 1714.4,1131.6 1715.2,1135.5 1716.0,1131.1 1716.8,1135.0 1717.6,1131.2 1718.4,1134.5 1719.2,1130.3 1720.0,1133.2 1720.8,1129.8 1721.6,1133.5 1722.4,1130.2 1723.2,1133.0 1724.0,1129.8 1724.8,1131.8 1725.6,1127.9 1726.4,1131.4 1727.2,1127.5 1728.0,1131.6 1728.8,1127.2 1729.6,1130.8 1730.4,1127.4 1731.2,1130.4 1732.0,1125.9 1732.8,1130.3 1733.6,1125.6 1734.4,1129.9 1735.2,1125.4 1736.0,1128.5 1736.8,1125.1 1737.6,1129.0 1738.4,1125.7 1739.2,1128.6 1740.0,1125.8 1740.8,1127.6 1741.6,1125.4 1742.4,1127.6 1743.2,1125.0 1744.0,1127.2 1744.8,1124.6 1745.6,1126.2 1746.4,1124.1 1747.2,1125.8 1748.0,1123.5 1748.8,1126.7 1749.6,1123.1 1750.4,1126.9 1751.2,1122.3 1752.0,1126.5 1752.8,1120.6 1753.6,1124.7 1754.4,1120.1 1755.2,1124.2 1756.0,1121.3 1756.8,1123.2 1757.6,1120.8 1758.4,1123.9 1759.2,1118.8 1760.0,1123.4 1760.8,1118.9 1761.6,1121.8 1762.4,1118.4 1763.2,1123.1 1764.0,1117.4 1764.8,1122.6 1765.6,1116.9 1766.4,1120.3 1767.2,1117.6 1768.0,1119.8 1768.8,1117.8 1769.6,1119.7 1770.4,1117.3 1771.2,1119.5 1772.0,1115.1 1772.8,1119.0 1773.6,1115.9 1774.4,1117.8 1775.2,1115.4 1776.0,1117.3 1776.8,1115.1 1777.6,1117.2 1778.4,1114.7 1779.2,1116.7 1780.0,1112.7 1780.8,1116.2 1781.6,1112.6 1782.4,1116.9 1783.2,1112.2 1784.0,1117.3 1784.8,1112.9 1785.6,1116.9 1786.4,1112.5 1787.2,1114.9 1788.0,1112.0 1788.8,1114.5 1789.6,1110.0 1790.4,1115.2 1791.2,1109.6 1792.0,1113.3 1792.8,1110.9 1793.6,1113.0 1794.4,1109.5 1795.2,1113.5 1796.0,1109.2 1796.8,1113.2 1797.6,1110.1 1798.4,1112.4 1799.2,1109.7 1800.0,1111.7 1800.8,1107.7 1801.6,1111.3 1802.4,1108.9 1803.2,1112.2 1804.0,1108.4 1804.8,1111.5 1805.6,1107.1 1806.4,1111.0 1807.2,1106.6 1808.0,1109.1 1808.8,1107.1 1809.6,1108.6 1810.4,1105.5 1811.2,1108.4 1812.0,1105.0 1812.8,1109.1 1813.6,1103.6 1814.4,1108.6 1815.2,1104.8 1816.0,1108.5 1816.8,1104.2 1817.6,1107.9 1818.4,1103.3 1819.2,1106.2 1820.0,1102.7 1820.8,1106.3 1821.6,1100.8 1822.4,1105.7 1823.2,1100.6 1824.0,1105.3 1824.8,1099.9 1825.6,1103.9 1826.4,1099.9 1827.2,1103.2 1828.0,1099.2 1828.8,1102.3 1829.6,1097.7 1830.4,1101.5 1831.2,1097.4 1832.0,1099.8 1832.8,1096.7 1833.6,1099.3 1834.4,1094.8 1835.2,1098.5 1836.0,1095.4 1836.8,1098.3 1837.6,1094.6 1838.4,1097.4 1839.2,1092.5 1840.0,1097.3 1840.8,1091.6 1841.6,1094.8 1842.4,1090.9 1843.2,1093.8 1844.0,1089.7 1844.8,1093.0 1845.6,1088.6 1846.4,1091.3 1847.2,1088.5 1848.0,1090.2 1848.8,1087.4 1849.6,1090.6 1850.4,1085.4 1851.2,1089.4 1852.0,1084.4 1852.8,1087.7 1853.6,1083.3 1854.4,1087.5 1855.2,1082.9 1856.0,1086.3 1856.8,1082.4 1857.6,1083.8 1858.4,1081.3 1859.2,1082.6 1860.0,1077.9 1860.8,1082.5 1861.6,1076.8 1862.4,1081.3 1863.2,1076.3 1864.0,1080.1 1864.8,1076.2 1865.6,1078.3 1866.4,1074.9 1867.2,1076.4 1868.0,1072.4 1868.8,1075.1 1869.6,1071.1 1870.4,1074.2 1871.2,1070.8 1872.0,1072.9 1872.8,1069.0 1873.6,1072.4 1874.4,1067.6 1875.2,1069.7 1876.0,1065.3 1876.8,1068.3 1877.6,1065.0 1878.4,1066.8 1879.2,1063.7 1880.0,1065.5 1880.8,1062.7 1881.6,1065.0 1882.4,1061.4 1883.2,1063.2 1884.0,1060.2 1884.8,1062.0 1885.6,1059.3 1886.4,1062.1 1887.2,1058.0 1888.0,1060.8 1888.8,1056.5 1889.6,1059.6 1890.4,1055.3 1891.2,1058.8 1892.0,1054.1 1892.8,1057.7 1893.6,1053.2 1894.4,1056.4 1895.2,1052.4 1896.0,1055.1 1896.8,1051.7 1897.6,1054.2 1898.4,1050.0 1899.2,1052.4 1900.0,1049.3 1900.8,1051.8 1901.6,1036.0 1902.4,1035.0 1903.2,1036.0 1904.0,1035.0 1904.8,1048.2 1905.6,1053.0 1906.4,1047.9 1907.2,1053.2 1908.0,1048.1 1908.8,1053.3 1909.6,1049.9 1910.4,1053.5 1911.2,1050.1 1912.0,1054.1 1912.8,1049.7 1913.6,1054.4 1914.4,1050.2 1915.2,1053.4 1916.0,1050.6 1916.8,1054.7 1917.6,1051.9 1918.4,1055.1 1919.2,1052.2 1920.0,1055.1 1920.8,1052.6 1921.6,1055.6 1922.4,1051.3 1923.2,1055.6 1924.0,1051.7 1924.8,1056.1 1925.6,1053.3 1926.4,1056.6 1927.2,1053.0 1928.0,1056.8 1928.8,1053.5 1929.6,1058.0 1930.4,1055.8 1931.2,1058.6 1932.0,1056.3 1932.8,1058.9 1933.6,1055.9 1934.4,1059.6 1935.2,1055.7 1936.0,1060.3 1936.8,1056.4 1937.6,1062.1 1938.4,1057.1 1939.2,1062.8 1940.0,1059.6 1940.8,1063.0 1941.6,1060.3 1942.4,1063.7 1943.2,1060.0 1944.0,1064.4 1944.8,1060.8 1945.6,1066.0 1946.4,1061.9 1947.2,1066.8 1948.0,1061.7 1948.8,1065.6 1949.6,1062.5 1950.4,1067.1 1951.2,1064.9 1952.0,1068.0 1952.8,1065.8 1953.6,1068.1 1954.4,1066.4 1955.2,1069.0 1956.0,1066.0 1956.8,1070.5 1957.6,1066.9 1958.4,1072.9 1959.2,1068.8 1960.0,1073.8 1960.8,1069.7 1961.6,1072.7 1962.4,1070.7 1963.2,1073.7 1964.0,1070.2 1964.8,1076.1 1965.6,1071.1 1966.4,1077.3 1967.2,1073.7 1968.0,1078.2 1968.8,1075.0 1969.6,1078.0 1970.4,1075.9 1971.2,1079.6 1972.0,1076.0 1972.8,1080.4 1973.6,1076.8 1974.4,1080.3 1975.2,1078.1 1976.0,1081.1 1976.8,1079.0 1977.6,1081.7 1978.4,1079.8 1979.2,1082.9 1980.0,1079.6 1980.8,1083.7 1981.6,1079.4 1982.4,1083.8 1983.2,1080.2 1984.0,1084.6 1984.8,1082.0 1985.6,1085.6 1986.4,1082.7 1987.2,1086.3 1988.0,1083.3 1988.8,1087.0 1989.6,1084.8 1990.4,1089.5 1991.2,1085.5 1992.0,1088.5 1992.8,1085.6 1993.6,1089.1 1994.4,1086.2 1995.2,1089.5 1996.0,1086.3 1996.8,1090.1 1997.6,1087.3 1998.4,1092.4 1999.2,1087.8 2000.0,1091.0 2000.8,1087.7 2001.6,1091.5 2002.4,1088.9 2003.2,1094.0 2004.0,1089.4 2004.8,1094.4 2005.6,1090.6 2006.4,1094.6 2007.2,1091.0 2008.0,1094.4 2008.8,1090.6 2009.6,1094.9 2010.4,1091.3 2011.2,1094.7 2012.0,1091.7 2012.8,1094.6 2013.6,1092.7 2014.4,1095.0 2015.2,1093.1 2016.0,1095.2 2016.8,1092.5 2017.6,1095.6 2018.4,1092.3 2019.2,1095.9 2020.0,1092.6 2020.8,1096.7 2021.6,1094.5 2022.4,1097.1 2023.2,1094.0 2024.0,1097.5 2024.8,1094.3 2025.6,1097.8 2026.4,1094.1 2027.2,1099.4 2028.0,1094.3 2028.8,1098.6 2029.6,1095.4 2030.4,1098.9 2031.2,1096.0 2032.0,1100.4 2032.8,1096.2 2033.6,1099.9 2034.4,1096.3 2035.2,1100.1 2036.0,1096.5 2036.8,1099.0 2037.6,1096.3 2038.4,1099.3 2039.2,1096.2 2040.0,1100.4 2040.8,1096.4 2041.6,1099.7 2042.4,1096.9 2043.2,1099.9 2044.0,1098.1 2044.8,1100.0 2045.6,1098.3 2046.4,1100.2 2047.2,1096.9 2048.0,1102.5 2048.8,1097.1 2049.6,1101.1 2050.4,1097.0 2051.2,1101.3 2052.0,1099.1 2052.8,1101.2 2053.6,1099.3 2054.4,1101.2 2055.2,1099.2 2056.0,1101.4 2056.8,1099.4 2057.6,1102.8 2058.4,1099.8 2059.2,1103.0 2060.0,1098.3 2060.8,1102.7 2061.6,1098.5 2062.4,1102.1 2063.2,1096.5 2064.0,1095.5 2064.8,1096.5 2065.6,1095.5 2066.4,1100.9 2067.2,1104.1 2068.0,1100.6 2068.8,1103.2 2069.6,1100.8 2070.4,1104.7 2071.2,1101.3 2072.0,1104.9 2072.8,1100.9 2073.6,1104.3 2074.4,1101.1 2075.2,1104.6 2076.0,1100.0 2076.8,1104.8 2077.6,1100.2 2078.4,1104.8 2079.2,1102.4 2080.0,1105.0 2080.8,1102.4 2081.6,1105.8 2082.4,1102.6 2083.2,1106.8 2084.0,1102.1 2084.8,1107.0 2085.6,1102.2 2086.4,1106.6 2087.2,1102.4 2088.0,1106.8 2088.8,1102.0 2089.6,1105.4 2090.4,1102.2 2091.2,1106.4 2092.0,1103.2 2092.8,1106.6 2093.6,1104.0 2094.4,1106.2 2095.2,1104.1 2096.0,1106.1 2096.8,1103.9 2097.6,1106.3 2098.4,1104.1 2099.2,1106.6 2100.0,1102.6 2100.8,1106.8 2101.6,1103.4 2102.4,1107.1 2103.2,1103.6"/>
<polyline class="curve" stroke="#000000" stroke-width="8.2" points="172.0,1479.0 172.8,1482.7 173.5,1486.2 174.2,1489.6 175.0,1492.8 175.8,1495.8 176.5,1498.5 177.2,1500.9 178.0,1503.0 178.8,1504.9 179.5,1506.9 180.2,1508.8 181.0,1510.6 181.8,1512.3 182.5,1513.7 183.2,1514.8 184.0,1515.6 184.8,1516.0 185.5,1516.0 186.2,1515.8 187.0,1515.5 187.8,1515.1 188.5,1514.7 189.2,1514.2 190.0,1513.6 190.8,1513.0 191.5,1512.4 192.2,1511.8 193.0,1511.2 193.8,1510.5 194.5,1509.7 195.2,1508.9 196.0,1508.0 196.8,1507.0 197.5,1505.9 198.2,1504.8 199.0,1503.6 199.8,1502.2 200.5,1500.6 201.2,1498.6 202.0,1496.4 202.8,1494.0 203.5,1491.4 204.2,1488.7 205.0,1486.0 205.8,1483.1 206.5,1480.0 207.2,1476.7 208.0,1473.2 208.8,1469.7 209.5,1466.3 210.2,1462.9 211.0,1459.7 211.8,1456.7 212.5,1453.8 213.2,1450.8 214.0,1447.7 214.8,1444.3 215.5,1440.7 216.2,1436.6 217.0,1432.0 217.8,1426.1 218.5,1418.5 219.2,1410.2 220.0,1401.8 220.8,1394.2 221.5,1387.5 222.2,1380.2 223.0,1372.8 223.8,1366.3 224.5,1361.4 225.2,1358.9 226.0,1359.9 226.8,1365.2 227.5,1373.4 228.2,1382.9 229.0,1392.0 229.8,1401.3 230.5,1411.8 231.2,1422.4 232.0,1432.0 232.8,1441.0 233.5,1450.1 234.2,1459.1 235.0,1467.7 235.8,1475.6 236.5,1482.4 237.2,1487.8 238.0,1491.7 238.8,1494.7 239.5,1497.4 240.2,1499.7 241.0,1501.7 241.8,1503.5 242.5,1505.0 243.2,1506.5 244.0,1507.8 244.8,1509.1 245.5,1510.2 246.2,1511.3 247.0,1512.1 247.8,1512.7 248.5,1513.0 249.2,1513.4 250.0,1513.7 250.8,1514.0 251.5,1514.3 252.2,1514.6 253.0,1514.9 253.8,1515.1 254.5,1515.3 255.2,1515.5 256.0,1515.6 256.8,1515.8 257.5,1515.9 258.2,1515.9 259.0,1516.0 259.8,1516.0 260.5,1516.0 261.2,1516.0 262.0,1515.9 262.8,1515.9 263.5,1515.8 264.2,1515.7 265.0,1515.6 265.8,1515.5 266.5,1515.4 267.2,1515.3 268.0,1515.2 268.8,1515.1 269.5,1515.1 270.2,1515.0 271.0,1514.9 271.8,1514.8 272.5,1514.8 273.2,1514.7 274.0,1514.6 274.8,1514.5 275.5,1514.5 276.2,1514.4 277.0,1514.3 277.8,1514.2 278.5,1514.0 279.2,1513.9 280.0,1513.7 280.8,1513.4 281.5,1512.8 282.2,1512.1 283.0,1511.3 283.8,1510.4 284.5,1509.6 285.2,1508.7 286.0,1508.0 286.8,1507.3 287.5,1506.5 288.2,1505.7 289.0,1505.0 289.8,1504.4 290.5,1504.1 291.2,1504.0 292.0,1504.4 292.8,1505.0 293.5,1505.9 294.2,1506.9 295.0,1508.0 295.8,1509.3 296.5,1511.1 297.2,1513.1 298.0,1515.2 298.8,1517.2 299.5,1518.9 300.2,1520.4 301.0,1521.9 301.8,1523.4 302.5,1524.7 303.2,1525.9 304.0,1527.0 304.8,1528.0 305.5,1529.0 306.2,1529.9 307.0,1530.8 307.8,1531.6 308.5,1532.3 309.2,1532.8 310.0,1533.1 310.8,1533.4 311.5,1533.7 312.2,1534.0 313.0,1534.2 313.8,1534.4 314.5,1534.6 315.2,1534.8 316.0,1535.0 316.8,1535.1 317.5,1535.2 318.2,1535.3 319.0,1535.4 319.8,1535.5 320.5,1535.5 321.2,1535.6 322.0,1535.6 322.8,1535.6 323.5,1535.7 324.2,1535.7 325.0,1535.7 325.8,1535.7 326.5,1535.8 327.2,1535.8 328.0,1535.8 328.8,1535.8 329.5,1535.8 330.2,1535.9 331.0,1535.9 331.8,1535.9 332.5,1535.9 333.2,1535.9 334.0,1535.9 334.8,1536.0 335.5,1536.0 336.2,1536.0 337.0,1536.0 337.8,1536.1 338.5,1536.1 339.2,1536.1 340.0,1536.1 340.8,1536.2 341.5,1536.2 342.2,1536.2 343.0,1536.3 343.8,1536.3 344.5,1536.3 345.2,1536.4 346.0,1536.4 346.8,1536.4 347.5,1536.5 348.2,1536.5 349.0,1536.5 349.8,1536.6 350.5,1536.6 351.2,1536.6 352.0,1536.7 352.8,1536.7 353.5,1536.7 354.2,1536.8 355.0,1536.8 355.8,1536.8 356.5,1536.8 357.2,1536.9 358.0,1536.9 358.8,1536.9 359.5,1536.9 360.2,1536.9 361.0,1537.0 361.8,1537.0 362.5,1537.0 363.2,1537.0 364.0,1537.0 364.8,1537.0 365.5,1537.0 366.2,1537.0 367.0,1537.0 367.8,1537.0 368.5,1537.0 369.2,1536.9 370.0,1536.9 370.8,1536.9 371.5,1536.9 372.2,1536.8 373.0,1536.8 373.8,1536.8 374.5,1536.7 375.2,1536.7 376.0,1536.6 376.8,1536.6 377.5,1536.5 378.2,1536.5 379.0,1536.4 379.8,1536.3 380.5,1536.3 381.2,1536.2 382.0,1536.2 382.8,1536.1 383.5,1536.0 384.2,1535.9 385.0,1535.9 385.8,1535.8 386.5,1535.7 387.2,1535.6 388.0,1535.6 388.8,1535.5 389.5,1535.4 390.2,1535.3 391.0,1535.2 391.8,1535.1 392.5,1535.1 393.2,1535.0 394.0,1534.9 394.8,1534.8 395.5,1534.7 396.2,1534.6 397.0,1534.5 397.8,1534.4 398.5,1534.3 399.2,1534.1 400.0,1534.0 400.8,1533.8 401.5,1533.7 402.2,1533.5 403.0,1533.3 403.8,1533.2 404.5,1533.0 405.2,1532.8 406.0,1532.6 406.8,1532.4 407.5,1532.3 408.2,1532.1 409.0,1531.9 409.8,1531.7 410.5,1531.5 411.2,1531.3 412.0,1531.1 412.8,1531.0 413.5,1530.8 414.2,1530.6 415.0,1530.4 415.8,1530.3 416.5,1530.1 417.2,1529.9 418.0,1529.8 418.8,1529.6 419.5,1529.5 420.2,1529.3 421.0,1529.2 421.8,1529.0 422.5,1528.8 423.2,1528.7 424.0,1528.5 424.8,1528.4 425.5,1528.3 426.2,1528.1 427.0,1528.1 427.8,1528.0 428.5,1528.0 429.2,1527.9 430.0,1527.9 430.8,1527.9 431.5,1527.9 432.2,1527.9 433.0,1527.8 433.8,1527.8 434.5,1527.8 435.2,1527.8 436.0,1527.8 436.8,1527.9 437.5,1528.0 438.2,1528.3 439.0,1528.6 439.8,1528.9 440.5,1529.3 441.2,1529.7 442.0,1530.0 442.8,1530.4 443.5,1530.7 444.2,1531.1 445.0,1531.5 445.8,1531.9 446.5,1532.3 447.2,1532.7 448.0,1533.1 448.8,1533.4 449.5,1533.7 450.2,1533.9 451.0,1534.1 451.8,1534.2 452.5,1534.4 453.2,1534.5 454.0,1534.7 454.8,1534.8 455.5,1534.9 456.2,1535.0 457.0,1535.1 457.8,1535.2 458.5,1535.3 459.2,1535.4 460.0,1535.5 460.8,1535.6 461.5,1535.6 462.2,1535.7 463.0,1535.7 463.8,1535.8 464.5,1535.8 465.2,1535.8 466.0,1535.8 466.8,1535.8 467.5,1535.8 468.2,1535.9 469.0,1535.9 469.8,1535.9 470.5,1535.9 471.2,1535.9 472.0,1535.9 472.8,1535.9 473.5,1535.9 474.2,1536.0 475.0,1536.0 475.8,1536.0 476.5,1536.0 477.2,1536.0 478.0,1536.0 478.8,1536.0 479.5,1536.0 480.2,1536.0 481.0,1536.0 481.8,1536.0 482.5,1536.0 483.2,1536.0 484.0,1536.0 484.8,1536.0 485.5,1536.0 486.2,1536.0 487.0,1536.0 487.8,1536.0 488.5,1536.0 489.2,1536.0 490.0,1536.0 490.8,1536.0 491.5,1536.0 492.2,1536.0 493.0,1536.0 493.8,1536.0 494.5,1536.0 495.2,1536.0 496.0,1536.0 496.8,1536.0 497.5,1536.0 498.2,1536.0 499.0,1536.0 499.8,1536.0 500.5,1536.0 501.2,1536.0 502.0,1536.0 502.8,1536.0 503.5,1536.0 504.2,1536.0 505.0,1536.0 505.8,1536.0 506.5,1536.0 507.2,1535.9 508.0,1535.9 508.8,1535.9 509.5,1535.9 510.2,1535.9 511.0,1535.9 511.8,1535.9 512.5,1535.9 513.2,1535.9 514.0,1535.9 514.8,1535.9 515.5,1535.9 516.2,1535.9 517.0,1535.9 517.8,1535.9 518.5,1535.9 519.2,1535.9 520.0,1535.9 520.8,1535.9 521.5,1535.9 522.2,1535.9 523.0,1535.9 523.8,1535.9 524.5,1535.9 525.2,1535.8 526.0,1535.8 526.8,1535.8 527.5,1535.8 528.2,1535.8 529.0,1535.8 529.8,1535.8 530.5,1535.8 531.2,1535.8 532.0,1535.8 532.8,1535.8 533.5,1535.8 534.2,1535.8 535.0,1535.8 535.8,1535.8 536.5,1535.8 537.2,1535.7 538.0,1535.7 538.8,1535.7 539.5,1535.7 540.2,1535.7 541.0,1535.7 541.8,1535.7 542.5,1535.7 543.2,1535.7 544.0,1535.6 544.8,1535.6 545.5,1535.6 546.2,1535.5 547.0,1535.5 547.8,1535.4 548.5,1535.4 549.2,1535.3 550.0,1535.3 550.8,1535.2 551.5,1535.1 552.2,1535.1 553.0,1535.0 553.8,1534.9 554.5,1534.8 555.2,1534.8 556.0,1534.7 556.8,1534.6 557.5,1534.5 558.2,1534.4 559.0,1534.4 559.8,1534.3 560.5,1534.2 561.2,1534.1 562.0,1534.0 562.8,1533.9 563.5,1533.9 564.2,1533.8 565.0,1533.7 565.8,1533.6 566.5,1533.6 567.2,1533.5 568.0,1533.4 568.8,1533.4 569.5,1533.3 570.2,1533.3 571.0,1533.2 571.8,1533.2 572.5,1533.1 573.2,1533.1 574.0,1533.1 574.8,1533.0 575.5,1533.0 576.2,1533.0 577.0,1533.0 577.8,1533.0 578.5,1533.0 579.2,1533.0 580.0,1533.0 580.8,1533.0 581.5,1533.0 582.2,1533.0 583.0,1533.0 583.8,1533.0 584.5,1533.0 585.2,1533.0 586.0,1533.0 586.8,1533.0 587.5,1533.0 588.2,1532.9 589.0,1532.9 589.8,1532.9 590.5,1532.9 591.2,1532.9 592.0,1532.9 592.8,1532.9 593.5,1532.9 594.2,1532.9 595.0,1532.9 595.8,1532.9 596.5,1532.9 597.2,1532.9 598.0,1532.9 598.8,1532.9 599.5,1532.9 600.2,1532.9 601.0,1532.9 601.8,1532.9 602.5,1532.9 603.2,1532.9 604.0,1532.9 604.8,1532.9 605.5,1532.9 606.2,1532.9 607.0,1532.9 607.8,1532.9 608.5,1532.9 609.2,1532.9 610.0,1532.9 610.8,1532.9 611.5,1532.9 612.2,1532.9 613.0,1532.9 613.8,1532.9 614.5,1532.9 615.2,1532.9 616.0,1532.9 616.8,1532.9 617.5,1532.9 618.2,1532.9 619.0,1532.9 619.8,1532.9 620.5,1532.9 621.2,1532.9 622.0,1532.9 622.8,1532.9 623.5,1532.9 624.2,1532.9 625.0,1532.9 625.8,1532.9 626.5,1532.9 627.2,1532.9 628.0,1532.9 628.8,1532.9 629.5,1532.9 630.2,1532.9 631.0,1532.9 631.8,1532.9 632.5,1532.9 633.2,1532.9 634.0,1532.9 634.8,1532.9 635.5,1532.9 636.2,1532.9 637.0,1532.9 637.8,1532.9 638.5,1532.9 639.2,1532.9 640.0,1532.9 640.8,1532.9 641.5,1532.8 642.2,1532.8 643.0,1532.8 643.8,1532.8 644.5,1532.8 645.2,1532.8 646.0,1532.8 646.8,1532.8 647.5,1532.8 648.2,1532.8 649.0,1532.8 649.8,1532.8 650.5,1532.8 651.2,1532.8 652.0,1532.8 652.8,1532.8 653.5,1532.8 654.2,1532.8 655.0,1532.8 655.8,1532.8 656.5,1532.8 657.2,1532.8 658.0,1532.8 658.8,1532.8 659.5,1532.8 660.2,1532.8 661.0,1532.8 661.8,1532.8 662.5,1532.8 663.2,1532.8 664.0,1532.8 664.8,1532.8 665.5,1532.8 666.2,1532.8 667.0,1532.8 667.8,1532.8 668.5,1532.8 669.2,1532.8 670.0,1532.8 670.8,1532.8 671.5,1532.8 672.2,1532.7 673.0,1532.7 673.8,1532.7 674.5,1532.7 675.2,1532.7 676.0,1532.7 676.8,1532.7 677.5,1532.7 678.2,1532.7 679.0,1532.7 679.8,1532.7 680.5,1532.7 681.2,1532.7 682.0,1532.7 682.8,1532.7 683.5,1532.7 684.2,1532.7 685.0,1532.7 685.8,1532.7 686.5,1532.7 687.2,1532.7 688.0,1532.7 688.8,1532.7 689.5,1532.7 690.2,1532.6 691.0,1532.6 691.8,1532.6 692.5,1532.6 693.2,1532.6 694.0,1532.6 694.8,1532.6 695.5,1532.6 696.2,1532.6 697.0,1532.6 697.8,1532.6 698.5,1532.6 699.2,1532.6 700.0,1532.6 700.8,1532.6 701.5,1532.6 702.2,1532.6 703.0,1532.6 703.8,1532.6 704.5,1532.5 705.2,1532.5 706.0,1532.5 706.8,1532.5 707.5,1532.5 708.2,1532.5 709.0,1532.5 709.8,1532.5 710.5,1532.5 711.2,1532.5 712.0,1532.5 712.8,1532.5 713.5,1532.5 714.2,1532.5 715.0,1532.5 715.8,1532.5 716.5,1532.4 717.2,1532.4 718.0,1532.4 718.8,1532.4 719.5,1532.4 720.2,1532.4 721.0,1532.4 721.8,1532.4 722.5,1532.4 723.2,1532.4 724.0,1532.4 724.8,1532.4 725.5,1532.4 726.2,1532.4 727.0,1532.4 727.8,1532.3 728.5,1532.3 729.2,1532.3 730.0,1532.3 730.8,1532.3 731.5,1532.3 732.2,1532.3 733.0,1532.3 733.8,1532.3 734.5,1532.3 735.2,1532.3 736.0,1532.3 736.8,1532.3 737.5,1532.2 738.2,1532.2 739.0,1532.2 739.8,1532.2 740.5,1532.2 741.2,1532.2 742.0,1532.2 742.8,1532.2 743.5,1532.2 744.2,1532.2 745.0,1532.2 745.8,1532.2 746.5,1532.2 747.2,1532.1 748.0,1532.1 748.8,1532.1 749.5,1532.1 750.2,1532.1 751.0,1532.1 751.8,1532.1 752.5,1532.1 753.2,1532.1 754.0,1532.1 754.8,1532.1 755.5,1532.1 756.2,1532.0 757.0,1532.0 757.8,1532.0 758.5,1532.0 759.2,1532.0 760.0,1532.0 760.8,1532.0 761.5,1532.0 762.2,1532.0 763.0,1532.0 763.8,1532.0 764.5,1531.9 765.2,1531.9 766.0,1531.9 766.8,1531.9 767.5,1531.9 768.2,1531.9 769.0,1531.9 769.8,1531.9 770.5,1531.9 771.2,1531.8 772.0,1531.8 772.8,1531.8 773.5,1531.8 774.2,1531.8 775.0,1531.8 775.8,1531.8 776.5,1531.8 777.2,1531.7 778.0,1531.7 778.8,1531.7 779.5,1531.7 780.2,1531.7 781.0,1531.7 781.8,1531.7 782.5,1531.6 783.2,1531.6 784.0,1531.6 784.8,1531.6 785.5,1531.6 786.2,1531.6 787.0,1531.5 787.8,1531.5 788.5,1531.5 789.2,1531.5 790.0,1531.5 790.8,1531.5 791.5,1531.5 792.2,1531.4 793.0,1531.4 793.8,1531.4 794.5,1531.4 795.2,1531.4 796.0,1531.3 796.8,1531.3 797.5,1531.3 798.2,1531.3 799.0,1531.3 799.8,1531.3 800.5,1531.2 801.2,1531.2 802.0,1531.2 802.8,1531.2 803.5,1531.2 804.2,1531.1 805.0,1531.1 805.8,1531.1 806.5,1531.1 807.2,1531.1 808.0,1531.1 808.8,1531.0 809.5,1531.0 810.2,1531.0 811.0,1531.0 811.8,1531.0 812.5,1530.9 813.2,1530.9 814.0,1530.9 814.8,1530.9 815.5,1530.9 816.2,1530.8 817.0,1530.8 817.8,1530.8 818.5,1530.8 819.2,1530.7 820.0,1530.7 820.8,1530.7 821.5,1530.7 822.2,1530.7 823.0,1530.6 823.8,1530.6 824.5,1530.6 825.2,1530.6 826.0,1530.6 826.8,1530.5 827.5,1530.5 828.2,1530.5 829.0,1530.5 829.8,1530.5 830.5,1530.4 831.2,1530.4 832.0,1530.4 832.8,1530.4 833.5,1530.3 834.2,1530.3 835.0,1530.3 835.8,1530.3 836.5,1530.3 837.2,1530.2 838.0,1530.2 838.8,1530.2 839.5,1530.2 840.2,1530.1 841.0,1530.1 841.8,1530.1 842.5,1530.1 843.2,1530.1 844.0,1530.0 844.8,1530.0 845.5,1530.0 846.2,1530.0 847.0,1529.9 847.8,1529.9 848.5,1529.9 849.2,1529.9 850.0,1529.9 850.8,1529.8 851.5,1529.8 852.2,1529.8 853.0,1529.8 853.8,1529.8 854.5,1529.7 855.2,1529.7 856.0,1529.7 856.8,1529.7 857.5,1529.6 858.2,1529.6 859.0,1529.6 859.8,1529.6 860.5,1529.6 861.2,1529.5 862.0,1529.5 862.8,1529.5 863.5,1529.5 864.2,1529.5 865.0,1529.4 865.8,1529.4 866.5,1529.4 867.2,1529.4 868.0,1529.3 868.8,1529.3 869.5,1529.3 870.2,1529.3 871.0,1529.3 871.8,1529.2 872.5,1529.2 873.2,1529.2 874.0,1529.2 874.8,1529.2 875.5,1529.1 876.2,1529.1 877.0,1529.1 877.8,1529.1 878.5,1529.1 879.2,1529.0 880.0,1529.0 880.8,1529.0 881.5,1529.0 882.2,1529.0 883.0,1528.9 883.8,1528.9 884.5,1528.9 885.2,1528.9 886.0,1528.9 886.8,1528.8 887.5,1528.8 888.2,1528.8 889.0,1528.8 889.8,1528.8 890.5,1528.8 891.2,1528.7 892.0,1528.7 892.8,1528.7 893.5,1528.7 894.2,1528.7 895.0,1528.7 895.8,1528.6 896.5,1528.6 897.2,1528.6 898.0,1528.6 898.8,1528.6 899.5,1528.6 900.2,1528.5 901.0,1528.5 901.8,1528.5 902.5,1528.5 903.2,1528.5 904.0,1528.5 904.8,1528.4 905.5,1528.4 906.2,1528.4 907.0,1528.4 907.8,1528.4 908.5,1528.4 909.2,1528.4 910.0,1528.3 910.8,1528.3 911.5,1528.3 912.2,1528.3 913.0,1528.3 913.8,1528.3 914.5,1528.3 915.2,1528.2 916.0,1528.2 916.8,1528.2 917.5,1528.2 918.2,1528.2 919.0,1528.2 919.8,1528.2 920.5,1528.1 921.2,1528.1 922.0,1528.1 922.8,1528.1 923.5,1528.1 924.2,1528.1 925.0,1528.1 925.8,1528.1 926.5,1528.0 927.2,1528.0 928.0,1528.0 928.8,1528.0 929.5,1528.0 930.2,1528.0 931.0,1528.0 931.8,1528.0 932.5,1527.9 933.2,1527.9 934.0,1527.9 934.8,1527.9 935.5,1527.9 936.2,1527.9 937.0,1527.9 937.8,1527.9 938.5,1527.9 939.2,1527.8 940.0,1527.8 940.8,1527.8 941.5,1527.8 942.2,1527.8 943.0,1527.8 943.8,1527.8 944.5,1527.8 945.2,1527.7 946.0,1527.7 946.8,1527.7 947.5,1527.7 948.2,1527.7 949.0,1527.7 949.8,1527.7 950.5,1527.7 951.2,1527.7 952.0,1527.6 952.8,1527.6 953.5,1527.6 954.2,1527.6 955.0,1527.6 955.8,1527.6 956.5,1527.6 957.2,1527.6 958.0,1527.6 958.8,1527.6 959.5,1527.5 960.2,1527.5 961.0,1527.5 961.8,1527.5 962.5,1527.5 963.2,1527.5 964.0,1527.5 964.8,1527.5 965.5,1527.5 966.2,1527.4 967.0,1527.4 967.8,1527.4 968.5,1527.4 969.2,1527.4 970.0,1527.4 970.8,1527.4 971.5,1527.4 972.2,1527.4 973.0,1527.4 973.8,1527.3 974.5,1527.3 975.2,1527.3 976.0,1527.3 976.8,1527.3 977.5,1527.3 978.2,1527.3 979.0,1527.3 979.8,1527.3 980.5,1527.2 981.2,1527.2 982.0,1527.2 982.8,1527.2 983.5,1527.2 984.2,1527.2 985.0,1527.2 985.8,1527.2 986.5,1527.2 987.2,1527.2 988.0,1527.1 988.8,1527.1 989.5,1527.1 990.2,1527.1 991.0,1527.1 991.8,1527.1 992.5,1527.1 993.2,1527.1 994.0,1527.1 994.8,1527.0 995.5,1527.0 996.2,1527.0 997.0,1527.0 997.8,1527.0 998.5,1527.0 999.2,1527.0 1000.0,1527.0 1000.8,1527.0 1001.5,1526.9 1002.2,1526.9 1003.0,1526.9 1003.8,1526.9 1004.5,1526.9 1005.2,1526.9 1006.0,1526.9 1006.8,1526.9 1007.5,1526.9 1008.2,1526.8 1009.0,1526.8 1009.8,1526.8 1010.5,1526.8 1011.2,1526.8 1012.0,1526.8 1012.8,1526.8 1013.5,1526.8 1014.2,1526.7 1015.0,1526.7 1015.8,1526.7 1016.5,1526.7 1017.2,1526.7 1018.0,1526.7 1018.8,1526.7 1019.5,1526.7 1020.2,1526.6 1021.0,1526.6 1021.8,1526.6 1022.5,1526.6 1023.2,1526.6 1024.0,1526.6 1024.8,1526.6 1025.5,1526.6 1026.2,1526.5 1027.0,1526.5 1027.8,1526.5 1028.5,1526.5 1029.2,1526.5 1030.0,1526.5 1030.8,1526.5 1031.5,1526.4 1032.2,1526.4 1033.0,1526.4 1033.8,1526.4 1034.5,1526.4 1035.2,1526.4 1036.0,1526.4 1036.8,1526.3 1037.5,1526.3 1038.2,1526.3 1039.0,1526.3 1039.8,1526.3 1040.5,1526.3 1041.2,1526.3 1042.0,1526.2 1042.8,1526.2 1043.5,1526.2 1044.2,1526.2 1045.0,1526.2 1045.8,1526.2 1046.5,1526.2 1047.2,1526.1 1048.0,1526.1 1048.8,1526.1 1049.5,1526.1 1050.2,1526.1 1051.0,1526.1 1051.8,1526.0 1052.5,1526.0 1053.2,1526.0 1054.0,1526.0 1054.8,1526.0 1055.5,1526.0 1056.2,1525.9 1057.0,1525.9 1057.8,1525.9 1058.5,1525.9 1059.2,1525.9 1060.0,1525.8 1060.8,1525.8 1061.5,1525.8 1062.2,1525.8 1063.0,1525.8 1063.8,1525.8 1064.5,1525.7 1065.2,1525.7 1066.0,1525.7 1066.8,1525.7 1067.5,1525.7 1068.2,1525.6 1069.0,1525.6 1069.8,1525.6 1070.5,1525.6 1071.2,1525.6 1072.0,1525.5 1072.8,1525.5 1073.5,1525.5 1074.2,1525.5 1075.0,1525.5 1075.8,1525.4 1076.5,1525.4 1077.2,1525.4 1078.0,1525.4 1078.8,1525.4 1079.5,1525.3 1080.2,1525.3 1081.0,1525.3 1081.8,1525.3 1082.5,1525.2 1083.2,1525.2 1084.0,1525.2 1084.8,1525.2 1085.5,1525.2 1086.2,1525.1 1087.0,1525.1 1087.8,1525.1 1088.5,1525.1 1089.2,1525.0 1090.0,1525.0 1090.8,1525.0 1091.5,1525.0 1092.2,1525.0 1093.0,1524.9 1093.8,1524.9 1094.5,1524.9 1095.2,1524.9 1096.0,1524.8 1096.8,1524.8 1097.5,1524.8 1098.2,1524.8 1099.0,1524.7 1099.8,1524.7 1100.5,1524.7 1101.2,1524.7 1102.0,1524.6 1102.8,1524.6 1103.5,1524.6 1104.2,1524.6 1105.0,1524.5 1105.8,1524.5 1106.5,1524.5 1107.2,1524.5 1108.0,1524.4 1108.8,1524.4 1109.5,1524.4 1110.2,1524.4 1111.0,1524.3 1111.8,1524.3 1112.5,1524.3 1113.2,1524.3 1114.0,1524.2 1114.8,1524.2 1115.5,1524.2 1116.2,1524.1 1117.0,1524.1 1117.8,1524.1 1118.5,1524.1 1119.2,1524.0 1120.0,1524.0 1120.8,1524.0 1121.5,1524.0 1122.2,1523.9 1123.0,1523.9 1123.8,1523.9 1124.5,1523.8 1125.2,1523.8 1126.0,1523.8 1126.8,1523.8 1127.5,1523.7 1128.2,1523.7 1129.0,1523.7 1129.8,1523.6 1130.5,1523.6 1131.2,1523.6 1132.0,1523.6 1132.8,1523.5 1133.5,1523.5 1134.2,1523.5 1135.0,1523.4 1135.8,1523.4 1136.5,1523.4 1137.2,1523.4 1138.0,1523.3 1138.8,1523.3 1139.5,1523.3 1140.2,1523.2 1141.0,1523.2 1141.8,1523.2 1142.5,1523.2 1143.2,1523.1 1144.0,1523.1 1144.8,1523.1 1145.5,1523.0 1146.2,1523.0 1147.0,1523.0 1147.8,1522.9 1148.5,1522.9 1149.2,1522.9 1150.0,1522.9 1150.8,1522.8 1151.5,1522.8 1152.2,1522.8 1153.0,1522.7 1153.8,1522.7 1154.5,1522.7 1155.2,1522.6 1156.0,1522.6 1156.8,1522.6 1157.5,1522.5 1158.2,1522.5 1159.0,1522.5 1159.8,1522.5 1160.5,1522.4 1161.2,1522.4 1162.0,1522.4 1162.8,1522.3 1163.5,1522.3 1164.2,1522.3 1165.0,1522.2 1165.8,1522.2 1166.5,1522.2 1167.2,1522.1 1168.0,1522.1 1168.8,1522.1 1169.5,1522.0 1170.2,1522.0 1171.0,1522.0 1171.8,1521.9 1172.5,1521.9 1173.2,1521.9 1174.0,1521.8 1174.8,1521.8 1175.5,1521.8 1176.2,1521.8 1177.0,1521.7 1177.8,1521.7 1178.5,1521.7 1179.2,1521.6 1180.0,1521.6 1180.8,1521.6 1181.5,1521.5 1182.2,1521.5 1183.0,1521.5 1183.8,1521.4 1184.5,1521.4 1185.2,1521.4 1186.0,1521.3 1186.8,1521.3 1187.5,1521.3 1188.2,1521.2 1189.0,1521.2 1189.8,1521.2 1190.5,1521.1 1191.2,1521.1 1192.0,1521.1 1192.8,1521.0 1193.5,1521.0 1194.2,1521.0 1195.0,1520.9 1195.8,1520.9 1196.5,1520.9 1197.2,1520.8 1198.0,1520.8 1198.8,1520.8 1199.5,1520.7 1200.2,1520.7 1201.0,1520.7 1201.8,1520.6 1202.5,1520.6 1203.2,1520.6 1204.0,1520.5 1204.8,1520.5 1205.5,1520.5 1206.2,1520.4 1207.0,1520.4 1207.8,1520.4 1208.5,1520.3 1209.2,1520.3 1210.0,1520.3 1210.8,1520.2 1211.5,1520.2 1212.2,1520.2 1213.0,1520.1 1213.8,1520.1 1214.5,1520.0 1215.2,1520.0 1216.0,1520.0 1216.8,1519.9 1217.5,1519.9 1218.2,1519.9 1219.0,1519.8 1219.8,1519.8 1220.5,1519.8 1221.2,1519.7 1222.0,1519.7 1222.8,1519.7 1223.5,1519.6 1224.2,1519.6 1225.0,1519.6 1225.8,1519.5 1226.5,1519.5 1227.2,1519.5 1228.0,1519.4 1228.8,1519.4 1229.5,1519.4 1230.2,1519.3 1231.0,1519.3 1231.8,1519.2 1232.5,1519.2 1233.2,1519.2 1234.0,1519.1 1234.8,1519.1 1235.5,1519.1 1236.2,1519.0 1237.0,1519.0 1237.8,1518.9 1238.5,1518.9 1239.2,1518.9 1240.0,1518.8 1240.8,1518.8 1241.5,1518.8 1242.2,1518.7 1243.0,1518.7 1243.8,1518.6 1244.5,1518.6 1245.2,1518.6 1246.0,1518.5 1246.8,1518.5 1247.5,1518.4 1248.2,1518.4 1249.0,1518.4 1249.8,1518.3 1250.5,1518.3 1251.2,1518.2 1252.0,1518.2 1252.8,1518.1 1253.5,1518.1 1254.2,1518.1 1255.0,1518.0 1255.8,1518.0 1256.5,1517.9 1257.2,1517.9 1258.0,1517.8 1258.8,1517.8 1259.5,1517.7 1260.2,1517.7 1261.0,1517.6 1261.8,1517.6 1262.5,1517.6 1263.2,1517.5 1264.0,1517.5 1264.8,1517.4 1265.5,1517.4 1266.2,1517.3 1267.0,1517.3 1267.8,1517.2 1268.5,1517.2 1269.2,1517.1 1270.0,1517.1 1270.8,1517.0 1271.5,1517.0 1272.2,1516.9 1273.0,1516.9 1273.8,1516.8 1274.5,1516.7 1275.2,1516.7 1276.0,1516.6 1276.8,1516.6 1277.5,1516.5 1278.2,1516.5 1279.0,1516.4 1279.8,1516.4 1280.5,1516.3 1281.2,1516.2 1282.0,1516.2 1282.8,1516.1 1283.5,1516.1 1284.2,1516.0 1285.0,1515.9 1285.8,1515.9 1286.5,1515.8 1287.2,1515.8 1288.0,1515.7 1288.8,1515.6 1289.5,1515.6 1290.2,1515.5 1291.0,1515.4 1291.8,1515.4 1292.5,1515.3 1293.2,1515.2 1294.0,1515.2 1294.8,1515.1 1295.5,1515.0 1296.2,1514.9 1297.0,1514.8 1297.8,1514.8 1298.5,1514.7 1299.2,1514.6 1300.0,1514.5 1300.8,1514.4 1301.5,1514.3 1302.2,1514.3 1303.0,1514.2 1303.8,1514.1 1304.5,1514.0 1305.2,1513.9 1306.0,1513.8 1306.8,1513.7 1307.5,1513.6 1308.2,1513.5 1309.0,1513.4 1309.8,1513.3 1310.5,1513.2 1311.2,1513.1 1312.0,1513.0 1312.8,1512.9 1313.5,1512.8 1314.2,1512.7 1315.0,1512.6 1315.8,1512.5 1316.5,1512.4 1317.2,1512.3 1318.0,1512.2 1318.8,1512.0 1319.5,1511.9 1320.2,1511.8 1321.0,1511.7 1321.8,1511.6 1322.5,1511.5 1323.2,1511.4 1324.0,1511.2 1324.8,1511.1 1325.5,1511.0 1326.2,1510.9 1327.0,1510.8 1327.8,1510.6 1328.5,1510.5 1329.2,1510.4 1330.0,1510.3 1330.8,1510.2 1331.5,1510.0 1332.2,1509.9 1333.0,1509.8 1333.8,1509.7 1334.5,1509.5 1335.2,1509.4 1336.0,1509.3 1336.8,1509.1 1337.5,1509.0 1338.2,1508.9 1339.0,1508.8 1339.8,1508.6 1340.5,1508.5 1341.2,1508.4 1342.0,1508.2 1342.8,1508.1 1343.5,1508.0 1344.2,1507.8 1345.0,1507.7 1345.8,1507.6 1346.5,1507.4 1347.2,1507.3 1348.0,1507.2 1348.8,1507.0 1349.5,1506.9 1350.2,1506.8 1351.0,1506.6 1351.8,1506.5 1352.5,1506.3 1353.2,1506.2 1354.0,1506.1 1354.8,1505.9 1355.5,1505.8 1356.2,1505.7 1357.0,1505.5 1357.8,1505.4 1358.5,1505.3 1359.2,1505.1 1360.0,1505.0 1360.8,1504.9 1361.5,1504.7 1362.2,1504.6 1363.0,1504.4 1363.8,1504.3 1364.5,1504.1 1365.2,1504.0 1366.0,1503.8 1366.8,1503.7 1367.5,1503.5 1368.2,1503.4 1369.0,1503.2 1369.8,1503.1 1370.5,1502.9 1371.2,1502.7 1372.0,1502.5 1372.8,1502.4 1373.5,1502.2 1374.2,1502.0 1375.0,1501.8 1375.8,1501.6 1376.5,1501.4 1377.2,1501.2 1378.0,1501.0 1378.8,1500.8 1379.5,1500.6 1380.2,1500.4 1381.0,1500.2 1381.8,1500.0 1382.5,1499.7 1383.2,1499.5 1384.0,1499.2 1384.8,1499.0 1385.5,1498.7 1386.2,1498.5 1387.0,1498.2 1387.8,1497.9 1388.5,1497.7 1389.2,1497.4 1390.0,1497.1 1390.8,1496.8 1391.5,1496.4 1392.2,1496.1 1393.0,1495.7 1393.8,1495.3 1394.5,1494.9 1395.2,1494.4 1396.0,1493.9 1396.8,1493.4 1397.5,1492.8 1398.2,1492.2 1399.0,1491.5 1399.8,1490.8 1400.5,1490.0 1401.2,1489.0 1402.0,1487.9 1402.8,1486.5 1403.5,1484.9 1404.2,1482.9 1405.0,1480.7 1405.8,1478.1 1406.5,1475.0 1407.2,1469.4 1408.0,1460.6 1408.8,1449.8 1409.5,1438.1 1410.2,1426.4 1411.0,1412.0 1411.8,1396.7 1412.5,1383.3 1413.2,1372.7 1414.0,1362.8 1414.8,1356.6 1415.5,1355.6 1416.2,1355.3 1417.0,1355.0 1417.8,1355.2 1418.5,1357.8 1419.2,1361.3 1420.0,1363.0 1420.8,1360.8 1421.5,1355.8 1422.2,1349.9 1423.0,1341.6 1423.8,1332.6 1424.5,1324.9 1425.2,1316.7 1426.0,1308.6 1426.8,1301.6 1427.5,1296.8 1428.2,1295.2 1429.0,1298.5 1429.8,1306.2 1430.5,1316.6 1431.2,1327.8 1432.0,1340.8 1432.8,1357.2 1433.5,1372.0 1434.2,1384.9 1435.0,1395.7 1435.8,1399.5 1436.5,1400.9 1437.2,1401.7 1438.0,1402.0 1438.8,1401.5 1439.5,1400.4 1440.2,1399.2 1441.0,1398.2 1441.8,1398.1 1442.5,1399.9 1443.2,1402.9 1444.0,1407.0 1444.8,1413.5 1445.5,1420.0 1446.2,1425.7 1447.0,1431.6 1447.8,1437.4 1448.5,1442.6 1449.2,1447.1 1450.0,1450.5 1450.8,1453.1 1451.5,1455.3 1452.2,1457.2 1453.0,1458.9 1453.8,1460.5 1454.5,1462.0 1455.2,1463.5 1456.0,1465.1 1456.8,1466.6 1457.5,1468.1 1458.2,1469.4 1459.0,1470.6 1459.8,1471.5 1460.5,1472.3 1461.2,1472.9 1462.0,1473.6 1462.8,1474.2 1463.5,1474.8 1464.2,1475.4 1465.0,1475.9 1465.8,1476.4 1466.5,1476.9 1467.2,1477.3 1468.0,1477.7 1468.8,1478.1 1469.5,1478.5 1470.2,1478.8 1471.0,1479.2 1471.8,1479.5 1472.5,1479.7 1473.2,1480.0 1474.0,1480.2 1474.8,1480.4 1475.5,1480.6 1476.2,1480.8 1477.0,1481.0 1477.8,1481.2 1478.5,1481.4 1479.2,1481.6 1480.0,1481.7 1480.8,1481.9 1481.5,1482.0 1482.2,1482.2 1483.0,1482.3 1483.8,1482.5 1484.5,1482.6 1485.2,1482.7 1486.0,1482.8 1486.8,1482.8 1487.5,1482.9 1488.2,1483.0 1489.0,1483.0 1489.8,1483.0 1490.5,1483.0 1491.2,1483.0 1492.0,1483.0 1492.8,1483.0 1493.5,1482.9 1494.2,1482.9 1495.0,1482.9 1495.8,1482.8 1496.5,1482.8 1497.2,1482.7 1498.0,1482.6 1498.8,1482.6 1499.5,1482.5 1500.2,1482.4 1501.0,1482.4 1501.8,1482.3 1502.5,1482.2 1503.2,1482.1 1504.0,1482.0 1504.8,1481.9 1505.5,1481.8 1506.2,1481.7 1507.0,1481.6 1507.8,1481.5 1508.5,1481.4 1509.2,1481.3 1510.0,1481.2 1510.8,1481.1 1511.5,1481.0 1512.2,1480.9 1513.0,1480.8 1513.8,1480.7 1514.5,1480.6 1515.2,1480.5 1516.0,1480.4 1516.8,1480.3 1517.5,1480.2 1518.2,1480.1 1519.0,1480.0 1519.8,1479.9 1520.5,1479.8 1521.2,1479.7 1522.0,1479.6 1522.8,1479.5 1523.5,1479.4 1524.2,1479.4 1525.0,1479.3 1525.8,1479.2 1526.5,1479.2 1527.2,1479.1 1528.0,1479.0 1528.8,1479.0 1529.5,1478.9 1530.2,1478.8 1531.0,1478.7 1531.8,1478.7 1532.5,1478.6 1533.2,1478.5 1534.0,1478.5 1534.8,1478.4 1535.5,1478.3 1536.2,1478.3 1537.0,1478.2 1537.8,1478.2 1538.5,1478.1 1539.2,1478.0 1540.0,1478.0 1540.8,1477.9 1541.5,1477.8 1542.2,1477.8 1543.0,1477.7 1543.8,1477.6 1544.5,1477.6 1545.2,1477.5 1546.0,1477.5 1546.8,1477.4 1547.5,1477.3 1548.2,1477.3 1549.0,1477.2 1549.8,1477.2 1550.5,1477.1 1551.2,1477.0 1552.0,1477.0 1552.8,1476.9 1553.5,1476.8 1554.2,1476.8 1555.0,1476.7 1555.8,1476.7 1556.5,1476.6 1557.2,1476.5 1558.0,1476.5 1558.8,1476.4 1559.5,1476.4 1560.2,1476.3 1561.0,1476.3 1561.8,1476.2 1562.5,1476.1 1563.2,1476.1 1564.0,1476.0 1564.8,1476.0 1565.5,1475.9 1566.2,1475.8 1567.0,1475.8 1567.8,1475.7 1568.5,1475.7 1569.2,1475.6 1570.0,1475.5 1570.8,1475.5 1571.5,1475.4 1572.2,1475.4 1573.0,1475.3 1573.8,1475.2 1574.5,1475.2 1575.2,1475.1 1576.0,1475.1 1576.8,1475.0 1577.5,1474.9 1578.2,1474.9 1579.0,1474.8 1579.8,1474.8 1580.5,1474.7 1581.2,1474.6 1582.0,1474.6 1582.8,1474.5 1583.5,1474.5 1584.2,1474.4 1585.0,1474.3 1585.8,1474.3 1586.5,1474.2 1587.2,1474.2 1588.0,1474.1 1588.8,1474.0 1589.5,1474.0 1590.2,1473.9 1591.0,1473.8 1591.8,1473.8 1592.5,1473.7 1593.2,1473.6 1594.0,1473.6 1594.8,1473.5 1595.5,1473.4 1596.2,1473.4 1597.0,1473.3 1597.8,1473.2 1598.5,1473.2 1599.2,1473.1 1600.0,1473.0 1600.8,1473.0 1601.5,1472.9 1602.2,1472.8 1603.0,1472.8 1603.8,1472.7 1604.5,1472.6 1605.2,1472.6 1606.0,1472.5 1606.8,1472.4 1607.5,1472.4 1608.2,1472.3 1609.0,1472.2 1609.8,1472.2 1610.5,1472.1 1611.2,1472.1 1612.0,1472.0 1612.8,1471.9 1613.5,1471.9 1614.2,1471.8 1615.0,1471.7 1615.8,1471.7 1616.5,1471.6 1617.2,1471.5 1618.0,1471.5 1618.8,1471.4 1619.5,1471.3 1620.2,1471.3 1621.0,1471.2 1621.8,1471.1 1622.5,1471.1 1623.2,1471.0 1624.0,1470.9 1624.8,1470.9 1625.5,1470.8 1626.2,1470.7 1627.0,1470.7 1627.8,1470.6 1628.5,1470.5 1629.2,1470.5 1630.0,1470.4 1630.8,1470.3 1631.5,1470.3 1632.2,1470.2 1633.0,1470.1 1633.8,1470.1 1634.5,1470.0 1635.2,1469.9 1636.0,1469.9 1636.8,1469.8 1637.5,1469.7 1638.2,1469.6 1639.0,1469.6 1639.8,1469.5 1640.5,1469.4 1641.2,1469.3 1642.0,1469.3 1642.8,1469.2 1643.5,1469.1 1644.2,1469.0 1645.0,1468.9 1645.8,1468.9 1646.5,1468.8 1647.2,1468.7 1648.0,1468.6 1648.8,1468.5 1649.5,1468.5 1650.2,1468.4 1651.0,1468.3 1651.8,1468.2 1652.5,1468.1 1653.2,1468.0 1654.0,1467.9 1654.8,1467.9 1655.5,1467.8 1656.2,1467.7 1657.0,1467.6 1657.8,1467.5 1658.5,1467.4 1659.2,1467.3 1660.0,1467.2 1660.8,1467.1 1661.5,1467.0 1662.2,1466.9 1663.0,1466.8 1663.8,1466.7 1664.5,1466.6 1665.2,1466.5 1666.0,1466.4 1666.8,1466.3 1667.5,1466.2 1668.2,1466.1 1669.0,1466.0 1669.8,1465.9 1670.5,1465.8 1671.2,1465.7 1672.0,1465.6 1672.8,1465.5 1673.5,1465.3 1674.2,1465.2 1675.0,1465.1 1675.8,1465.0 1676.5,1464.9 1677.2,1464.8 1678.0,1464.6 1678.8,1464.5 1679.5,1464.4 1680.2,1464.2 1681.0,1464.1 1681.8,1464.0 1682.5,1463.8 1683.2,1463.7 1684.0,1463.5 1684.8,1463.4 1685.5,1463.2 1686.2,1463.0 1687.0,1462.9 1687.8,1462.7 1688.5,1462.5 1689.2,1462.3 1690.0,1462.1 1690.8,1461.9 1691.5,1461.7 1692.2,1461.5 1693.0,1461.3 1693.8,1461.1 1694.5,1460.8 1695.2,1460.6 1696.0,1460.4 1696.8,1460.1 1697.5,1459.8 1698.2,1459.5 1699.0,1459.1 1699.8,1458.8 1700.5,1458.4 1701.2,1457.9 1702.0,1457.5 1702.8,1457.0 1703.5,1456.5 1704.2,1456.0 1705.0,1455.4 1705.8,1454.8 1706.5,1454.2 1707.2,1453.6 1708.0,1453.0 1708.8,1452.3 1709.5,1451.6 1710.2,1450.8 1711.0,1450.1 1711.8,1449.3 1712.5,1448.4 1713.2,1447.4 1714.0,1446.4 1714.8,1445.2 1715.5,1443.9 1716.2,1442.5 1717.0,1441.0 1717.8,1439.2 1718.5,1437.4 1719.2,1435.3 1720.0,1432.5 1720.8,1428.9 1721.5,1424.6 1722.2,1419.8 1723.0,1414.4 1723.8,1408.6 1724.5,1402.4 1725.2,1396.0 1726.0,1389.3 1726.8,1381.3 1727.5,1372.2 1728.2,1362.2 1729.0,1351.7 1729.8,1340.7 1730.5,1329.6 1731.2,1318.6 1732.0,1308.0 1732.8,1297.4 1733.5,1286.4 1734.2,1275.2 1735.0,1264.0 1735.8,1252.8 1736.5,1242.0 1737.2,1231.7 1738.0,1222.0 1738.8,1212.7 1739.5,1203.6 1740.2,1195.1 1741.0,1187.5 1741.8,1180.9 1742.5,1174.1 1743.2,1168.0 1744.0,1164.1 1744.8,1164.0 1745.5,1167.6 1746.2,1173.6 1747.0,1180.4 1747.8,1187.0 1748.5,1194.8 1749.2,1203.5 1750.0,1212.9 1750.8,1222.7 1751.5,1232.9 1752.2,1244.0 1753.0,1255.7 1753.8,1267.7 1754.5,1279.9 1755.2,1292.2 1756.0,1304.2 1756.8,1315.9 1757.5,1328.3 1758.2,1341.3 1759.0,1354.4 1759.8,1366.9 1760.5,1378.4 1761.2,1388.2 1762.0,1396.0 1762.8,1402.3 1763.5,1408.2 1764.2,1413.6 1765.0,1418.5 1765.8,1422.9 1766.5,1426.6 1767.2,1429.7 1768.0,1432.0 1768.8,1433.9 1769.5,1435.7 1770.2,1437.4 1771.0,1439.0 1771.8,1440.4 1772.5,1441.7 1773.2,1442.7 1774.0,1443.6 1774.8,1444.3 1775.5,1444.8 1776.2,1445.1 1777.0,1445.3 1777.8,1445.5 1778.5,1445.6 1779.2,1445.8 1780.0,1445.9 1780.8,1446.1 1781.5,1446.2 1782.2,1446.3 1783.0,1446.4 1783.8,1446.4 1784.5,1446.5 1785.2,1446.5 1786.0,1446.5 1786.8,1446.4 1787.5,1446.3 1788.2,1446.0 1789.0,1445.6 1789.8,1445.2 1790.5,1444.6 1791.2,1444.0 1792.0,1443.2 1792.8,1442.4 1793.5,1441.5 1794.2,1440.5 1795.0,1439.5 1795.8,1437.9 1796.5,1435.2 1797.2,1431.8 1798.0,1427.9 1798.8,1423.6 1799.5,1419.3 1800.2,1415.0 1801.0,1410.3 1801.8,1405.2 1802.5,1399.8 1803.2,1394.1 1804.0,1388.3 1804.8,1382.4 1805.5,1376.2 1806.2,1369.3 1807.0,1362.5 1807.8,1356.6 1808.5,1351.9 1809.2,1347.3 1810.0,1344.0 1810.8,1343.5 1811.5,1346.0 1812.2,1350.3 1813.0,1355.0 1813.8,1360.3 1814.5,1366.8 1815.2,1373.7 1816.0,1380.4 1816.8,1387.1 1817.5,1394.2 1818.2,1401.2 1819.0,1407.6 1819.8,1412.9 1820.5,1417.3 1821.2,1421.4 1822.0,1424.5 1822.8,1425.3 1823.5,1423.8 1824.2,1420.9 1825.0,1418.0 1825.8,1415.3 1826.5,1412.3 1827.2,1409.5 1828.0,1407.4 1828.8,1405.8 1829.5,1404.3 1830.2,1402.9 1831.0,1401.9 1831.8,1401.2 1832.5,1400.7 1833.2,1400.4 1834.0,1400.0 1834.8,1399.8 1835.5,1399.6 1836.2,1399.4 1837.0,1399.4 1837.8,1399.5 1838.5,1399.9 1839.2,1400.4 1840.0,1401.0 1840.8,1401.8 1841.5,1402.6 1842.2,1403.8 1843.0,1405.3 1843.8,1406.9 1844.5,1408.4 1845.2,1410.2 1846.0,1412.0 1846.8,1414.0 1847.5,1416.0 1848.2,1418.0 1849.0,1420.0 1849.8,1421.9 1850.5,1423.6 1851.2,1425.1 1852.0,1426.4 1852.8,1427.6 1853.5,1428.7 1854.2,1429.8 1855.0,1430.9 1855.8,1431.9 1856.5,1432.8 1857.2,1433.6 1858.0,1434.3 1858.8,1434.9 1859.5,1435.3 1860.2,1435.6 1861.0,1435.8 1861.8,1436.0 1862.5,1436.2 1863.2,1436.4 1864.0,1436.6 1864.8,1436.7 1865.5,1436.8 1866.2,1436.9 1867.0,1437.0 1867.8,1437.0 1868.5,1437.0 1869.2,1437.0 1870.0,1436.9 1870.8,1436.8 1871.5,1436.7 1872.2,1436.6 1873.0,1436.4 1873.8,1436.2 1874.5,1436.0 1875.2,1435.8 1876.0,1435.5 1876.8,1435.0 1877.5,1434.1 1878.2,1432.8 1879.0,1431.3 1879.8,1429.6 1880.5,1427.8 1881.2,1426.1 1882.0,1424.4 1882.8,1422.8 1883.5,1421.2 1884.2,1419.6 1885.0,1418.0 1885.8,1416.3 1886.5,1414.5 1887.2,1412.6 1888.0,1410.5 1888.8,1408.4 1889.5,1406.1 1890.2,1403.5 1891.0,1400.6 1891.8,1397.3 1892.5,1393.6 1893.2,1389.7 1894.0,1385.6 1894.8,1381.4 1895.5,1377.2 1896.2,1373.0 1897.0,1368.3 1897.8,1363.4 1898.5,1358.7 1899.2,1354.8 1900.0,1351.8 1900.8,1349.0 1901.5,1345.8 1902.2,1341.2 1903.0,1333.7 1903.8,1324.8 1904.5,1315.9 1905.2,1307.0 1906.0,1301.7 1906.8,1297.6 1907.5,1295.3 1908.2,1296.8 1909.0,1302.8 1909.8,1311.5 1910.5,1328.2 1911.2,1345.4 1912.0,1362.1 1912.8,1376.6 1913.5,1390.5 1914.2,1402.7 1915.0,1410.4 1915.8,1414.8 1916.5,1418.6 1917.2,1421.9 1918.0,1424.5 1918.8,1426.5 1919.5,1427.9 1920.2,1428.6 1921.0,1429.2 1921.8,1429.7 1922.5,1430.1 1923.2,1430.6 1924.0,1430.9 1924.8,1431.3 1925.5,1431.6 1926.2,1431.8 1927.0,1432.0 1927.8,1432.2 1928.5,1432.3 1929.2,1432.4 1930.0,1432.5 1930.8,1432.5 1931.5,1432.6 1932.2,1432.6 1933.0,1432.7 1933.8,1432.7 1934.5,1432.8 1935.2,1432.8 1936.0,1432.8 1936.8,1432.8 1937.5,1432.9 1938.2,1432.9 1939.0,1432.9 1939.8,1432.9 1940.5,1433.0 1941.2,1433.0 1942.0,1433.0 1942.8,1433.0 1943.5,1433.0 1944.2,1433.0 1945.0,1433.0 1945.8,1433.0 1946.5,1433.0 1947.2,1433.0 1948.0,1433.0 1948.8,1433.0 1949.5,1433.0 1950.2,1432.9 1951.0,1432.9 1951.8,1432.9 1952.5,1432.9 1953.2,1432.8 1954.0,1432.8 1954.8,1432.8 1955.5,1432.8 1956.2,1432.7 1957.0,1432.7 1957.8,1432.6 1958.5,1432.6 1959.2,1432.5 1960.0,1432.5 1960.8,1432.4 1961.5,1432.3 1962.2,1432.2 1963.0,1432.0 1963.8,1431.8 1964.5,1431.5 1965.2,1431.2 1966.0,1430.8 1966.8,1430.5 1967.5,1430.1 1968.2,1429.6 1969.0,1429.1 1969.8,1428.6 1970.5,1427.9 1971.2,1426.7 1972.0,1425.2 1972.8,1423.3 1973.5,1421.2 1974.2,1419.1 1975.0,1417.0 1975.8,1415.0 1976.5,1413.1 1977.2,1411.1 1978.0,1409.0 1978.8,1407.2 1979.5,1406.0 1980.2,1405.1 1981.0,1404.3 1981.8,1403.8 1982.5,1403.4 1983.2,1403.5 1984.0,1404.0 1984.8,1404.8 1985.5,1405.8 1986.2,1406.9 1987.0,1408.6 1987.8,1410.7 1988.5,1413.0 1989.2,1415.1 1990.0,1417.3 1990.8,1419.7 1991.5,1422.2 1992.2,1424.7 1993.0,1427.2 1993.8,1429.4 1994.5,1431.5 1995.2,1433.2 1996.0,1434.5 1996.8,1435.6 1997.5,1436.5 1998.2,1437.4 1999.0,1438.2 1999.8,1438.9 2000.5,1439.5 2001.2,1440.1 2002.0,1440.5 2002.8,1440.9 2003.5,1441.3 2004.2,1441.7 2005.0,1442.0 2005.8,1442.2 2006.5,1442.4 2007.2,1442.5 2008.0,1442.4 2008.8,1442.1 2009.5,1441.7 2010.2,1441.1 2011.0,1440.5 2011.8,1439.6 2012.5,1438.3 2013.2,1436.6 2014.0,1434.5 2014.8,1431.0 2015.5,1425.7 2016.2,1419.8 2017.0,1414.4 2017.8,1409.1 2018.5,1404.1 2019.2,1401.3 2020.0,1399.5 2020.8,1398.5 2021.5,1398.7 2022.2,1400.0 2023.0,1402.0 2023.8,1407.1 2024.5,1414.4 2025.2,1421.9 2026.0,1430.2 2026.8,1437.6 2027.5,1442.5 2028.2,1445.3 2029.0,1447.7 2029.8,1449.8 2030.5,1451.5 2031.2,1452.9 2032.0,1454.0 2032.8,1454.7 2033.5,1455.4 2034.2,1456.1 2035.0,1456.7 2035.8,1457.2 2036.5,1457.6 2037.2,1458.0 2038.0,1458.3 2038.8,1458.4 2039.5,1458.5 2040.2,1458.4 2041.0,1458.3 2041.8,1458.0 2042.5,1457.7 2043.2,1457.2 2044.0,1456.7 2044.8,1456.1 2045.5,1455.5 2046.2,1454.8 2047.0,1454.1 2047.8,1453.3 2048.5,1452.5 2049.2,1451.6 2050.0,1450.4 2050.8,1449.1 2051.5,1447.5 2052.2,1445.7 2053.0,1443.6 2053.8,1441.3 2054.5,1438.7 2055.2,1435.9 2056.0,1432.7 2056.8,1429.2 2057.5,1423.7 2058.2,1416.3 2059.0,1407.9 2059.8,1399.0 2060.5,1390.4 2061.2,1382.2 2062.0,1373.7 2062.8,1365.1 2063.5,1356.1 2064.2,1346.8 2065.0,1337.1 2065.8,1326.8 2066.5,1315.4 2067.2,1303.0 2068.0,1290.2 2068.8,1277.4 2069.5,1265.1 2070.2,1253.7 2071.0,1243.3 2071.8,1233.1 2072.5,1224.6 2073.2,1218.4 2074.0,1213.3 2074.8,1212.4 2075.5,1216.7 2076.2,1223.5 2077.0,1232.8 2077.8,1245.8 2078.5,1260.2 2079.2,1276.6 2080.0,1295.5 2080.8,1314.2 2081.5,1330.3 2082.2,1344.0 2083.0,1357.1 2083.8,1369.2 2084.5,1379.7 2085.2,1388.1 2086.0,1394.6 2086.8,1400.4 2087.5,1405.4 2088.2,1409.7 2089.0,1412.9 2089.8,1415.0 2090.5,1416.8 2091.2,1418.2 2092.0,1419.1 2092.8,1419.4 2093.5,1419.1 2094.2,1418.5 2095.0,1417.7 2095.8,1416.6 2096.5,1414.7 2097.2,1411.9 2098.0,1408.2 2098.8,1402.5 2099.5,1395.1 2100.2,1386.8 2101.0,1378.4 2101.8,1370.5 2102.5,1362.7 2103.2,1354.7"/>
</g>
<!-- frame -->
<rect x="172.0" y="59.3" width="1932.0" height="1556.7" fill="none" stroke="#000" stroke-width="5.6"/>
<g class="axis">
<line x1="172.0" y1="1616.0" x2="172.0" y2="1647.6"/>
<line x1="375.4" y1="1616.0" x2="375.4" y2="1647.6"/>
<line x1="578.7" y1="1616.0" x2="578.7" y2="1647.6"/>
<line x1="782.1" y1="1616.0" x2="782.1" y2="1647.6"/>
<line x1="985.5" y1="1616.0" x2="985.5" y2="1647.6"/>
<line x1="1188.8" y1="1616.0" x2="1188.8" y2="1647.6"/>
<line x1="1392.2" y1="1616.0" x2="1392.2" y2="1647.6"/>
<line x1="1595.6" y1="1616.0" x2="1595.6" y2="1647.6"/>
<line x1="1798.9" y1="1616.0" x2="1798.9" y2="1647.6"/>
<line x1="2002.3" y1="1616.0" x2="2002.3" y2="1647.6"/>
<line x1="273.7" y1="1616.0" x2="273.7" y2="1632.6"/>
<line x1="477.1" y1="1616.0" x2="477.1" y2="1632.6"/>
<line x1="680.4" y1="1616.0" x2="680.4" y2="1632.6"/>
<line x1="883.8" y1="1616.0" x2="883.8" y2="1632.6"/>
<line x1="1087.2" y1="1616.0" x2="1087.2" y2="1632.6"/>
<line x1="1290.5" y1="1616.0" x2="1290.5" y2="1632.6"/>
<line x1="1493.9" y1="1616.0" x2="1493.9" y2="1632.6"/>
<line x1="1697.3" y1="1616.0" x2="1697.3" y2="1632.6"/>
<line x1="1900.6" y1="1616.0" x2="1900.6" y2="1632.6"/>
<line x1="2104.0" y1="1616.0" x2="2104.0" y2="1632.6"/>
</g>
<g class="ticklab">
<text x="172.0" y="1717.8" text-anchor="middle">3000</text>
<text x="375.4" y="1717.8" text-anchor="middle">2800</text>
<text x="578.7" y="1717.8" text-anchor="middle">2600</text>
<text x="782.1" y="1717.8" text-anchor="middle">2400</text>
<text x="985.5" y="1717.8" text-anchor="middle">2200</text>
<text x="1188.8" y="1717.8" text-anchor="middle">2000</text>
<text x="1392.2" y="1717.8" text-anchor="middle">1800</text>
<text x="1595.6" y="1717.8" text-anchor="middle">1600</text>
<text x="1798.9" y="1717.8" text-anchor="middle">1400</text>
<text x="2002.3" y="1717.8" text-anchor="middle">1200</text>
</g>
<!-- axis titles -->
<text x="801.8" y="1855.6" font-size="81.5">Wavenumber (cm</text>
<text x="1402.3" y="1821.2" font-size="50.5">-1</text>
<text x="1448.8" y="1855.6" font-size="81.5">)</text>
<text transform="translate(104.8,837) rotate(-90)" text-anchor="middle" font-size="81.3">Raman Intensity (u.a.)</text>
<!-- legend -->
<g class="leg">
<rect x="236.6" y="139.6" width="639.6" height="380.7" fill="#fff" stroke="#858585" stroke-width="3.4"/>
<line x1="241.2" y1="186.2" x2="397.4" y2="186.2" stroke="#ff8209" stroke-width="6.6"/>
<line x1="241.2" y1="282.6" x2="397.4" y2="282.6" stroke="#000" stroke-width="6.6"/>
<line x1="241.2" y1="365.1" x2="397.4" y2="365.1" stroke="#ff0000" stroke-width="6.6"/>
<line x1="241.2" y1="461.9" x2="397.4" y2="461.9" stroke="#0000ff" stroke-width="6.6"/>
<text x="412" y="207.3">MNP-Fe<tspan class="sub" dy="18.5">3</tspan><tspan dy="-18.5">O</tspan><tspan class="sub" dy="18.5">4</tspan></text>
<text x="411.2" y="304.4">neat PLA</text>
<text x="412.6" y="386.8">18 % Fe<tspan class="sub" dy="18.5">3</tspan><tspan dy="-18.5">O</tspan><tspan class="sub" dy="18.5">4</tspan><tspan dy="-18.5">/PLA</tspan></text>
<text x="412.6" y="483.8">33% Fe<tspan class="sub" dy="18.5">3</tspan><tspan dy="-18.5">O</tspan><tspan class="sub" dy="18.5">4</tspan><tspan dy="-18.5">/PLA</tspan></text>
</g>
</g>
</svg>
</body>
</html>
